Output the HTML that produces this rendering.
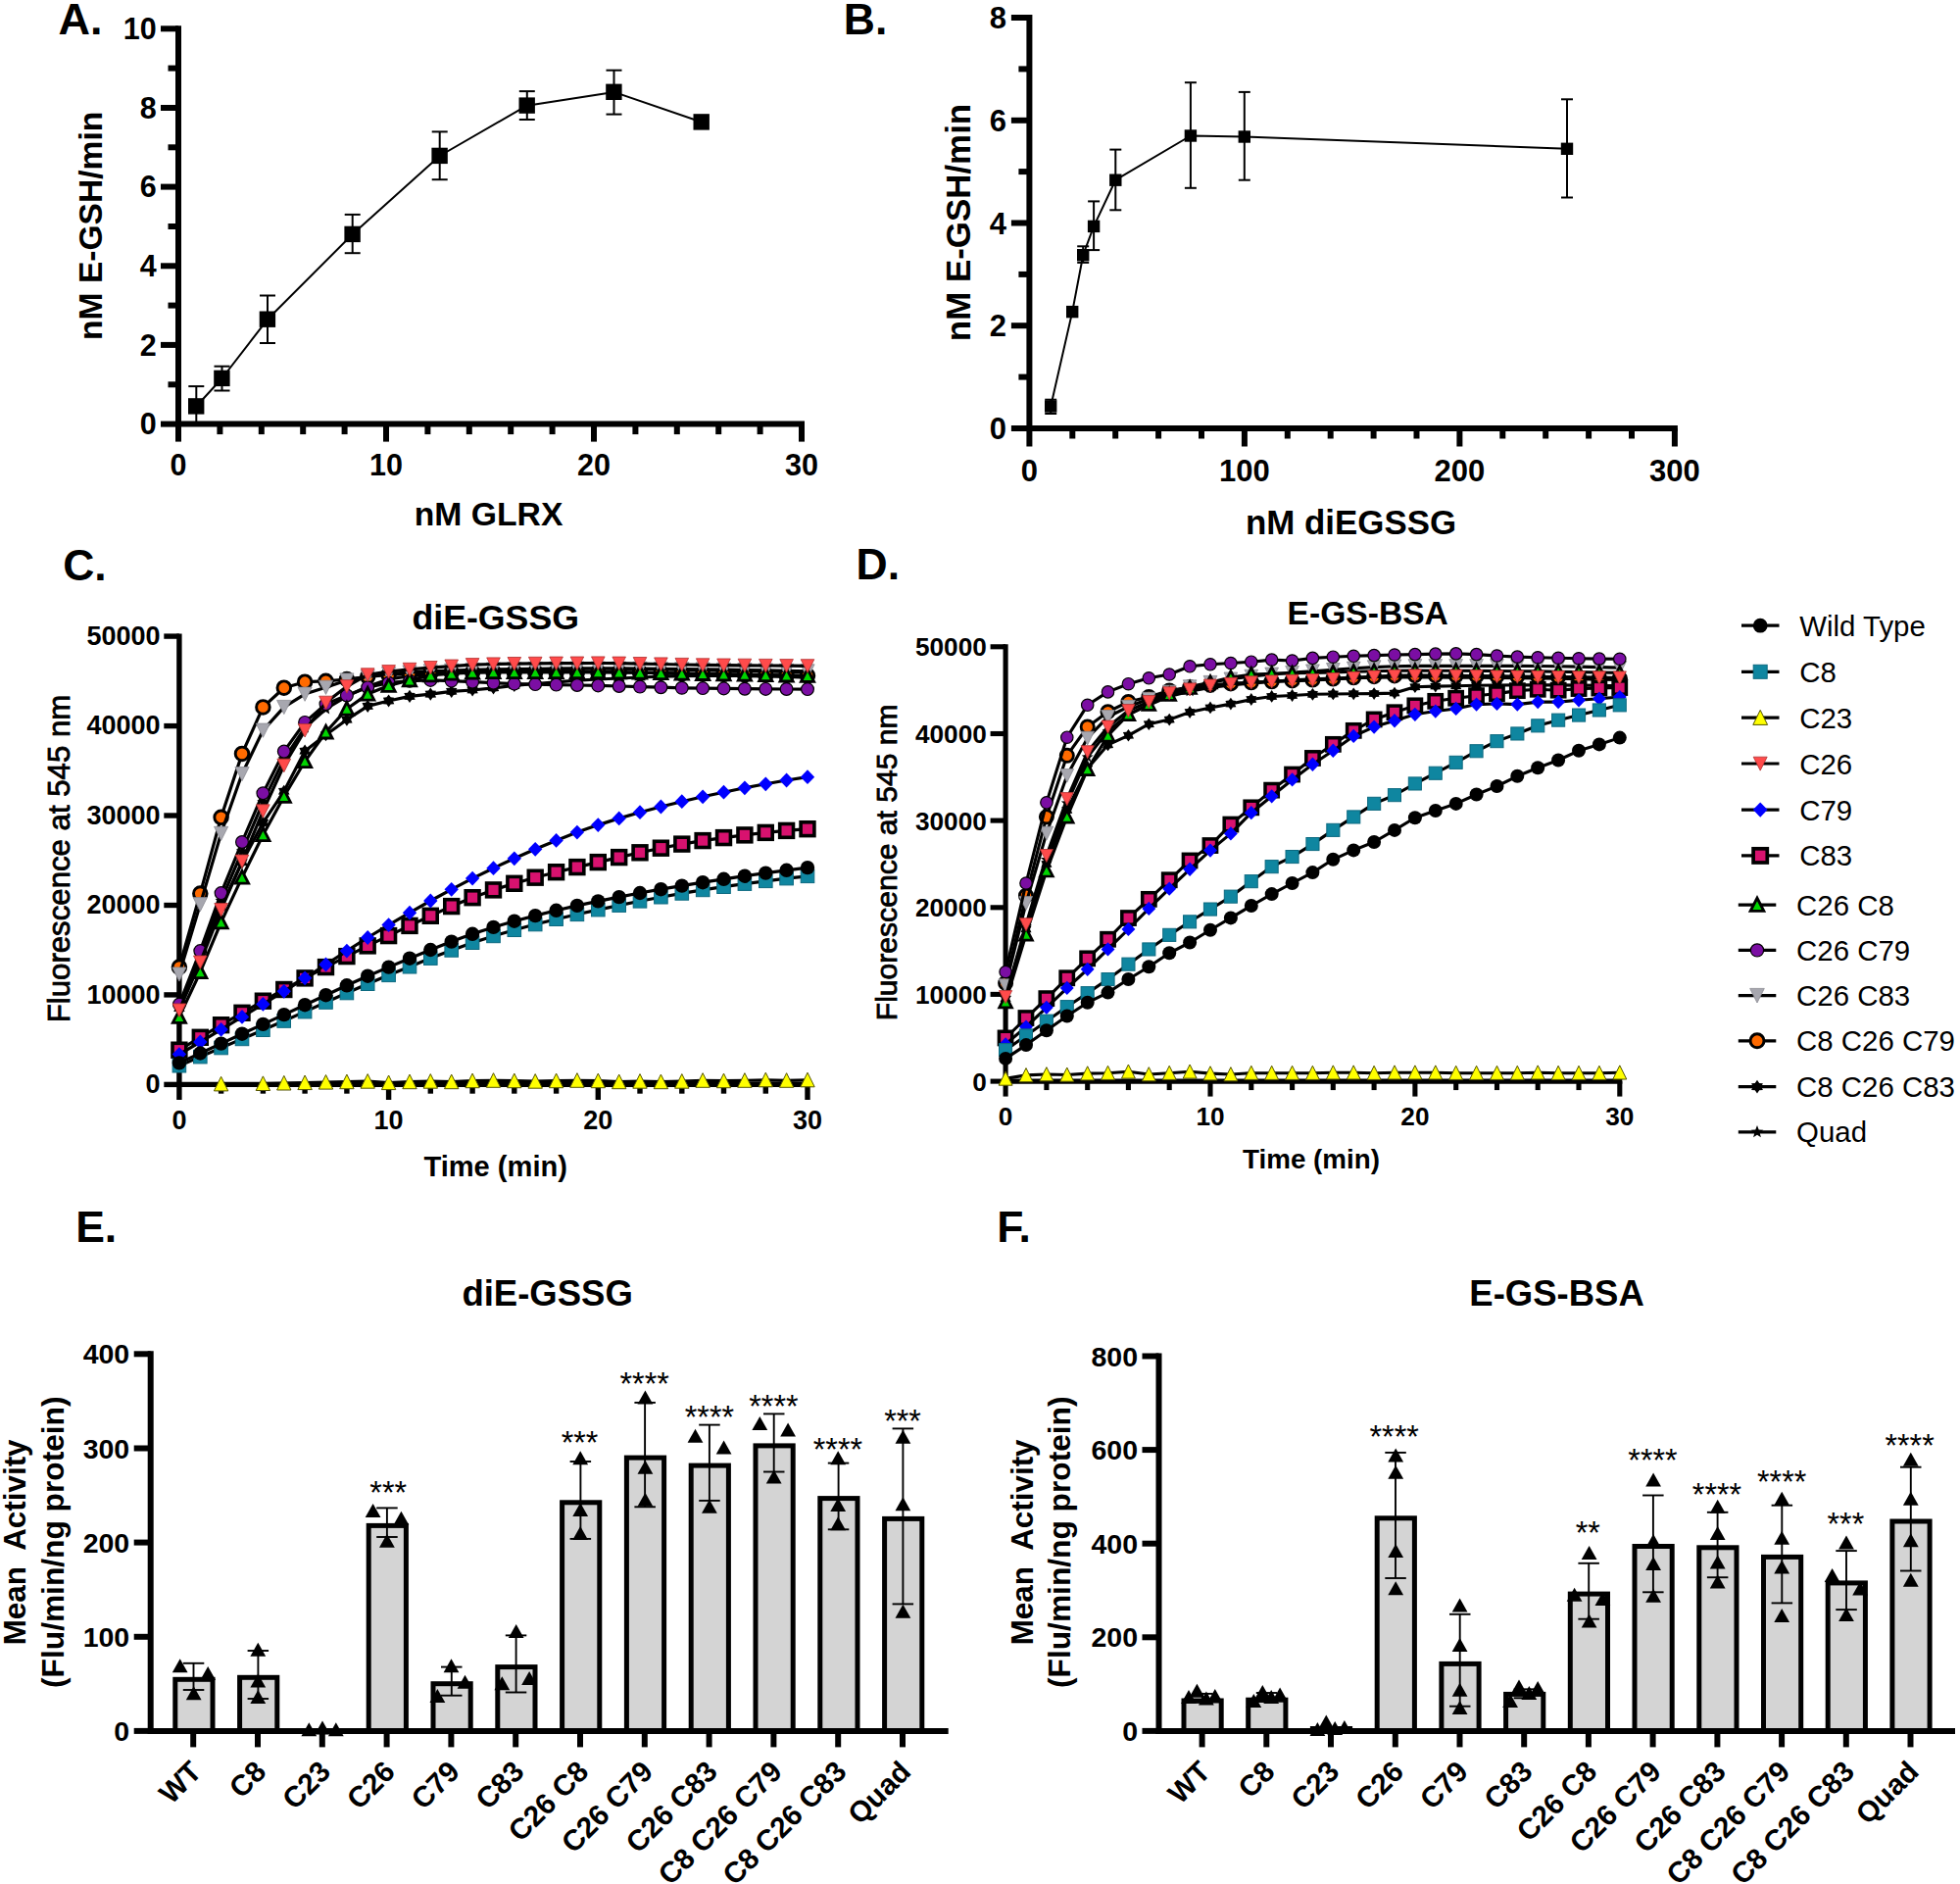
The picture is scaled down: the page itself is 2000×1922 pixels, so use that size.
<!DOCTYPE html>
<html><head><meta charset="utf-8"><title>Figure</title>
<style>
html,body{margin:0;padding:0;background:#fff;}
svg{display:block;font-family:'Liberation Sans', sans-serif;}
</style></head><body>
<svg width="2000" height="1922" viewBox="0 0 2000 1922">
<rect width="2000" height="1922" fill="#fff"/>
<line x1="182" y1="26.3" x2="182" y2="435.6" stroke="#000" stroke-width="6" stroke-linecap="butt"/>
<line x1="179" y1="432.6" x2="821" y2="432.6" stroke="#000" stroke-width="6" stroke-linecap="butt"/>
<line x1="164" y1="432.6" x2="182" y2="432.6" stroke="#000" stroke-width="6" stroke-linecap="butt"/>
<text x="159.7" y="443.4" font-size="30.5" font-weight="bold" text-anchor="end">0</text>
<line x1="171.5" y1="392.3" x2="182" y2="392.3" stroke="#000" stroke-width="6" stroke-linecap="butt"/>
<line x1="164" y1="351.9" x2="182" y2="351.9" stroke="#000" stroke-width="6" stroke-linecap="butt"/>
<text x="159.7" y="362.7" font-size="30.5" font-weight="bold" text-anchor="end">2</text>
<line x1="171.5" y1="311.6" x2="182" y2="311.6" stroke="#000" stroke-width="6" stroke-linecap="butt"/>
<line x1="164" y1="271.3" x2="182" y2="271.3" stroke="#000" stroke-width="6" stroke-linecap="butt"/>
<text x="159.7" y="282.1" font-size="30.5" font-weight="bold" text-anchor="end">4</text>
<line x1="171.5" y1="231" x2="182" y2="231" stroke="#000" stroke-width="6" stroke-linecap="butt"/>
<line x1="164" y1="190.6" x2="182" y2="190.6" stroke="#000" stroke-width="6" stroke-linecap="butt"/>
<text x="159.7" y="201.4" font-size="30.5" font-weight="bold" text-anchor="end">6</text>
<line x1="171.5" y1="150.3" x2="182" y2="150.3" stroke="#000" stroke-width="6" stroke-linecap="butt"/>
<line x1="164" y1="110" x2="182" y2="110" stroke="#000" stroke-width="6" stroke-linecap="butt"/>
<text x="159.7" y="120.8" font-size="30.5" font-weight="bold" text-anchor="end">8</text>
<line x1="171.5" y1="69.6" x2="182" y2="69.6" stroke="#000" stroke-width="6" stroke-linecap="butt"/>
<line x1="164" y1="29.3" x2="182" y2="29.3" stroke="#000" stroke-width="6" stroke-linecap="butt"/>
<text x="159.7" y="40.1" font-size="30.5" font-weight="bold" text-anchor="end">10</text>
<line x1="182" y1="432.6" x2="182" y2="450.6" stroke="#000" stroke-width="6" stroke-linecap="butt"/>
<text x="182" y="484.8" font-size="30.5" font-weight="bold" text-anchor="middle">0</text>
<line x1="224.4" y1="432.6" x2="224.4" y2="443.1" stroke="#000" stroke-width="6" stroke-linecap="butt"/>
<line x1="266.8" y1="432.6" x2="266.8" y2="443.1" stroke="#000" stroke-width="6" stroke-linecap="butt"/>
<line x1="309.2" y1="432.6" x2="309.2" y2="443.1" stroke="#000" stroke-width="6" stroke-linecap="butt"/>
<line x1="351.6" y1="432.6" x2="351.6" y2="443.1" stroke="#000" stroke-width="6" stroke-linecap="butt"/>
<line x1="394" y1="432.6" x2="394" y2="450.6" stroke="#000" stroke-width="6" stroke-linecap="butt"/>
<text x="394" y="484.8" font-size="30.5" font-weight="bold" text-anchor="middle">10</text>
<line x1="436.4" y1="432.6" x2="436.4" y2="443.1" stroke="#000" stroke-width="6" stroke-linecap="butt"/>
<line x1="478.8" y1="432.6" x2="478.8" y2="443.1" stroke="#000" stroke-width="6" stroke-linecap="butt"/>
<line x1="521.2" y1="432.6" x2="521.2" y2="443.1" stroke="#000" stroke-width="6" stroke-linecap="butt"/>
<line x1="563.6" y1="432.6" x2="563.6" y2="443.1" stroke="#000" stroke-width="6" stroke-linecap="butt"/>
<line x1="606" y1="432.6" x2="606" y2="450.6" stroke="#000" stroke-width="6" stroke-linecap="butt"/>
<text x="606" y="484.8" font-size="30.5" font-weight="bold" text-anchor="middle">20</text>
<line x1="648.4" y1="432.6" x2="648.4" y2="443.1" stroke="#000" stroke-width="6" stroke-linecap="butt"/>
<line x1="690.8" y1="432.6" x2="690.8" y2="443.1" stroke="#000" stroke-width="6" stroke-linecap="butt"/>
<line x1="733.2" y1="432.6" x2="733.2" y2="443.1" stroke="#000" stroke-width="6" stroke-linecap="butt"/>
<line x1="775.6" y1="432.6" x2="775.6" y2="443.1" stroke="#000" stroke-width="6" stroke-linecap="butt"/>
<line x1="818" y1="432.6" x2="818" y2="450.6" stroke="#000" stroke-width="6" stroke-linecap="butt"/>
<text x="818" y="484.8" font-size="30.5" font-weight="bold" text-anchor="middle">30</text>
<text x="498.6" y="536.4" font-size="33.7" font-weight="bold" text-anchor="middle">nM GLRX</text>
<text x="104.4" y="230.3" font-size="33.6" font-weight="bold" text-anchor="middle" transform="rotate(-90 104.4 230.3)">nM E-GSH/min</text>
<text x="59.6" y="34.8" font-size="45" font-weight="bold" text-anchor="start">A.</text>
<polyline points="200.3,414.5 226.5,386 273,325.8 359.7,239 448.7,159 537.8,107.7 626.5,93.9 715.8,124.5" fill="none" stroke="#000" stroke-width="2" stroke-linejoin="round"/>
<line x1="200.3" y1="394.1" x2="200.3" y2="432.6" stroke="#000" stroke-width="2" stroke-linecap="butt"/>
<line x1="192.3" y1="394.1" x2="208.3" y2="394.1" stroke="#000" stroke-width="2" stroke-linecap="butt"/>
<line x1="192.3" y1="432.6" x2="208.3" y2="432.6" stroke="#000" stroke-width="2" stroke-linecap="butt"/>
<line x1="226.5" y1="373.7" x2="226.5" y2="398.5" stroke="#000" stroke-width="2" stroke-linecap="butt"/>
<line x1="218.5" y1="373.7" x2="234.5" y2="373.7" stroke="#000" stroke-width="2" stroke-linecap="butt"/>
<line x1="218.5" y1="398.5" x2="234.5" y2="398.5" stroke="#000" stroke-width="2" stroke-linecap="butt"/>
<line x1="273" y1="301.5" x2="273" y2="350" stroke="#000" stroke-width="2" stroke-linecap="butt"/>
<line x1="265" y1="301.5" x2="281" y2="301.5" stroke="#000" stroke-width="2" stroke-linecap="butt"/>
<line x1="265" y1="350" x2="281" y2="350" stroke="#000" stroke-width="2" stroke-linecap="butt"/>
<line x1="359.7" y1="218.9" x2="359.7" y2="258.2" stroke="#000" stroke-width="2" stroke-linecap="butt"/>
<line x1="351.7" y1="218.9" x2="367.7" y2="218.9" stroke="#000" stroke-width="2" stroke-linecap="butt"/>
<line x1="351.7" y1="258.2" x2="367.7" y2="258.2" stroke="#000" stroke-width="2" stroke-linecap="butt"/>
<line x1="448.7" y1="134.4" x2="448.7" y2="183.2" stroke="#000" stroke-width="2" stroke-linecap="butt"/>
<line x1="440.7" y1="134.4" x2="456.7" y2="134.4" stroke="#000" stroke-width="2" stroke-linecap="butt"/>
<line x1="440.7" y1="183.2" x2="456.7" y2="183.2" stroke="#000" stroke-width="2" stroke-linecap="butt"/>
<line x1="537.8" y1="93.1" x2="537.8" y2="122" stroke="#000" stroke-width="2" stroke-linecap="butt"/>
<line x1="529.8" y1="93.1" x2="545.8" y2="93.1" stroke="#000" stroke-width="2" stroke-linecap="butt"/>
<line x1="529.8" y1="122" x2="545.8" y2="122" stroke="#000" stroke-width="2" stroke-linecap="butt"/>
<line x1="626.5" y1="71.7" x2="626.5" y2="116.6" stroke="#000" stroke-width="2" stroke-linecap="butt"/>
<line x1="618.5" y1="71.7" x2="634.5" y2="71.7" stroke="#000" stroke-width="2" stroke-linecap="butt"/>
<line x1="618.5" y1="116.6" x2="634.5" y2="116.6" stroke="#000" stroke-width="2" stroke-linecap="butt"/>
<rect x="192" y="406.2" width="16.4" height="16.4" fill="#000"/>
<rect x="218.2" y="377.7" width="16.4" height="16.4" fill="#000"/>
<rect x="264.7" y="317.5" width="16.4" height="16.4" fill="#000"/>
<rect x="351.4" y="230.7" width="16.4" height="16.4" fill="#000"/>
<rect x="440.4" y="150.7" width="16.4" height="16.4" fill="#000"/>
<rect x="529.5" y="99.4" width="16.4" height="16.4" fill="#000"/>
<rect x="618.2" y="85.6" width="16.4" height="16.4" fill="#000"/>
<rect x="707.5" y="116.2" width="16.4" height="16.4" fill="#000"/>
<line x1="1050.4" y1="15" x2="1050.4" y2="440" stroke="#000" stroke-width="6" stroke-linecap="butt"/>
<line x1="1047.4" y1="437" x2="1711.9" y2="437" stroke="#000" stroke-width="6" stroke-linecap="butt"/>
<line x1="1031.9" y1="437" x2="1050.4" y2="437" stroke="#000" stroke-width="6" stroke-linecap="butt"/>
<text x="1027.1" y="448" font-size="31" font-weight="bold" text-anchor="end">0</text>
<line x1="1039.4" y1="384.6" x2="1050.4" y2="384.6" stroke="#000" stroke-width="6" stroke-linecap="butt"/>
<line x1="1031.9" y1="332.2" x2="1050.4" y2="332.2" stroke="#000" stroke-width="6" stroke-linecap="butt"/>
<text x="1027.1" y="343.2" font-size="31" font-weight="bold" text-anchor="end">2</text>
<line x1="1039.4" y1="279.9" x2="1050.4" y2="279.9" stroke="#000" stroke-width="6" stroke-linecap="butt"/>
<line x1="1031.9" y1="227.5" x2="1050.4" y2="227.5" stroke="#000" stroke-width="6" stroke-linecap="butt"/>
<text x="1027.1" y="238.5" font-size="31" font-weight="bold" text-anchor="end">4</text>
<line x1="1039.4" y1="175.1" x2="1050.4" y2="175.1" stroke="#000" stroke-width="6" stroke-linecap="butt"/>
<line x1="1031.9" y1="122.8" x2="1050.4" y2="122.8" stroke="#000" stroke-width="6" stroke-linecap="butt"/>
<text x="1027.1" y="133.8" font-size="31" font-weight="bold" text-anchor="end">6</text>
<line x1="1039.4" y1="70.4" x2="1050.4" y2="70.4" stroke="#000" stroke-width="6" stroke-linecap="butt"/>
<line x1="1031.9" y1="18" x2="1050.4" y2="18" stroke="#000" stroke-width="6" stroke-linecap="butt"/>
<text x="1027.1" y="29" font-size="31" font-weight="bold" text-anchor="end">8</text>
<line x1="1050.4" y1="437" x2="1050.4" y2="455.5" stroke="#000" stroke-width="6" stroke-linecap="butt"/>
<text x="1050.4" y="490.6" font-size="31" font-weight="bold" text-anchor="middle">0</text>
<line x1="1094.3" y1="437" x2="1094.3" y2="447.5" stroke="#000" stroke-width="6" stroke-linecap="butt"/>
<line x1="1138.2" y1="437" x2="1138.2" y2="447.5" stroke="#000" stroke-width="6" stroke-linecap="butt"/>
<line x1="1182.1" y1="437" x2="1182.1" y2="447.5" stroke="#000" stroke-width="6" stroke-linecap="butt"/>
<line x1="1226" y1="437" x2="1226" y2="447.5" stroke="#000" stroke-width="6" stroke-linecap="butt"/>
<line x1="1269.9" y1="437" x2="1269.9" y2="455.5" stroke="#000" stroke-width="6" stroke-linecap="butt"/>
<text x="1269.9" y="490.6" font-size="31" font-weight="bold" text-anchor="middle">100</text>
<line x1="1313.8" y1="437" x2="1313.8" y2="447.5" stroke="#000" stroke-width="6" stroke-linecap="butt"/>
<line x1="1357.7" y1="437" x2="1357.7" y2="447.5" stroke="#000" stroke-width="6" stroke-linecap="butt"/>
<line x1="1401.6" y1="437" x2="1401.6" y2="447.5" stroke="#000" stroke-width="6" stroke-linecap="butt"/>
<line x1="1445.5" y1="437" x2="1445.5" y2="447.5" stroke="#000" stroke-width="6" stroke-linecap="butt"/>
<line x1="1489.4" y1="437" x2="1489.4" y2="455.5" stroke="#000" stroke-width="6" stroke-linecap="butt"/>
<text x="1489.4" y="490.6" font-size="31" font-weight="bold" text-anchor="middle">200</text>
<line x1="1533.3" y1="437" x2="1533.3" y2="447.5" stroke="#000" stroke-width="6" stroke-linecap="butt"/>
<line x1="1577.2" y1="437" x2="1577.2" y2="447.5" stroke="#000" stroke-width="6" stroke-linecap="butt"/>
<line x1="1621.1" y1="437" x2="1621.1" y2="447.5" stroke="#000" stroke-width="6" stroke-linecap="butt"/>
<line x1="1665" y1="437" x2="1665" y2="447.5" stroke="#000" stroke-width="6" stroke-linecap="butt"/>
<line x1="1708.9" y1="437" x2="1708.9" y2="455.5" stroke="#000" stroke-width="6" stroke-linecap="butt"/>
<text x="1708.9" y="490.6" font-size="31" font-weight="bold" text-anchor="middle">300</text>
<text x="1378.5" y="544.6" font-size="34.9" font-weight="bold" text-anchor="middle">nM diEGSSG</text>
<text x="989.8" y="227" font-size="34.9" font-weight="bold" text-anchor="middle" transform="rotate(-90 989.8 227)">nM E-GSH/min</text>
<text x="860.8" y="35.2" font-size="44.5" font-weight="bold" text-anchor="start">B.</text>
<polyline points="1072.2,414.5 1094.2,318.1 1105.2,260.2 1116.1,230.9 1138.3,183.7 1214.9,138.5 1269.8,139.5 1599,151.8" fill="none" stroke="#000" stroke-width="2" stroke-linejoin="round"/>
<line x1="1072.2" y1="407.7" x2="1072.2" y2="422" stroke="#000" stroke-width="2" stroke-linecap="butt"/>
<line x1="1066.2" y1="407.7" x2="1078.2" y2="407.7" stroke="#000" stroke-width="2" stroke-linecap="butt"/>
<line x1="1066.2" y1="422" x2="1078.2" y2="422" stroke="#000" stroke-width="2" stroke-linecap="butt"/>
<line x1="1105.2" y1="251.3" x2="1105.2" y2="267.9" stroke="#000" stroke-width="2" stroke-linecap="butt"/>
<line x1="1099.2" y1="251.3" x2="1111.2" y2="251.3" stroke="#000" stroke-width="2" stroke-linecap="butt"/>
<line x1="1099.2" y1="267.9" x2="1111.2" y2="267.9" stroke="#000" stroke-width="2" stroke-linecap="butt"/>
<line x1="1116.1" y1="205.4" x2="1116.1" y2="255.1" stroke="#000" stroke-width="2" stroke-linecap="butt"/>
<line x1="1110.1" y1="205.4" x2="1122.1" y2="205.4" stroke="#000" stroke-width="2" stroke-linecap="butt"/>
<line x1="1110.1" y1="255.1" x2="1122.1" y2="255.1" stroke="#000" stroke-width="2" stroke-linecap="butt"/>
<line x1="1138.3" y1="152.6" x2="1138.3" y2="214.3" stroke="#000" stroke-width="2" stroke-linecap="butt"/>
<line x1="1132.3" y1="152.6" x2="1144.3" y2="152.6" stroke="#000" stroke-width="2" stroke-linecap="butt"/>
<line x1="1132.3" y1="214.3" x2="1144.3" y2="214.3" stroke="#000" stroke-width="2" stroke-linecap="butt"/>
<line x1="1214.9" y1="84.2" x2="1214.9" y2="191.8" stroke="#000" stroke-width="2" stroke-linecap="butt"/>
<line x1="1208.9" y1="84.2" x2="1220.9" y2="84.2" stroke="#000" stroke-width="2" stroke-linecap="butt"/>
<line x1="1208.9" y1="191.8" x2="1220.9" y2="191.8" stroke="#000" stroke-width="2" stroke-linecap="butt"/>
<line x1="1269.8" y1="93.9" x2="1269.8" y2="183.7" stroke="#000" stroke-width="2" stroke-linecap="butt"/>
<line x1="1263.8" y1="93.9" x2="1275.8" y2="93.9" stroke="#000" stroke-width="2" stroke-linecap="butt"/>
<line x1="1263.8" y1="183.7" x2="1275.8" y2="183.7" stroke="#000" stroke-width="2" stroke-linecap="butt"/>
<line x1="1599" y1="101.3" x2="1599" y2="201.5" stroke="#000" stroke-width="2" stroke-linecap="butt"/>
<line x1="1593" y1="101.3" x2="1605" y2="101.3" stroke="#000" stroke-width="2" stroke-linecap="butt"/>
<line x1="1593" y1="201.5" x2="1605" y2="201.5" stroke="#000" stroke-width="2" stroke-linecap="butt"/>
<rect x="1066" y="408.3" width="12.4" height="12.4" fill="#000"/>
<rect x="1088" y="311.9" width="12.4" height="12.4" fill="#000"/>
<rect x="1099" y="254" width="12.4" height="12.4" fill="#000"/>
<rect x="1109.9" y="224.7" width="12.4" height="12.4" fill="#000"/>
<rect x="1132.1" y="177.5" width="12.4" height="12.4" fill="#000"/>
<rect x="1208.7" y="132.3" width="12.4" height="12.4" fill="#000"/>
<rect x="1263.6" y="133.3" width="12.4" height="12.4" fill="#000"/>
<rect x="1592.8" y="145.6" width="12.4" height="12.4" fill="#000"/>
<line x1="182.9" y1="646.4" x2="182.9" y2="1109.1" stroke="#000" stroke-width="5.4" stroke-linecap="butt"/>
<line x1="180.2" y1="1106.4" x2="826.7" y2="1106.4" stroke="#000" stroke-width="5.4" stroke-linecap="butt"/>
<line x1="167.3" y1="1106.4" x2="182.9" y2="1106.4" stroke="#000" stroke-width="5.4" stroke-linecap="butt"/>
<text x="163.5" y="1115.3" font-size="27" font-weight="bold" text-anchor="end">0</text>
<line x1="167.3" y1="1014.9" x2="182.9" y2="1014.9" stroke="#000" stroke-width="5.4" stroke-linecap="butt"/>
<text x="163.5" y="1023.8" font-size="27" font-weight="bold" text-anchor="end">10000</text>
<line x1="167.3" y1="923.5" x2="182.9" y2="923.5" stroke="#000" stroke-width="5.4" stroke-linecap="butt"/>
<text x="163.5" y="932.3" font-size="27" font-weight="bold" text-anchor="end">20000</text>
<line x1="167.3" y1="832" x2="182.9" y2="832" stroke="#000" stroke-width="5.4" stroke-linecap="butt"/>
<text x="163.5" y="840.9" font-size="27" font-weight="bold" text-anchor="end">30000</text>
<line x1="167.3" y1="740.6" x2="182.9" y2="740.6" stroke="#000" stroke-width="5.4" stroke-linecap="butt"/>
<text x="163.5" y="749.4" font-size="27" font-weight="bold" text-anchor="end">40000</text>
<line x1="167.3" y1="649.1" x2="182.9" y2="649.1" stroke="#000" stroke-width="5.4" stroke-linecap="butt"/>
<text x="163.5" y="658" font-size="27" font-weight="bold" text-anchor="end">50000</text>
<line x1="182.9" y1="1106.4" x2="182.9" y2="1122" stroke="#000" stroke-width="5.4" stroke-linecap="butt"/>
<text x="182.9" y="1151.9" font-size="27" font-weight="bold" text-anchor="middle">0</text>
<line x1="225.6" y1="1106.4" x2="225.6" y2="1115.7" stroke="#000" stroke-width="5.4" stroke-linecap="butt"/>
<line x1="268.4" y1="1106.4" x2="268.4" y2="1115.7" stroke="#000" stroke-width="5.4" stroke-linecap="butt"/>
<line x1="311.1" y1="1106.4" x2="311.1" y2="1115.7" stroke="#000" stroke-width="5.4" stroke-linecap="butt"/>
<line x1="353.9" y1="1106.4" x2="353.9" y2="1115.7" stroke="#000" stroke-width="5.4" stroke-linecap="butt"/>
<line x1="396.6" y1="1106.4" x2="396.6" y2="1122" stroke="#000" stroke-width="5.4" stroke-linecap="butt"/>
<text x="396.6" y="1151.9" font-size="27" font-weight="bold" text-anchor="middle">10</text>
<line x1="439.3" y1="1106.4" x2="439.3" y2="1115.7" stroke="#000" stroke-width="5.4" stroke-linecap="butt"/>
<line x1="482.1" y1="1106.4" x2="482.1" y2="1115.7" stroke="#000" stroke-width="5.4" stroke-linecap="butt"/>
<line x1="524.8" y1="1106.4" x2="524.8" y2="1115.7" stroke="#000" stroke-width="5.4" stroke-linecap="butt"/>
<line x1="567.6" y1="1106.4" x2="567.6" y2="1115.7" stroke="#000" stroke-width="5.4" stroke-linecap="butt"/>
<line x1="610.3" y1="1106.4" x2="610.3" y2="1122" stroke="#000" stroke-width="5.4" stroke-linecap="butt"/>
<text x="610.3" y="1151.9" font-size="27" font-weight="bold" text-anchor="middle">20</text>
<line x1="653" y1="1106.4" x2="653" y2="1115.7" stroke="#000" stroke-width="5.4" stroke-linecap="butt"/>
<line x1="695.8" y1="1106.4" x2="695.8" y2="1115.7" stroke="#000" stroke-width="5.4" stroke-linecap="butt"/>
<line x1="738.5" y1="1106.4" x2="738.5" y2="1115.7" stroke="#000" stroke-width="5.4" stroke-linecap="butt"/>
<line x1="781.3" y1="1106.4" x2="781.3" y2="1115.7" stroke="#000" stroke-width="5.4" stroke-linecap="butt"/>
<line x1="824" y1="1106.4" x2="824" y2="1122" stroke="#000" stroke-width="5.4" stroke-linecap="butt"/>
<text x="824" y="1151.9" font-size="27" font-weight="bold" text-anchor="middle">30</text>
<polyline points="182.9,1026.8 204.3,975.6 225.6,918.9 247,868.6 268.4,818.3 289.8,774.4 311.1,742.4 332.5,723.2 353.9,710.4 375.2,700.3 396.6,693 418,689.6 439.3,687.5 460.7,685.9 482.1,684.7 503.5,683.9 524.8,683.3 546.2,682.8 567.6,682.4 588.9,682.1 610.3,682 631.7,682.2 653,682.5 674.4,682.9 695.8,683.4 717.1,683.9 738.5,684.2 759.9,684.6 781.3,685 802.6,685.3 824,685.7" fill="none" stroke="#000" stroke-width="3.2" stroke-linejoin="round"/>
<polygon points="182.9,1020.3 181.3,1024.6 176.7,1024.8 180.2,1027.7 179.1,1032.1 182.9,1029.6 186.7,1032.1 185.6,1027.7 189.1,1024.8 184.5,1024.6" fill="#000"/>
<polygon points="204.3,969.1 202.6,973.3 198.1,973.6 201.6,976.5 200.4,980.9 204.3,978.4 208.1,980.9 206.9,976.5 210.5,973.6 205.9,973.3" fill="#000"/>
<polygon points="225.6,912.4 224,916.6 219.5,916.9 223,919.8 221.8,924.2 225.6,921.7 229.5,924.2 228.3,919.8 231.8,916.9 227.3,916.6" fill="#000"/>
<polygon points="247,862.1 245.4,866.3 240.8,866.6 244.3,869.5 243.2,873.9 247,871.4 250.8,873.9 249.7,869.5 253.2,866.6 248.7,866.3" fill="#000"/>
<polygon points="268.4,811.8 266.7,816 262.2,816.3 265.7,819.2 264.6,823.6 268.4,821.1 272.2,823.6 271,819.2 274.6,816.3 270,816" fill="#000"/>
<polygon points="289.8,767.9 288.1,772.1 283.6,772.4 287.1,775.3 285.9,779.7 289.8,777.2 293.6,779.7 292.4,775.3 295.9,772.4 291.4,772.1" fill="#000"/>
<polygon points="311.1,735.9 309.5,740.1 304.9,740.4 308.5,743.3 307.3,747.6 311.1,745.2 314.9,747.6 313.8,743.3 317.3,740.4 312.8,740.1" fill="#000"/>
<polygon points="332.5,716.7 330.8,720.9 326.3,721.2 329.8,724 328.7,728.4 332.5,726 336.3,728.4 335.2,724 338.7,721.2 334.1,720.9" fill="#000"/>
<polygon points="353.9,703.9 352.2,708.1 347.7,708.4 351.2,711.2 350,715.6 353.9,713.2 357.7,715.6 356.5,711.2 360,708.4 355.5,708.1" fill="#000"/>
<polygon points="375.2,693.8 373.6,698.1 369,698.3 372.6,701.2 371.4,705.6 375.2,703.1 379.1,705.6 377.9,701.2 381.4,698.3 376.9,698.1" fill="#000"/>
<polygon points="396.6,686.5 395,690.7 390.4,691 393.9,693.9 392.8,698.3 396.6,695.8 400.4,698.3 399.3,693.9 402.8,691 398.2,690.7" fill="#000"/>
<polygon points="418,683.1 416.3,687.4 411.8,687.6 415.3,690.5 414.1,694.9 418,692.4 421.8,694.9 420.6,690.5 424.2,687.6 419.6,687.4" fill="#000"/>
<polygon points="439.3,681 437.7,685.2 433.2,685.5 436.7,688.4 435.5,692.8 439.3,690.3 443.2,692.8 442,688.4 445.5,685.5 441,685.2" fill="#000"/>
<polygon points="460.7,679.4 459.1,683.7 454.5,683.9 458,686.8 456.9,691.2 460.7,688.7 464.5,691.2 463.4,686.8 466.9,683.9 462.4,683.7" fill="#000"/>
<polygon points="482.1,678.2 480.4,682.4 475.9,682.7 479.4,685.5 478.3,689.9 482.1,687.5 485.9,689.9 484.7,685.5 488.3,682.7 483.7,682.4" fill="#000"/>
<polygon points="503.5,677.4 501.8,681.6 497.3,681.8 500.8,684.7 499.6,689.1 503.5,686.7 507.3,689.1 506.1,684.7 509.6,681.8 505.1,681.6" fill="#000"/>
<polygon points="524.8,676.8 523.2,681 518.6,681.3 522.2,684.2 521,688.5 524.8,686.1 528.6,688.5 527.5,684.2 531,681.3 526.5,681" fill="#000"/>
<polygon points="546.2,676.3 544.5,680.5 540,680.8 543.5,683.7 542.4,688 546.2,685.6 550,688 548.9,683.7 552.4,680.8 547.8,680.5" fill="#000"/>
<polygon points="567.6,675.9 565.9,680.1 561.4,680.4 564.9,683.3 563.7,687.6 567.6,685.2 571.4,687.6 570.2,683.3 573.7,680.4 569.2,680.1" fill="#000"/>
<polygon points="588.9,675.6 587.3,679.9 582.7,680.1 586.3,683 585.1,687.4 588.9,684.9 592.8,687.4 591.6,683 595.1,680.1 590.6,679.9" fill="#000"/>
<polygon points="610.3,675.5 608.7,679.8 604.1,680 607.6,682.9 606.5,687.3 610.3,684.8 614.1,687.3 613,682.9 616.5,680 611.9,679.8" fill="#000"/>
<polygon points="631.7,675.7 630,679.9 625.5,680.1 629,683 627.8,687.4 631.7,685 635.5,687.4 634.3,683 637.9,680.1 633.3,679.9" fill="#000"/>
<polygon points="653,676 651.4,680.2 646.9,680.5 650.4,683.4 649.2,687.8 653,685.3 656.9,687.8 655.7,683.4 659.2,680.5 654.7,680.2" fill="#000"/>
<polygon points="674.4,676.4 672.8,680.7 668.2,680.9 671.7,683.8 670.6,688.2 674.4,685.7 678.2,688.2 677.1,683.8 680.6,680.9 676.1,680.7" fill="#000"/>
<polygon points="695.8,676.9 694.1,681.2 689.6,681.4 693.1,684.3 692,688.7 695.8,686.2 699.6,688.7 698.4,684.3 702,681.4 697.4,681.2" fill="#000"/>
<polygon points="717.1,677.4 715.5,681.6 711,681.8 714.5,684.7 713.3,689.1 717.1,686.7 721,689.1 719.8,684.7 723.3,681.8 718.8,681.6" fill="#000"/>
<polygon points="738.5,677.7 736.9,682 732.3,682.2 735.9,685.1 734.7,689.5 738.5,687 742.3,689.5 741.2,685.1 744.7,682.2 740.2,682" fill="#000"/>
<polygon points="759.9,678.1 758.2,682.3 753.7,682.6 757.2,685.5 756.1,689.8 759.9,687.4 763.7,689.8 762.6,685.5 766.1,682.6 761.5,682.3" fill="#000"/>
<polygon points="781.3,678.5 779.6,682.7 775.1,682.9 778.6,685.8 777.4,690.2 781.3,687.8 785.1,690.2 783.9,685.8 787.4,682.9 782.9,682.7" fill="#000"/>
<polygon points="802.6,678.8 801,683.1 796.4,683.3 800,686.2 798.8,690.6 802.6,688.1 806.5,690.6 805.3,686.2 808.8,683.3 804.3,683.1" fill="#000"/>
<polygon points="824,679.2 822.4,683.4 817.8,683.7 821.3,686.5 820.2,690.9 824,688.5 827.8,690.9 826.7,686.5 830.2,683.7 825.6,683.4" fill="#000"/>
<polyline points="182.9,1028.7 204.3,978.4 225.6,925.3 247,879.6 268.4,839.3 289.8,807.3 311.1,766.2 332.5,749.7 353.9,734.2 375.2,720.4 396.6,715 418,710.4 439.3,708.1 460.7,705.3 482.1,704 503.5,701.8 524.8,699.4 546.2,697.5 567.6,695.8 588.9,694.2 610.3,693 631.7,692 653,691 674.4,690.1 695.8,689.6 717.1,689.3 738.5,689.4 759.9,689.5 781.3,689.9 802.6,690.4 824,691.2" fill="none" stroke="#000" stroke-width="3.2" stroke-linejoin="round"/>
<polygon points="182.9,1022.1 180.8,1025 177.2,1025.4 178.7,1028.7 177.2,1032 180.8,1032.3 182.9,1035.3 185,1032.3 188.6,1032 187.1,1028.7 188.6,1025.4 185,1025" fill="#000"/>
<polygon points="204.3,971.8 202.2,974.7 198.6,975.1 200.1,978.4 198.6,981.7 202.2,982 204.3,985 206.4,982 210,981.7 208.5,978.4 210,975.1 206.4,974.7" fill="#000"/>
<polygon points="225.6,918.7 223.5,921.7 219.9,922 221.4,925.3 219.9,928.6 223.5,928.9 225.6,931.9 227.7,928.9 231.4,928.6 229.8,925.3 231.4,922 227.7,921.7" fill="#000"/>
<polygon points="247,873 244.9,875.9 241.3,876.3 242.8,879.6 241.3,882.9 244.9,883.2 247,886.2 249.1,883.2 252.7,882.9 251.2,879.6 252.7,876.3 249.1,875.9" fill="#000"/>
<polygon points="268.4,832.7 266.3,835.7 262.7,836 264.2,839.3 262.7,842.6 266.3,843 268.4,845.9 270.5,843 274.1,842.6 272.6,839.3 274.1,836 270.5,835.7" fill="#000"/>
<polygon points="289.8,800.7 287.6,803.7 284,804 285.6,807.3 284,810.6 287.6,811 289.8,813.9 291.9,811 295.5,810.6 293.9,807.3 295.5,804 291.9,803.7" fill="#000"/>
<polygon points="311.1,759.6 309,762.5 305.4,762.9 306.9,766.2 305.4,769.5 309,769.8 311.1,772.8 313.2,769.8 316.8,769.5 315.3,766.2 316.8,762.9 313.2,762.5" fill="#000"/>
<polygon points="332.5,743.1 330.4,746.1 326.8,746.4 328.3,749.7 326.8,753 330.4,753.3 332.5,756.3 334.6,753.3 338.2,753 336.7,749.7 338.2,746.4 334.6,746.1" fill="#000"/>
<polygon points="353.9,727.6 351.8,730.5 348.1,730.9 349.7,734.2 348.1,737.5 351.8,737.8 353.9,740.8 356,737.8 359.6,737.5 358.1,734.2 359.6,730.9 356,730.5" fill="#000"/>
<polygon points="375.2,713.8 373.1,716.8 369.5,717.1 371,720.4 369.5,723.7 373.1,724.1 375.2,727 377.3,724.1 380.9,723.7 379.4,720.4 380.9,717.1 377.3,716.8" fill="#000"/>
<polygon points="396.6,708.4 394.5,711.3 390.9,711.7 392.4,715 390.9,718.3 394.5,718.6 396.6,721.6 398.7,718.6 402.3,718.3 400.8,715 402.3,711.7 398.7,711.3" fill="#000"/>
<polygon points="418,703.8 415.9,706.7 412.3,707.1 413.8,710.4 412.3,713.7 415.9,714 418,717 420.1,714 423.7,713.7 422.2,710.4 423.7,707.1 420.1,706.7" fill="#000"/>
<polygon points="439.3,701.5 437.2,704.5 433.6,704.8 435.1,708.1 433.6,711.4 437.2,711.7 439.3,714.7 441.4,711.7 445.1,711.4 443.5,708.1 445.1,704.8 441.4,704.5" fill="#000"/>
<polygon points="460.7,698.7 458.6,701.7 455,702 456.5,705.3 455,708.6 458.6,709 460.7,711.9 462.8,709 466.4,708.6 464.9,705.3 466.4,702 462.8,701.7" fill="#000"/>
<polygon points="482.1,697.4 480,700.3 476.4,700.7 477.9,704 476.4,707.3 480,707.6 482.1,710.6 484.2,707.6 487.8,707.3 486.3,704 487.8,700.7 484.2,700.3" fill="#000"/>
<polygon points="503.5,695.2 501.4,698.1 497.7,698.5 499.3,701.8 497.7,705.1 501.4,705.4 503.5,708.4 505.6,705.4 509.2,705.1 507.7,701.8 509.2,698.5 505.6,698.1" fill="#000"/>
<polygon points="524.8,692.8 522.7,695.8 519.1,696.1 520.6,699.4 519.1,702.7 522.7,703 524.8,706 526.9,703 530.5,702.7 529,699.4 530.5,696.1 526.9,695.8" fill="#000"/>
<polygon points="546.2,690.9 544.1,693.9 540.5,694.2 542,697.5 540.5,700.8 544.1,701.2 546.2,704.1 548.3,701.2 551.9,700.8 550.4,697.5 551.9,694.2 548.3,693.9" fill="#000"/>
<polygon points="567.6,689.2 565.5,692.1 561.8,692.5 563.4,695.8 561.8,699.1 565.5,699.4 567.6,702.4 569.7,699.4 573.3,699.1 571.8,695.8 573.3,692.5 569.7,692.1" fill="#000"/>
<polygon points="588.9,687.6 586.8,690.6 583.2,690.9 584.7,694.2 583.2,697.5 586.8,697.9 588.9,700.8 591,697.9 594.6,697.5 593.1,694.2 594.6,690.9 591,690.6" fill="#000"/>
<polygon points="610.3,686.4 608.2,689.4 604.6,689.7 606.1,693 604.6,696.3 608.2,696.6 610.3,699.6 612.4,696.6 616,696.3 614.5,693 616,689.7 612.4,689.4" fill="#000"/>
<polygon points="631.7,685.4 629.6,688.3 626,688.7 627.5,692 626,695.3 629.6,695.6 631.7,698.6 633.8,695.6 637.4,695.3 635.9,692 637.4,688.7 633.8,688.3" fill="#000"/>
<polygon points="653,684.4 650.9,687.3 647.3,687.7 648.8,691 647.3,694.3 650.9,694.6 653,697.6 655.1,694.6 658.8,694.3 657.2,691 658.8,687.7 655.1,687.3" fill="#000"/>
<polygon points="674.4,683.5 672.3,686.5 668.7,686.8 670.2,690.1 668.7,693.4 672.3,693.8 674.4,696.7 676.5,693.8 680.1,693.4 678.6,690.1 680.1,686.8 676.5,686.5" fill="#000"/>
<polygon points="695.8,683 693.7,685.9 690.1,686.3 691.6,689.6 690.1,692.9 693.7,693.2 695.8,696.2 697.9,693.2 701.5,692.9 700,689.6 701.5,686.3 697.9,685.9" fill="#000"/>
<polygon points="717.1,682.7 715,685.7 711.4,686 712.9,689.3 711.4,692.6 715,693 717.1,695.9 719.2,693 722.9,692.6 721.4,689.3 722.9,686 719.2,685.7" fill="#000"/>
<polygon points="738.5,682.8 736.4,685.7 732.8,686.1 734.3,689.4 732.8,692.7 736.4,693 738.5,696 740.6,693 744.2,692.7 742.7,689.4 744.2,686.1 740.6,685.7" fill="#000"/>
<polygon points="759.9,682.9 757.8,685.9 754.2,686.2 755.7,689.5 754.2,692.8 757.8,693.2 759.9,696.1 762,693.2 765.6,692.8 764.1,689.5 765.6,686.2 762,685.9" fill="#000"/>
<polygon points="781.3,683.3 779.2,686.2 775.5,686.6 777.1,689.9 775.5,693.2 779.2,693.5 781.3,696.5 783.4,693.5 787,693.2 785.5,689.9 787,686.6 783.4,686.2" fill="#000"/>
<polygon points="802.6,683.8 800.5,686.8 796.9,687.1 798.4,690.4 796.9,693.7 800.5,694 802.6,697 804.7,694 808.3,693.7 806.8,690.4 808.3,687.1 804.7,686.8" fill="#000"/>
<polygon points="824,684.6 821.9,687.5 818.3,687.9 819.8,691.2 818.3,694.5 821.9,694.8 824,697.8 826.1,694.8 829.7,694.5 828.2,691.2 829.7,687.9 826.1,687.5" fill="#000"/>
<polyline points="182.9,986.6 204.3,911.6 225.6,833.8 247,768.9 268.4,721.4 289.8,701.7 311.1,695.7 332.5,694.8 353.9,693 375.2,690.3 396.6,688.4 418,687.3 439.3,686.6 460.7,686.2 482.1,685.8 503.5,685.7 524.8,685.7 546.2,685.7 567.6,685.7 588.9,685.7 610.3,685.7 631.7,685.8 653,686.2 674.4,686.6 695.8,687.1 717.1,687.5 738.5,687.9 759.9,688.2 781.3,688.6 802.6,689 824,689.3" fill="none" stroke="#000" stroke-width="3.2" stroke-linejoin="round"/>
<circle cx="182.9" cy="986.6" r="6.8" fill="#ff6a00" stroke="#000" stroke-width="2.9"/>
<circle cx="204.3" cy="911.6" r="6.8" fill="#ff6a00" stroke="#000" stroke-width="2.9"/>
<circle cx="225.6" cy="833.8" r="6.8" fill="#ff6a00" stroke="#000" stroke-width="2.9"/>
<circle cx="247" cy="768.9" r="6.8" fill="#ff6a00" stroke="#000" stroke-width="2.9"/>
<circle cx="268.4" cy="721.4" r="6.8" fill="#ff6a00" stroke="#000" stroke-width="2.9"/>
<circle cx="289.8" cy="701.7" r="6.8" fill="#ff6a00" stroke="#000" stroke-width="2.9"/>
<circle cx="311.1" cy="695.7" r="6.8" fill="#ff6a00" stroke="#000" stroke-width="2.9"/>
<circle cx="332.5" cy="694.8" r="6.8" fill="#ff6a00" stroke="#000" stroke-width="2.9"/>
<circle cx="353.9" cy="693" r="6.8" fill="#ff6a00" stroke="#000" stroke-width="2.9"/>
<circle cx="375.2" cy="690.3" r="6.8" fill="#ff6a00" stroke="#000" stroke-width="2.9"/>
<circle cx="396.6" cy="688.4" r="6.8" fill="#ff6a00" stroke="#000" stroke-width="2.9"/>
<circle cx="418" cy="687.3" r="6.8" fill="#ff6a00" stroke="#000" stroke-width="2.9"/>
<circle cx="439.3" cy="686.6" r="6.8" fill="#ff6a00" stroke="#000" stroke-width="2.9"/>
<circle cx="460.7" cy="686.2" r="6.8" fill="#ff6a00" stroke="#000" stroke-width="2.9"/>
<circle cx="482.1" cy="685.8" r="6.8" fill="#ff6a00" stroke="#000" stroke-width="2.9"/>
<circle cx="503.5" cy="685.7" r="6.8" fill="#ff6a00" stroke="#000" stroke-width="2.9"/>
<circle cx="524.8" cy="685.7" r="6.8" fill="#ff6a00" stroke="#000" stroke-width="2.9"/>
<circle cx="546.2" cy="685.7" r="6.8" fill="#ff6a00" stroke="#000" stroke-width="2.9"/>
<circle cx="567.6" cy="685.7" r="6.8" fill="#ff6a00" stroke="#000" stroke-width="2.9"/>
<circle cx="588.9" cy="685.7" r="6.8" fill="#ff6a00" stroke="#000" stroke-width="2.9"/>
<circle cx="610.3" cy="685.7" r="6.8" fill="#ff6a00" stroke="#000" stroke-width="2.9"/>
<circle cx="631.7" cy="685.8" r="6.8" fill="#ff6a00" stroke="#000" stroke-width="2.9"/>
<circle cx="653" cy="686.2" r="6.8" fill="#ff6a00" stroke="#000" stroke-width="2.9"/>
<circle cx="674.4" cy="686.6" r="6.8" fill="#ff6a00" stroke="#000" stroke-width="2.9"/>
<circle cx="695.8" cy="687.1" r="6.8" fill="#ff6a00" stroke="#000" stroke-width="2.9"/>
<circle cx="717.1" cy="687.5" r="6.8" fill="#ff6a00" stroke="#000" stroke-width="2.9"/>
<circle cx="738.5" cy="687.9" r="6.8" fill="#ff6a00" stroke="#000" stroke-width="2.9"/>
<circle cx="759.9" cy="688.2" r="6.8" fill="#ff6a00" stroke="#000" stroke-width="2.9"/>
<circle cx="781.3" cy="688.6" r="6.8" fill="#ff6a00" stroke="#000" stroke-width="2.9"/>
<circle cx="802.6" cy="689" r="6.8" fill="#ff6a00" stroke="#000" stroke-width="2.9"/>
<circle cx="824" cy="689.3" r="6.8" fill="#ff6a00" stroke="#000" stroke-width="2.9"/>
<polyline points="182.9,993.9 204.3,922.6 225.6,850.3 247,789.5 268.4,745.1 289.8,721.4 311.1,708.1 332.5,701.2 353.9,693.9 375.2,690.3 396.6,687.5 418,685.9 439.3,684.8 460.7,684 482.1,683.4 503.5,682.9 524.8,682.7 546.2,682.4 567.6,682.2 588.9,682.1 610.3,682 631.7,682.1 653,682.2 674.4,682.4 695.8,682.7 717.1,682.9 738.5,683.2 759.9,683.5 781.3,683.9 802.6,684.3 824,684.8" fill="none" stroke="#000" stroke-width="3.2" stroke-linejoin="round"/>
<polygon points="182.9,1001.1 190,986.9 175.8,986.9" fill="#a7a7af" stroke="#8a8a92" stroke-width="0.8" stroke-linejoin="miter"/>
<polygon points="204.3,929.8 211.4,915.6 197.2,915.6" fill="#a7a7af" stroke="#8a8a92" stroke-width="0.8" stroke-linejoin="miter"/>
<polygon points="225.6,857.5 232.7,843.3 218.5,843.3" fill="#a7a7af" stroke="#8a8a92" stroke-width="0.8" stroke-linejoin="miter"/>
<polygon points="247,796.7 254.1,782.5 239.9,782.5" fill="#a7a7af" stroke="#8a8a92" stroke-width="0.8" stroke-linejoin="miter"/>
<polygon points="268.4,752.3 275.5,738.1 261.3,738.1" fill="#a7a7af" stroke="#8a8a92" stroke-width="0.8" stroke-linejoin="miter"/>
<polygon points="289.8,728.6 296.9,714.4 282.6,714.4" fill="#a7a7af" stroke="#8a8a92" stroke-width="0.8" stroke-linejoin="miter"/>
<polygon points="311.1,715.3 318.2,701.1 304,701.1" fill="#a7a7af" stroke="#8a8a92" stroke-width="0.8" stroke-linejoin="miter"/>
<polygon points="332.5,708.4 339.6,694.2 325.4,694.2" fill="#a7a7af" stroke="#8a8a92" stroke-width="0.8" stroke-linejoin="miter"/>
<polygon points="353.9,701.1 361,686.9 346.8,686.9" fill="#a7a7af" stroke="#8a8a92" stroke-width="0.8" stroke-linejoin="miter"/>
<polygon points="375.2,697.5 382.3,683.3 368.1,683.3" fill="#a7a7af" stroke="#8a8a92" stroke-width="0.8" stroke-linejoin="miter"/>
<polygon points="396.6,694.7 403.7,680.5 389.5,680.5" fill="#a7a7af" stroke="#8a8a92" stroke-width="0.8" stroke-linejoin="miter"/>
<polygon points="418,693.1 425.1,678.9 410.9,678.9" fill="#a7a7af" stroke="#8a8a92" stroke-width="0.8" stroke-linejoin="miter"/>
<polygon points="439.3,692 446.4,677.8 432.2,677.8" fill="#a7a7af" stroke="#8a8a92" stroke-width="0.8" stroke-linejoin="miter"/>
<polygon points="460.7,691.2 467.8,677 453.6,677" fill="#a7a7af" stroke="#8a8a92" stroke-width="0.8" stroke-linejoin="miter"/>
<polygon points="482.1,690.6 489.2,676.4 475,676.4" fill="#a7a7af" stroke="#8a8a92" stroke-width="0.8" stroke-linejoin="miter"/>
<polygon points="503.5,690.1 510.6,675.9 496.4,675.9" fill="#a7a7af" stroke="#8a8a92" stroke-width="0.8" stroke-linejoin="miter"/>
<polygon points="524.8,689.9 531.9,675.7 517.7,675.7" fill="#a7a7af" stroke="#8a8a92" stroke-width="0.8" stroke-linejoin="miter"/>
<polygon points="546.2,689.6 553.3,675.4 539.1,675.4" fill="#a7a7af" stroke="#8a8a92" stroke-width="0.8" stroke-linejoin="miter"/>
<polygon points="567.6,689.4 574.7,675.2 560.5,675.2" fill="#a7a7af" stroke="#8a8a92" stroke-width="0.8" stroke-linejoin="miter"/>
<polygon points="588.9,689.3 596,675.1 581.8,675.1" fill="#a7a7af" stroke="#8a8a92" stroke-width="0.8" stroke-linejoin="miter"/>
<polygon points="610.3,689.2 617.4,675 603.2,675" fill="#a7a7af" stroke="#8a8a92" stroke-width="0.8" stroke-linejoin="miter"/>
<polygon points="631.7,689.3 638.8,675.1 624.6,675.1" fill="#a7a7af" stroke="#8a8a92" stroke-width="0.8" stroke-linejoin="miter"/>
<polygon points="653,689.4 660.1,675.2 645.9,675.2" fill="#a7a7af" stroke="#8a8a92" stroke-width="0.8" stroke-linejoin="miter"/>
<polygon points="674.4,689.6 681.5,675.4 667.3,675.4" fill="#a7a7af" stroke="#8a8a92" stroke-width="0.8" stroke-linejoin="miter"/>
<polygon points="695.8,689.9 702.9,675.7 688.7,675.7" fill="#a7a7af" stroke="#8a8a92" stroke-width="0.8" stroke-linejoin="miter"/>
<polygon points="717.1,690.1 724.2,675.9 710,675.9" fill="#a7a7af" stroke="#8a8a92" stroke-width="0.8" stroke-linejoin="miter"/>
<polygon points="738.5,690.4 745.6,676.2 731.4,676.2" fill="#a7a7af" stroke="#8a8a92" stroke-width="0.8" stroke-linejoin="miter"/>
<polygon points="759.9,690.7 767,676.5 752.8,676.5" fill="#a7a7af" stroke="#8a8a92" stroke-width="0.8" stroke-linejoin="miter"/>
<polygon points="781.3,691.1 788.4,676.9 774.2,676.9" fill="#a7a7af" stroke="#8a8a92" stroke-width="0.8" stroke-linejoin="miter"/>
<polygon points="802.6,691.5 809.7,677.3 795.5,677.3" fill="#a7a7af" stroke="#8a8a92" stroke-width="0.8" stroke-linejoin="miter"/>
<polygon points="824,692 831.1,677.8 816.9,677.8" fill="#a7a7af" stroke="#8a8a92" stroke-width="0.8" stroke-linejoin="miter"/>
<polyline points="182.9,1024.6 204.3,970.1 225.6,911.1 247,859 268.4,809.2 289.8,766.6 311.1,736.9 332.5,718.2 353.9,709.5 375.2,701.2 396.6,696.7 418,694.7 439.3,693.9 460.7,694.6 482.1,695.7 503.5,696.7 524.8,697.6 546.2,698.1 567.6,698.6 588.9,699 610.3,699.4 631.7,700 653,700.6 674.4,701.2 695.8,701.8 717.1,702.1 738.5,702.4 759.9,702.7 781.3,702.9 802.6,703 824,703.1" fill="none" stroke="#000" stroke-width="3.2" stroke-linejoin="round"/>
<circle cx="182.9" cy="1024.6" r="6.4" fill="#7b0ea3" stroke="#000" stroke-width="1.2"/>
<circle cx="204.3" cy="970.1" r="6.4" fill="#7b0ea3" stroke="#000" stroke-width="1.2"/>
<circle cx="225.6" cy="911.1" r="6.4" fill="#7b0ea3" stroke="#000" stroke-width="1.2"/>
<circle cx="247" cy="859" r="6.4" fill="#7b0ea3" stroke="#000" stroke-width="1.2"/>
<circle cx="268.4" cy="809.2" r="6.4" fill="#7b0ea3" stroke="#000" stroke-width="1.2"/>
<circle cx="289.8" cy="766.6" r="6.4" fill="#7b0ea3" stroke="#000" stroke-width="1.2"/>
<circle cx="311.1" cy="736.9" r="6.4" fill="#7b0ea3" stroke="#000" stroke-width="1.2"/>
<circle cx="332.5" cy="718.2" r="6.4" fill="#7b0ea3" stroke="#000" stroke-width="1.2"/>
<circle cx="353.9" cy="709.5" r="6.4" fill="#7b0ea3" stroke="#000" stroke-width="1.2"/>
<circle cx="375.2" cy="701.2" r="6.4" fill="#7b0ea3" stroke="#000" stroke-width="1.2"/>
<circle cx="396.6" cy="696.7" r="6.4" fill="#7b0ea3" stroke="#000" stroke-width="1.2"/>
<circle cx="418" cy="694.7" r="6.4" fill="#7b0ea3" stroke="#000" stroke-width="1.2"/>
<circle cx="439.3" cy="693.9" r="6.4" fill="#7b0ea3" stroke="#000" stroke-width="1.2"/>
<circle cx="460.7" cy="694.6" r="6.4" fill="#7b0ea3" stroke="#000" stroke-width="1.2"/>
<circle cx="482.1" cy="695.7" r="6.4" fill="#7b0ea3" stroke="#000" stroke-width="1.2"/>
<circle cx="503.5" cy="696.7" r="6.4" fill="#7b0ea3" stroke="#000" stroke-width="1.2"/>
<circle cx="524.8" cy="697.6" r="6.4" fill="#7b0ea3" stroke="#000" stroke-width="1.2"/>
<circle cx="546.2" cy="698.1" r="6.4" fill="#7b0ea3" stroke="#000" stroke-width="1.2"/>
<circle cx="567.6" cy="698.6" r="6.4" fill="#7b0ea3" stroke="#000" stroke-width="1.2"/>
<circle cx="588.9" cy="699" r="6.4" fill="#7b0ea3" stroke="#000" stroke-width="1.2"/>
<circle cx="610.3" cy="699.4" r="6.4" fill="#7b0ea3" stroke="#000" stroke-width="1.2"/>
<circle cx="631.7" cy="700" r="6.4" fill="#7b0ea3" stroke="#000" stroke-width="1.2"/>
<circle cx="653" cy="700.6" r="6.4" fill="#7b0ea3" stroke="#000" stroke-width="1.2"/>
<circle cx="674.4" cy="701.2" r="6.4" fill="#7b0ea3" stroke="#000" stroke-width="1.2"/>
<circle cx="695.8" cy="701.8" r="6.4" fill="#7b0ea3" stroke="#000" stroke-width="1.2"/>
<circle cx="717.1" cy="702.1" r="6.4" fill="#7b0ea3" stroke="#000" stroke-width="1.2"/>
<circle cx="738.5" cy="702.4" r="6.4" fill="#7b0ea3" stroke="#000" stroke-width="1.2"/>
<circle cx="759.9" cy="702.7" r="6.4" fill="#7b0ea3" stroke="#000" stroke-width="1.2"/>
<circle cx="781.3" cy="702.9" r="6.4" fill="#7b0ea3" stroke="#000" stroke-width="1.2"/>
<circle cx="802.6" cy="703" r="6.4" fill="#7b0ea3" stroke="#000" stroke-width="1.2"/>
<circle cx="824" cy="703.1" r="6.4" fill="#7b0ea3" stroke="#000" stroke-width="1.2"/>
<polyline points="182.9,1037.3 204.3,991.7 225.6,940.9 247,895.1 268.4,851.7 289.8,812.4 311.1,776.7 332.5,747 353.9,723.2 375.2,708.1 396.6,699.4 418,693.9 439.3,688.9 460.7,687.2 482.1,686.1 503.5,685.7 524.8,685.7 546.2,685.7 567.6,685.7 588.9,685.7 610.3,685.7 631.7,685.8 653,686.2 674.4,686.6 695.8,687.1 717.1,687.5 738.5,687.9 759.9,688.2 781.3,688.6 802.6,689 824,689.3" fill="none" stroke="#000" stroke-width="3.2" stroke-linejoin="round"/>
<polygon points="182.9,1030.5 189.5,1043.3 176.3,1043.3" fill="#00d400" stroke="#000" stroke-width="2.8" stroke-linejoin="miter"/>
<polygon points="204.3,984.9 210.9,997.7 197.7,997.7" fill="#00d400" stroke="#000" stroke-width="2.8" stroke-linejoin="miter"/>
<polygon points="225.6,934.1 232.2,946.9 219,946.9" fill="#00d400" stroke="#000" stroke-width="2.8" stroke-linejoin="miter"/>
<polygon points="247,888.3 253.6,901.1 240.4,901.1" fill="#00d400" stroke="#000" stroke-width="2.8" stroke-linejoin="miter"/>
<polygon points="268.4,844.9 275,857.7 261.8,857.7" fill="#00d400" stroke="#000" stroke-width="2.8" stroke-linejoin="miter"/>
<polygon points="289.8,805.6 296.4,818.4 283.1,818.4" fill="#00d400" stroke="#000" stroke-width="2.8" stroke-linejoin="miter"/>
<polygon points="311.1,769.9 317.7,782.7 304.5,782.7" fill="#00d400" stroke="#000" stroke-width="2.8" stroke-linejoin="miter"/>
<polygon points="332.5,740.2 339.1,753 325.9,753" fill="#00d400" stroke="#000" stroke-width="2.8" stroke-linejoin="miter"/>
<polygon points="353.9,716.4 360.5,729.2 347.3,729.2" fill="#00d400" stroke="#000" stroke-width="2.8" stroke-linejoin="miter"/>
<polygon points="375.2,701.3 381.8,714.1 368.6,714.1" fill="#00d400" stroke="#000" stroke-width="2.8" stroke-linejoin="miter"/>
<polygon points="396.6,692.6 403.2,705.4 390,705.4" fill="#00d400" stroke="#000" stroke-width="2.8" stroke-linejoin="miter"/>
<polygon points="418,687.1 424.6,699.9 411.4,699.9" fill="#00d400" stroke="#000" stroke-width="2.8" stroke-linejoin="miter"/>
<polygon points="439.3,682.1 445.9,694.9 432.7,694.9" fill="#00d400" stroke="#000" stroke-width="2.8" stroke-linejoin="miter"/>
<polygon points="460.7,680.4 467.3,693.2 454.1,693.2" fill="#00d400" stroke="#000" stroke-width="2.8" stroke-linejoin="miter"/>
<polygon points="482.1,679.3 488.7,692.1 475.5,692.1" fill="#00d400" stroke="#000" stroke-width="2.8" stroke-linejoin="miter"/>
<polygon points="503.5,678.9 510.1,691.7 496.9,691.7" fill="#00d400" stroke="#000" stroke-width="2.8" stroke-linejoin="miter"/>
<polygon points="524.8,678.9 531.4,691.7 518.2,691.7" fill="#00d400" stroke="#000" stroke-width="2.8" stroke-linejoin="miter"/>
<polygon points="546.2,678.9 552.8,691.7 539.6,691.7" fill="#00d400" stroke="#000" stroke-width="2.8" stroke-linejoin="miter"/>
<polygon points="567.6,678.9 574.2,691.7 561,691.7" fill="#00d400" stroke="#000" stroke-width="2.8" stroke-linejoin="miter"/>
<polygon points="588.9,678.9 595.5,691.7 582.3,691.7" fill="#00d400" stroke="#000" stroke-width="2.8" stroke-linejoin="miter"/>
<polygon points="610.3,678.9 616.9,691.7 603.7,691.7" fill="#00d400" stroke="#000" stroke-width="2.8" stroke-linejoin="miter"/>
<polygon points="631.7,679 638.3,691.8 625.1,691.8" fill="#00d400" stroke="#000" stroke-width="2.8" stroke-linejoin="miter"/>
<polygon points="653,679.4 659.6,692.2 646.4,692.2" fill="#00d400" stroke="#000" stroke-width="2.8" stroke-linejoin="miter"/>
<polygon points="674.4,679.8 681,692.6 667.8,692.6" fill="#00d400" stroke="#000" stroke-width="2.8" stroke-linejoin="miter"/>
<polygon points="695.8,680.3 702.4,693.1 689.2,693.1" fill="#00d400" stroke="#000" stroke-width="2.8" stroke-linejoin="miter"/>
<polygon points="717.1,680.7 723.8,693.5 710.5,693.5" fill="#00d400" stroke="#000" stroke-width="2.8" stroke-linejoin="miter"/>
<polygon points="738.5,681.1 745.1,693.9 731.9,693.9" fill="#00d400" stroke="#000" stroke-width="2.8" stroke-linejoin="miter"/>
<polygon points="759.9,681.4 766.5,694.2 753.3,694.2" fill="#00d400" stroke="#000" stroke-width="2.8" stroke-linejoin="miter"/>
<polygon points="781.3,681.8 787.9,694.6 774.7,694.6" fill="#00d400" stroke="#000" stroke-width="2.8" stroke-linejoin="miter"/>
<polygon points="802.6,682.2 809.2,695 796,695" fill="#00d400" stroke="#000" stroke-width="2.8" stroke-linejoin="miter"/>
<polygon points="824,682.5 830.6,695.3 817.4,695.3" fill="#00d400" stroke="#000" stroke-width="2.8" stroke-linejoin="miter"/>
<polyline points="182.9,1071.2 204.3,1058.3 225.6,1045.7 247,1033.3 268.4,1021.2 289.8,1009.5 311.1,997.9 332.5,986.6 353.9,975.6 375.2,964.9 396.6,954.6 418,944.4 439.3,934.3 460.7,924.6 482.1,915.7 503.5,907.9 524.8,901.3 546.2,895.2 567.6,889.7 588.9,884.6 610.3,879.6 631.7,874.6 653,869.8 674.4,865.2 695.8,861.1 717.1,857.6 738.5,854.6 759.9,851.9 781.3,849.4 802.6,847.4 824,845.7" fill="none" stroke="#000" stroke-width="3.2" stroke-linejoin="round"/>
<rect x="176" y="1064.3" width="13.8" height="13.8" fill="#d8126f" stroke="#000" stroke-width="3.6"/>
<rect x="197.4" y="1051.4" width="13.8" height="13.8" fill="#d8126f" stroke="#000" stroke-width="3.6"/>
<rect x="218.7" y="1038.8" width="13.8" height="13.8" fill="#d8126f" stroke="#000" stroke-width="3.6"/>
<rect x="240.1" y="1026.4" width="13.8" height="13.8" fill="#d8126f" stroke="#000" stroke-width="3.6"/>
<rect x="261.5" y="1014.3" width="13.8" height="13.8" fill="#d8126f" stroke="#000" stroke-width="3.6"/>
<rect x="282.9" y="1002.6" width="13.8" height="13.8" fill="#d8126f" stroke="#000" stroke-width="3.6"/>
<rect x="304.2" y="991" width="13.8" height="13.8" fill="#d8126f" stroke="#000" stroke-width="3.6"/>
<rect x="325.6" y="979.7" width="13.8" height="13.8" fill="#d8126f" stroke="#000" stroke-width="3.6"/>
<rect x="347" y="968.7" width="13.8" height="13.8" fill="#d8126f" stroke="#000" stroke-width="3.6"/>
<rect x="368.3" y="958" width="13.8" height="13.8" fill="#d8126f" stroke="#000" stroke-width="3.6"/>
<rect x="389.7" y="947.7" width="13.8" height="13.8" fill="#d8126f" stroke="#000" stroke-width="3.6"/>
<rect x="411.1" y="937.5" width="13.8" height="13.8" fill="#d8126f" stroke="#000" stroke-width="3.6"/>
<rect x="432.4" y="927.4" width="13.8" height="13.8" fill="#d8126f" stroke="#000" stroke-width="3.6"/>
<rect x="453.8" y="917.7" width="13.8" height="13.8" fill="#d8126f" stroke="#000" stroke-width="3.6"/>
<rect x="475.2" y="908.8" width="13.8" height="13.8" fill="#d8126f" stroke="#000" stroke-width="3.6"/>
<rect x="496.6" y="901" width="13.8" height="13.8" fill="#d8126f" stroke="#000" stroke-width="3.6"/>
<rect x="517.9" y="894.4" width="13.8" height="13.8" fill="#d8126f" stroke="#000" stroke-width="3.6"/>
<rect x="539.3" y="888.3" width="13.8" height="13.8" fill="#d8126f" stroke="#000" stroke-width="3.6"/>
<rect x="560.7" y="882.8" width="13.8" height="13.8" fill="#d8126f" stroke="#000" stroke-width="3.6"/>
<rect x="582" y="877.7" width="13.8" height="13.8" fill="#d8126f" stroke="#000" stroke-width="3.6"/>
<rect x="603.4" y="872.7" width="13.8" height="13.8" fill="#d8126f" stroke="#000" stroke-width="3.6"/>
<rect x="624.8" y="867.7" width="13.8" height="13.8" fill="#d8126f" stroke="#000" stroke-width="3.6"/>
<rect x="646.1" y="862.9" width="13.8" height="13.8" fill="#d8126f" stroke="#000" stroke-width="3.6"/>
<rect x="667.5" y="858.3" width="13.8" height="13.8" fill="#d8126f" stroke="#000" stroke-width="3.6"/>
<rect x="688.9" y="854.2" width="13.8" height="13.8" fill="#d8126f" stroke="#000" stroke-width="3.6"/>
<rect x="710.2" y="850.7" width="13.8" height="13.8" fill="#d8126f" stroke="#000" stroke-width="3.6"/>
<rect x="731.6" y="847.7" width="13.8" height="13.8" fill="#d8126f" stroke="#000" stroke-width="3.6"/>
<rect x="753" y="845" width="13.8" height="13.8" fill="#d8126f" stroke="#000" stroke-width="3.6"/>
<rect x="774.4" y="842.5" width="13.8" height="13.8" fill="#d8126f" stroke="#000" stroke-width="3.6"/>
<rect x="795.7" y="840.5" width="13.8" height="13.8" fill="#d8126f" stroke="#000" stroke-width="3.6"/>
<rect x="817.1" y="838.8" width="13.8" height="13.8" fill="#d8126f" stroke="#000" stroke-width="3.6"/>
<polyline points="182.9,1075.6 204.3,1063 225.6,1050.3 247,1037.4 268.4,1024.4 289.8,1011.3 311.1,997.8 332.5,984 353.9,970.1 375.2,956.5 396.6,943.6 418,931.2 439.3,919 460.7,907.3 482.1,896.1 503.5,885.7 524.8,875.8 546.2,866.3 567.6,857.4 588.9,849.1 610.3,841.6 631.7,834.9 653,828.7 674.4,823 695.8,817.7 717.1,812.8 738.5,808.2 759.9,803.8 781.3,799.8 802.6,796 824,792.7" fill="none" stroke="#000" stroke-width="3.2" stroke-linejoin="round"/>
<polygon points="182.9,1068.2 190.1,1075.6 182.9,1083 175.7,1075.6" fill="#0000ff"/>
<polygon points="204.3,1055.6 211.5,1063 204.3,1070.4 197.1,1063" fill="#0000ff"/>
<polygon points="225.6,1042.9 232.8,1050.3 225.6,1057.7 218.4,1050.3" fill="#0000ff"/>
<polygon points="247,1030 254.2,1037.4 247,1044.8 239.8,1037.4" fill="#0000ff"/>
<polygon points="268.4,1017 275.6,1024.4 268.4,1031.8 261.2,1024.4" fill="#0000ff"/>
<polygon points="289.8,1003.9 296.9,1011.3 289.8,1018.7 282.6,1011.3" fill="#0000ff"/>
<polygon points="311.1,990.4 318.3,997.8 311.1,1005.2 303.9,997.8" fill="#0000ff"/>
<polygon points="332.5,976.6 339.7,984 332.5,991.4 325.3,984" fill="#0000ff"/>
<polygon points="353.9,962.7 361.1,970.1 353.9,977.5 346.7,970.1" fill="#0000ff"/>
<polygon points="375.2,949.1 382.4,956.5 375.2,963.9 368,956.5" fill="#0000ff"/>
<polygon points="396.6,936.2 403.8,943.6 396.6,951 389.4,943.6" fill="#0000ff"/>
<polygon points="418,923.8 425.2,931.2 418,938.6 410.8,931.2" fill="#0000ff"/>
<polygon points="439.3,911.6 446.5,919 439.3,926.4 432.1,919" fill="#0000ff"/>
<polygon points="460.7,899.9 467.9,907.3 460.7,914.7 453.5,907.3" fill="#0000ff"/>
<polygon points="482.1,888.7 489.3,896.1 482.1,903.5 474.9,896.1" fill="#0000ff"/>
<polygon points="503.5,878.3 510.7,885.7 503.5,893.1 496.3,885.7" fill="#0000ff"/>
<polygon points="524.8,868.4 532,875.8 524.8,883.2 517.6,875.8" fill="#0000ff"/>
<polygon points="546.2,858.9 553.4,866.3 546.2,873.7 539,866.3" fill="#0000ff"/>
<polygon points="567.6,850 574.8,857.4 567.6,864.8 560.4,857.4" fill="#0000ff"/>
<polygon points="588.9,841.7 596.1,849.1 588.9,856.5 581.7,849.1" fill="#0000ff"/>
<polygon points="610.3,834.2 617.5,841.6 610.3,849 603.1,841.6" fill="#0000ff"/>
<polygon points="631.7,827.5 638.9,834.9 631.7,842.3 624.5,834.9" fill="#0000ff"/>
<polygon points="653,821.3 660.2,828.7 653,836.1 645.8,828.7" fill="#0000ff"/>
<polygon points="674.4,815.6 681.6,823 674.4,830.4 667.2,823" fill="#0000ff"/>
<polygon points="695.8,810.3 703,817.7 695.8,825.1 688.6,817.7" fill="#0000ff"/>
<polygon points="717.1,805.4 724.4,812.8 717.1,820.2 709.9,812.8" fill="#0000ff"/>
<polygon points="738.5,800.8 745.7,808.2 738.5,815.6 731.3,808.2" fill="#0000ff"/>
<polygon points="759.9,796.4 767.1,803.8 759.9,811.2 752.7,803.8" fill="#0000ff"/>
<polygon points="781.3,792.4 788.5,799.8 781.3,807.2 774.1,799.8" fill="#0000ff"/>
<polygon points="802.6,788.6 809.8,796 802.6,803.4 795.4,796" fill="#0000ff"/>
<polygon points="824,785.3 831.2,792.7 824,800.1 816.8,792.7" fill="#0000ff"/>
<polyline points="182.9,1030.5 204.3,981.6 225.6,928.1 247,878.7 268.4,827.4 289.8,780.8 311.1,745.1 332.5,716.8 353.9,700.3 375.2,688.4 396.6,685.2 418,682.9 439.3,681.1 460.7,679.6 482.1,678.2 503.5,677.5 524.8,677.1 546.2,676.9 567.6,676.7 588.9,676.6 610.3,676.5 631.7,676.7 653,677.1 674.4,677.5 695.8,678 717.1,678.4 738.5,678.6 759.9,678.8 781.3,679 802.6,679.2 824,679.3" fill="none" stroke="#000" stroke-width="3.2" stroke-linejoin="round"/>
<polygon points="182.9,1037.4 189.7,1023.9 176.1,1023.9" fill="#ff4b4b" stroke="#b03030" stroke-width="0.8" stroke-linejoin="miter"/>
<polygon points="204.3,988.5 211.1,975 197.5,975" fill="#ff4b4b" stroke="#b03030" stroke-width="0.8" stroke-linejoin="miter"/>
<polygon points="225.6,935 232.4,921.5 218.8,921.5" fill="#ff4b4b" stroke="#b03030" stroke-width="0.8" stroke-linejoin="miter"/>
<polygon points="247,885.6 253.8,872.1 240.2,872.1" fill="#ff4b4b" stroke="#b03030" stroke-width="0.8" stroke-linejoin="miter"/>
<polygon points="268.4,834.3 275.2,820.8 261.6,820.8" fill="#ff4b4b" stroke="#b03030" stroke-width="0.8" stroke-linejoin="miter"/>
<polygon points="289.8,787.7 296.6,774.2 282.9,774.2" fill="#ff4b4b" stroke="#b03030" stroke-width="0.8" stroke-linejoin="miter"/>
<polygon points="311.1,752 317.9,738.5 304.3,738.5" fill="#ff4b4b" stroke="#b03030" stroke-width="0.8" stroke-linejoin="miter"/>
<polygon points="332.5,723.7 339.3,710.2 325.7,710.2" fill="#ff4b4b" stroke="#b03030" stroke-width="0.8" stroke-linejoin="miter"/>
<polygon points="353.9,707.2 360.7,693.7 347.1,693.7" fill="#ff4b4b" stroke="#b03030" stroke-width="0.8" stroke-linejoin="miter"/>
<polygon points="375.2,695.3 382,681.8 368.4,681.8" fill="#ff4b4b" stroke="#b03030" stroke-width="0.8" stroke-linejoin="miter"/>
<polygon points="396.6,692.1 403.4,678.6 389.8,678.6" fill="#ff4b4b" stroke="#b03030" stroke-width="0.8" stroke-linejoin="miter"/>
<polygon points="418,689.8 424.8,676.3 411.2,676.3" fill="#ff4b4b" stroke="#b03030" stroke-width="0.8" stroke-linejoin="miter"/>
<polygon points="439.3,688 446.1,674.5 432.5,674.5" fill="#ff4b4b" stroke="#b03030" stroke-width="0.8" stroke-linejoin="miter"/>
<polygon points="460.7,686.5 467.5,673 453.9,673" fill="#ff4b4b" stroke="#b03030" stroke-width="0.8" stroke-linejoin="miter"/>
<polygon points="482.1,685.1 488.9,671.6 475.3,671.6" fill="#ff4b4b" stroke="#b03030" stroke-width="0.8" stroke-linejoin="miter"/>
<polygon points="503.5,684.4 510.3,670.9 496.7,670.9" fill="#ff4b4b" stroke="#b03030" stroke-width="0.8" stroke-linejoin="miter"/>
<polygon points="524.8,684 531.6,670.5 518,670.5" fill="#ff4b4b" stroke="#b03030" stroke-width="0.8" stroke-linejoin="miter"/>
<polygon points="546.2,683.8 553,670.3 539.4,670.3" fill="#ff4b4b" stroke="#b03030" stroke-width="0.8" stroke-linejoin="miter"/>
<polygon points="567.6,683.6 574.4,670.1 560.8,670.1" fill="#ff4b4b" stroke="#b03030" stroke-width="0.8" stroke-linejoin="miter"/>
<polygon points="588.9,683.5 595.7,670 582.1,670" fill="#ff4b4b" stroke="#b03030" stroke-width="0.8" stroke-linejoin="miter"/>
<polygon points="610.3,683.4 617.1,669.9 603.5,669.9" fill="#ff4b4b" stroke="#b03030" stroke-width="0.8" stroke-linejoin="miter"/>
<polygon points="631.7,683.6 638.5,670.1 624.9,670.1" fill="#ff4b4b" stroke="#b03030" stroke-width="0.8" stroke-linejoin="miter"/>
<polygon points="653,684 659.8,670.5 646.2,670.5" fill="#ff4b4b" stroke="#b03030" stroke-width="0.8" stroke-linejoin="miter"/>
<polygon points="674.4,684.4 681.2,670.9 667.6,670.9" fill="#ff4b4b" stroke="#b03030" stroke-width="0.8" stroke-linejoin="miter"/>
<polygon points="695.8,684.9 702.6,671.4 689,671.4" fill="#ff4b4b" stroke="#b03030" stroke-width="0.8" stroke-linejoin="miter"/>
<polygon points="717.1,685.3 723.9,671.8 710.4,671.8" fill="#ff4b4b" stroke="#b03030" stroke-width="0.8" stroke-linejoin="miter"/>
<polygon points="738.5,685.5 745.3,672 731.7,672" fill="#ff4b4b" stroke="#b03030" stroke-width="0.8" stroke-linejoin="miter"/>
<polygon points="759.9,685.7 766.7,672.2 753.1,672.2" fill="#ff4b4b" stroke="#b03030" stroke-width="0.8" stroke-linejoin="miter"/>
<polygon points="781.3,685.9 788.1,672.4 774.5,672.4" fill="#ff4b4b" stroke="#b03030" stroke-width="0.8" stroke-linejoin="miter"/>
<polygon points="802.6,686.1 809.4,672.6 795.8,672.6" fill="#ff4b4b" stroke="#b03030" stroke-width="0.8" stroke-linejoin="miter"/>
<polygon points="824,686.2 830.8,672.7 817.2,672.7" fill="#ff4b4b" stroke="#b03030" stroke-width="0.8" stroke-linejoin="miter"/>
<polyline points="225.6,1105.9 268.4,1105.5 289.8,1105 311.1,1104.6 332.5,1104.1 353.9,1103.7 375.2,1103.2 396.6,1104.6 418,1103.7 439.3,1103.2 460.7,1103.7 482.1,1102.7 503.5,1102.3 524.8,1102.7 546.2,1103.2 567.6,1102.7 588.9,1102.3 610.3,1102.7 631.7,1103.7 653,1103.2 674.4,1103.7 695.8,1103.2 717.1,1102.3 738.5,1102.7 759.9,1102.3 781.3,1101.8 802.6,1102.3 824,1101.8" fill="none" stroke="#000" stroke-width="3.2" stroke-linejoin="round"/>
<polygon points="225.6,1098.3 232.8,1112.9 218.4,1112.9" fill="#ffff00" stroke="#555500" stroke-width="1" stroke-linejoin="miter"/>
<polygon points="268.4,1097.9 275.6,1112.5 261.2,1112.5" fill="#ffff00" stroke="#555500" stroke-width="1" stroke-linejoin="miter"/>
<polygon points="289.8,1097.4 296.9,1112 282.6,1112" fill="#ffff00" stroke="#555500" stroke-width="1" stroke-linejoin="miter"/>
<polygon points="311.1,1097 318.3,1111.6 303.9,1111.6" fill="#ffff00" stroke="#555500" stroke-width="1" stroke-linejoin="miter"/>
<polygon points="332.5,1096.5 339.7,1111.1 325.3,1111.1" fill="#ffff00" stroke="#555500" stroke-width="1" stroke-linejoin="miter"/>
<polygon points="353.9,1096.1 361.1,1110.7 346.7,1110.7" fill="#ffff00" stroke="#555500" stroke-width="1" stroke-linejoin="miter"/>
<polygon points="375.2,1095.6 382.4,1110.2 368,1110.2" fill="#ffff00" stroke="#555500" stroke-width="1" stroke-linejoin="miter"/>
<polygon points="396.6,1097 403.8,1111.6 389.4,1111.6" fill="#ffff00" stroke="#555500" stroke-width="1" stroke-linejoin="miter"/>
<polygon points="418,1096.1 425.2,1110.7 410.8,1110.7" fill="#ffff00" stroke="#555500" stroke-width="1" stroke-linejoin="miter"/>
<polygon points="439.3,1095.6 446.5,1110.2 432.1,1110.2" fill="#ffff00" stroke="#555500" stroke-width="1" stroke-linejoin="miter"/>
<polygon points="460.7,1096.1 467.9,1110.7 453.5,1110.7" fill="#ffff00" stroke="#555500" stroke-width="1" stroke-linejoin="miter"/>
<polygon points="482.1,1095.1 489.3,1109.7 474.9,1109.7" fill="#ffff00" stroke="#555500" stroke-width="1" stroke-linejoin="miter"/>
<polygon points="503.5,1094.7 510.7,1109.3 496.3,1109.3" fill="#ffff00" stroke="#555500" stroke-width="1" stroke-linejoin="miter"/>
<polygon points="524.8,1095.1 532,1109.7 517.6,1109.7" fill="#ffff00" stroke="#555500" stroke-width="1" stroke-linejoin="miter"/>
<polygon points="546.2,1095.6 553.4,1110.2 539,1110.2" fill="#ffff00" stroke="#555500" stroke-width="1" stroke-linejoin="miter"/>
<polygon points="567.6,1095.1 574.8,1109.7 560.4,1109.7" fill="#ffff00" stroke="#555500" stroke-width="1" stroke-linejoin="miter"/>
<polygon points="588.9,1094.7 596.1,1109.3 581.7,1109.3" fill="#ffff00" stroke="#555500" stroke-width="1" stroke-linejoin="miter"/>
<polygon points="610.3,1095.1 617.5,1109.7 603.1,1109.7" fill="#ffff00" stroke="#555500" stroke-width="1" stroke-linejoin="miter"/>
<polygon points="631.7,1096.1 638.9,1110.7 624.5,1110.7" fill="#ffff00" stroke="#555500" stroke-width="1" stroke-linejoin="miter"/>
<polygon points="653,1095.6 660.2,1110.2 645.8,1110.2" fill="#ffff00" stroke="#555500" stroke-width="1" stroke-linejoin="miter"/>
<polygon points="674.4,1096.1 681.6,1110.7 667.2,1110.7" fill="#ffff00" stroke="#555500" stroke-width="1" stroke-linejoin="miter"/>
<polygon points="695.8,1095.6 703,1110.2 688.6,1110.2" fill="#ffff00" stroke="#555500" stroke-width="1" stroke-linejoin="miter"/>
<polygon points="717.1,1094.7 724.4,1109.3 709.9,1109.3" fill="#ffff00" stroke="#555500" stroke-width="1" stroke-linejoin="miter"/>
<polygon points="738.5,1095.1 745.7,1109.7 731.3,1109.7" fill="#ffff00" stroke="#555500" stroke-width="1" stroke-linejoin="miter"/>
<polygon points="759.9,1094.7 767.1,1109.3 752.7,1109.3" fill="#ffff00" stroke="#555500" stroke-width="1" stroke-linejoin="miter"/>
<polygon points="781.3,1094.2 788.5,1108.8 774.1,1108.8" fill="#ffff00" stroke="#555500" stroke-width="1" stroke-linejoin="miter"/>
<polygon points="802.6,1094.7 809.8,1109.3 795.4,1109.3" fill="#ffff00" stroke="#555500" stroke-width="1" stroke-linejoin="miter"/>
<polygon points="824,1094.2 831.2,1108.8 816.8,1108.8" fill="#ffff00" stroke="#555500" stroke-width="1" stroke-linejoin="miter"/>
<polyline points="182.9,1087.2 204.3,1078.1 225.6,1069 247,1059.9 268.4,1050.7 289.8,1041.5 311.1,1032.1 332.5,1022.5 353.9,1013 375.2,1003.7 396.6,994.8 418,986.2 439.3,977.6 460.7,969.4 482.1,961.7 503.5,954.9 524.8,948.7 546.2,943 567.6,937.7 588.9,932.8 610.3,928.1 631.7,923.6 653,919.3 674.4,915.2 695.8,911.4 717.1,907.9 738.5,904.7 759.9,901.6 781.3,898.8 802.6,896.1 824,893.8" fill="none" stroke="#000" stroke-width="3.2" stroke-linejoin="round"/>
<rect x="176.1" y="1080.4" width="13.6" height="13.6" fill="#0f86a0" stroke="#0c6a80" stroke-width="1"/>
<rect x="197.5" y="1071.3" width="13.6" height="13.6" fill="#0f86a0" stroke="#0c6a80" stroke-width="1"/>
<rect x="218.8" y="1062.2" width="13.6" height="13.6" fill="#0f86a0" stroke="#0c6a80" stroke-width="1"/>
<rect x="240.2" y="1053.1" width="13.6" height="13.6" fill="#0f86a0" stroke="#0c6a80" stroke-width="1"/>
<rect x="261.6" y="1043.9" width="13.6" height="13.6" fill="#0f86a0" stroke="#0c6a80" stroke-width="1"/>
<rect x="282.9" y="1034.7" width="13.6" height="13.6" fill="#0f86a0" stroke="#0c6a80" stroke-width="1"/>
<rect x="304.3" y="1025.3" width="13.6" height="13.6" fill="#0f86a0" stroke="#0c6a80" stroke-width="1"/>
<rect x="325.7" y="1015.7" width="13.6" height="13.6" fill="#0f86a0" stroke="#0c6a80" stroke-width="1"/>
<rect x="347.1" y="1006.2" width="13.6" height="13.6" fill="#0f86a0" stroke="#0c6a80" stroke-width="1"/>
<rect x="368.4" y="996.9" width="13.6" height="13.6" fill="#0f86a0" stroke="#0c6a80" stroke-width="1"/>
<rect x="389.8" y="988" width="13.6" height="13.6" fill="#0f86a0" stroke="#0c6a80" stroke-width="1"/>
<rect x="411.2" y="979.4" width="13.6" height="13.6" fill="#0f86a0" stroke="#0c6a80" stroke-width="1"/>
<rect x="432.5" y="970.8" width="13.6" height="13.6" fill="#0f86a0" stroke="#0c6a80" stroke-width="1"/>
<rect x="453.9" y="962.6" width="13.6" height="13.6" fill="#0f86a0" stroke="#0c6a80" stroke-width="1"/>
<rect x="475.3" y="954.9" width="13.6" height="13.6" fill="#0f86a0" stroke="#0c6a80" stroke-width="1"/>
<rect x="496.7" y="948.1" width="13.6" height="13.6" fill="#0f86a0" stroke="#0c6a80" stroke-width="1"/>
<rect x="518" y="941.9" width="13.6" height="13.6" fill="#0f86a0" stroke="#0c6a80" stroke-width="1"/>
<rect x="539.4" y="936.2" width="13.6" height="13.6" fill="#0f86a0" stroke="#0c6a80" stroke-width="1"/>
<rect x="560.8" y="930.9" width="13.6" height="13.6" fill="#0f86a0" stroke="#0c6a80" stroke-width="1"/>
<rect x="582.1" y="926" width="13.6" height="13.6" fill="#0f86a0" stroke="#0c6a80" stroke-width="1"/>
<rect x="603.5" y="921.3" width="13.6" height="13.6" fill="#0f86a0" stroke="#0c6a80" stroke-width="1"/>
<rect x="624.9" y="916.8" width="13.6" height="13.6" fill="#0f86a0" stroke="#0c6a80" stroke-width="1"/>
<rect x="646.2" y="912.5" width="13.6" height="13.6" fill="#0f86a0" stroke="#0c6a80" stroke-width="1"/>
<rect x="667.6" y="908.4" width="13.6" height="13.6" fill="#0f86a0" stroke="#0c6a80" stroke-width="1"/>
<rect x="689" y="904.6" width="13.6" height="13.6" fill="#0f86a0" stroke="#0c6a80" stroke-width="1"/>
<rect x="710.4" y="901.1" width="13.6" height="13.6" fill="#0f86a0" stroke="#0c6a80" stroke-width="1"/>
<rect x="731.7" y="897.9" width="13.6" height="13.6" fill="#0f86a0" stroke="#0c6a80" stroke-width="1"/>
<rect x="753.1" y="894.8" width="13.6" height="13.6" fill="#0f86a0" stroke="#0c6a80" stroke-width="1"/>
<rect x="774.5" y="892" width="13.6" height="13.6" fill="#0f86a0" stroke="#0c6a80" stroke-width="1"/>
<rect x="795.8" y="889.3" width="13.6" height="13.6" fill="#0f86a0" stroke="#0c6a80" stroke-width="1"/>
<rect x="817.2" y="887" width="13.6" height="13.6" fill="#0f86a0" stroke="#0c6a80" stroke-width="1"/>
<polyline points="182.9,1084.4 204.3,1074.5 225.6,1064.6 247,1054.7 268.4,1044.9 289.8,1035.1 311.1,1025.2 332.5,1015.2 353.9,1005.3 375.2,995.7 396.6,986.6 418,977.7 439.3,969 460.7,960.6 482.1,952.8 503.5,945.9 524.8,939.7 546.2,934.1 567.6,928.8 588.9,923.9 610.3,919.4 631.7,915.1 653,911 674.4,907.2 695.8,903.6 717.1,900.2 738.5,896.8 759.9,893.7 781.3,890.6 802.6,887.8 824,885.1" fill="none" stroke="#000" stroke-width="3.2" stroke-linejoin="round"/>
<circle cx="182.9" cy="1084.4" r="7.2" fill="#000"/>
<circle cx="204.3" cy="1074.5" r="7.2" fill="#000"/>
<circle cx="225.6" cy="1064.6" r="7.2" fill="#000"/>
<circle cx="247" cy="1054.7" r="7.2" fill="#000"/>
<circle cx="268.4" cy="1044.9" r="7.2" fill="#000"/>
<circle cx="289.8" cy="1035.1" r="7.2" fill="#000"/>
<circle cx="311.1" cy="1025.2" r="7.2" fill="#000"/>
<circle cx="332.5" cy="1015.2" r="7.2" fill="#000"/>
<circle cx="353.9" cy="1005.3" r="7.2" fill="#000"/>
<circle cx="375.2" cy="995.7" r="7.2" fill="#000"/>
<circle cx="396.6" cy="986.6" r="7.2" fill="#000"/>
<circle cx="418" cy="977.7" r="7.2" fill="#000"/>
<circle cx="439.3" cy="969" r="7.2" fill="#000"/>
<circle cx="460.7" cy="960.6" r="7.2" fill="#000"/>
<circle cx="482.1" cy="952.8" r="7.2" fill="#000"/>
<circle cx="503.5" cy="945.9" r="7.2" fill="#000"/>
<circle cx="524.8" cy="939.7" r="7.2" fill="#000"/>
<circle cx="546.2" cy="934.1" r="7.2" fill="#000"/>
<circle cx="567.6" cy="928.8" r="7.2" fill="#000"/>
<circle cx="588.9" cy="923.9" r="7.2" fill="#000"/>
<circle cx="610.3" cy="919.4" r="7.2" fill="#000"/>
<circle cx="631.7" cy="915.1" r="7.2" fill="#000"/>
<circle cx="653" cy="911" r="7.2" fill="#000"/>
<circle cx="674.4" cy="907.2" r="7.2" fill="#000"/>
<circle cx="695.8" cy="903.6" r="7.2" fill="#000"/>
<circle cx="717.1" cy="900.2" r="7.2" fill="#000"/>
<circle cx="738.5" cy="896.8" r="7.2" fill="#000"/>
<circle cx="759.9" cy="893.7" r="7.2" fill="#000"/>
<circle cx="781.3" cy="890.6" r="7.2" fill="#000"/>
<circle cx="802.6" cy="887.8" r="7.2" fill="#000"/>
<circle cx="824" cy="885.1" r="7.2" fill="#000"/>
<text x="505.7" y="641.8" font-size="35.7" font-weight="bold" text-anchor="middle">diE-GSSG</text>
<text x="505.7" y="1199.5" font-size="29.1" font-weight="bold" text-anchor="middle">Time (min)</text>
<text x="70.8" y="876" font-size="31.2" text-anchor="middle" transform="rotate(-90 70.8 876)" stroke="#000" stroke-width="0.8">Fluorescence at 545 nm</text>
<text x="64.2" y="591.5" font-size="44.5" font-weight="bold" text-anchor="start">C.</text>
<line x1="1026.1" y1="657.3" x2="1026.1" y2="1105.6" stroke="#000" stroke-width="5.1" stroke-linecap="butt"/>
<line x1="1023.5" y1="1103.1" x2="1655.3" y2="1103.1" stroke="#000" stroke-width="5.1" stroke-linecap="butt"/>
<line x1="1010.6" y1="1103.1" x2="1026.1" y2="1103.1" stroke="#000" stroke-width="5.1" stroke-linecap="butt"/>
<text x="1006.8" y="1112.5" font-size="26.2" font-weight="bold" text-anchor="end">0</text>
<line x1="1010.6" y1="1014.4" x2="1026.1" y2="1014.4" stroke="#000" stroke-width="5.1" stroke-linecap="butt"/>
<text x="1006.8" y="1023.8" font-size="26.2" font-weight="bold" text-anchor="end">10000</text>
<line x1="1010.6" y1="925.8" x2="1026.1" y2="925.8" stroke="#000" stroke-width="5.1" stroke-linecap="butt"/>
<text x="1006.8" y="935.2" font-size="26.2" font-weight="bold" text-anchor="end">20000</text>
<line x1="1010.6" y1="837.1" x2="1026.1" y2="837.1" stroke="#000" stroke-width="5.1" stroke-linecap="butt"/>
<text x="1006.8" y="846.5" font-size="26.2" font-weight="bold" text-anchor="end">30000</text>
<line x1="1010.6" y1="748.5" x2="1026.1" y2="748.5" stroke="#000" stroke-width="5.1" stroke-linecap="butt"/>
<text x="1006.8" y="757.9" font-size="26.2" font-weight="bold" text-anchor="end">40000</text>
<line x1="1010.6" y1="659.8" x2="1026.1" y2="659.8" stroke="#000" stroke-width="5.1" stroke-linecap="butt"/>
<text x="1006.8" y="669.2" font-size="26.2" font-weight="bold" text-anchor="end">50000</text>
<line x1="1026.1" y1="1103.1" x2="1026.1" y2="1118.6" stroke="#000" stroke-width="5.1" stroke-linecap="butt"/>
<text x="1026.1" y="1148.2" font-size="26.2" font-weight="bold" text-anchor="middle">0</text>
<line x1="1067.9" y1="1103.1" x2="1067.9" y2="1112.1" stroke="#000" stroke-width="5.1" stroke-linecap="butt"/>
<line x1="1109.7" y1="1103.1" x2="1109.7" y2="1112.1" stroke="#000" stroke-width="5.1" stroke-linecap="butt"/>
<line x1="1151.4" y1="1103.1" x2="1151.4" y2="1112.1" stroke="#000" stroke-width="5.1" stroke-linecap="butt"/>
<line x1="1193.2" y1="1103.1" x2="1193.2" y2="1112.1" stroke="#000" stroke-width="5.1" stroke-linecap="butt"/>
<line x1="1235" y1="1103.1" x2="1235" y2="1118.6" stroke="#000" stroke-width="5.1" stroke-linecap="butt"/>
<text x="1235" y="1148.2" font-size="26.2" font-weight="bold" text-anchor="middle">10</text>
<line x1="1276.8" y1="1103.1" x2="1276.8" y2="1112.1" stroke="#000" stroke-width="5.1" stroke-linecap="butt"/>
<line x1="1318.6" y1="1103.1" x2="1318.6" y2="1112.1" stroke="#000" stroke-width="5.1" stroke-linecap="butt"/>
<line x1="1360.3" y1="1103.1" x2="1360.3" y2="1112.1" stroke="#000" stroke-width="5.1" stroke-linecap="butt"/>
<line x1="1402.1" y1="1103.1" x2="1402.1" y2="1112.1" stroke="#000" stroke-width="5.1" stroke-linecap="butt"/>
<line x1="1443.9" y1="1103.1" x2="1443.9" y2="1118.6" stroke="#000" stroke-width="5.1" stroke-linecap="butt"/>
<text x="1443.9" y="1148.2" font-size="26.2" font-weight="bold" text-anchor="middle">20</text>
<line x1="1485.7" y1="1103.1" x2="1485.7" y2="1112.1" stroke="#000" stroke-width="5.1" stroke-linecap="butt"/>
<line x1="1527.5" y1="1103.1" x2="1527.5" y2="1112.1" stroke="#000" stroke-width="5.1" stroke-linecap="butt"/>
<line x1="1569.2" y1="1103.1" x2="1569.2" y2="1112.1" stroke="#000" stroke-width="5.1" stroke-linecap="butt"/>
<line x1="1611" y1="1103.1" x2="1611" y2="1112.1" stroke="#000" stroke-width="5.1" stroke-linecap="butt"/>
<line x1="1652.8" y1="1103.1" x2="1652.8" y2="1118.6" stroke="#000" stroke-width="5.1" stroke-linecap="butt"/>
<text x="1652.8" y="1148.2" font-size="26.2" font-weight="bold" text-anchor="middle">30</text>
<polyline points="1026.1,1018 1047,945.3 1067.9,877 1088.8,819.4 1109.7,772.4 1130.5,745.8 1151.4,729 1172.3,719.2 1193.2,710.4 1214.1,705.2 1235,701.5 1255.9,699 1276.8,697.1 1297.7,695.3 1318.6,693.7 1339.4,692.7 1360.3,692.1 1381.2,691.6 1402.1,691.2 1423,691 1443.9,690.9 1464.8,690.9 1485.7,691.1 1506.6,691.3 1527.5,691.5 1548.3,691.8 1569.2,692 1590.1,692.3 1611,692.7 1631.9,693.1 1652.8,693.5" fill="none" stroke="#000" stroke-width="3.1" stroke-linejoin="round"/>
<polygon points="1026.1,1011.7 1024.5,1015.8 1020.1,1016.1 1023.5,1018.8 1022.4,1023.1 1026.1,1020.7 1029.8,1023.1 1028.7,1018.8 1032.1,1016.1 1027.7,1015.8" fill="#000"/>
<polygon points="1047,939 1045.4,943.1 1041,943.4 1044.4,946.1 1043.3,950.4 1047,948 1050.7,950.4 1049.6,946.1 1053,943.4 1048.6,943.1" fill="#000"/>
<polygon points="1067.9,870.8 1066.3,874.9 1061.9,875.1 1065.3,877.9 1064.2,882.1 1067.9,879.7 1071.6,882.1 1070.5,877.9 1073.9,875.1 1069.5,874.9" fill="#000"/>
<polygon points="1088.8,813.1 1087.2,817.2 1082.8,817.5 1086.2,820.3 1085.1,824.5 1088.8,822.1 1092.5,824.5 1091.3,820.3 1094.7,817.5 1090.4,817.2" fill="#000"/>
<polygon points="1109.7,766.2 1108.1,770.2 1103.7,770.5 1107.1,773.3 1106,777.5 1109.7,775.1 1113.4,777.5 1112.2,773.3 1115.6,770.5 1111.2,770.2" fill="#000"/>
<polygon points="1130.5,739.6 1129,743.7 1124.6,743.9 1128,746.7 1126.9,750.9 1130.5,748.5 1134.2,750.9 1133.1,746.7 1136.5,743.9 1132.1,743.7" fill="#000"/>
<polygon points="1151.4,722.7 1149.9,726.8 1145.5,727.1 1148.9,729.8 1147.7,734.1 1151.4,731.7 1155.1,734.1 1154,729.8 1157.4,727.1 1153,726.8" fill="#000"/>
<polygon points="1172.3,713 1170.7,717.1 1166.4,717.3 1169.8,720.1 1168.6,724.3 1172.3,722 1176,724.3 1174.9,720.1 1178.3,717.3 1173.9,717.1" fill="#000"/>
<polygon points="1193.2,704.1 1191.6,708.2 1187.2,708.4 1190.6,711.2 1189.5,715.5 1193.2,713.1 1196.9,715.5 1195.8,711.2 1199.2,708.4 1194.8,708.2" fill="#000"/>
<polygon points="1214.1,698.9 1212.5,703 1208.1,703.2 1211.5,706 1210.4,710.2 1214.1,707.9 1217.8,710.2 1216.7,706 1220.1,703.2 1215.7,703" fill="#000"/>
<polygon points="1235,695.2 1233.4,699.3 1229,699.6 1232.4,702.4 1231.3,706.6 1235,704.2 1238.7,706.6 1237.6,702.4 1241,699.6 1236.6,699.3" fill="#000"/>
<polygon points="1255.9,692.7 1254.3,696.8 1249.9,697.1 1253.3,699.8 1252.2,704.1 1255.9,701.7 1259.6,704.1 1258.5,699.8 1261.9,697.1 1257.5,696.8" fill="#000"/>
<polygon points="1276.8,690.8 1275.2,694.9 1270.8,695.1 1274.2,697.9 1273.1,702.2 1276.8,699.8 1280.5,702.2 1279.4,697.9 1282.8,695.1 1278.4,694.9" fill="#000"/>
<polygon points="1297.7,689 1296.1,693.1 1291.7,693.3 1295.1,696.1 1294,700.3 1297.7,698 1301.4,700.3 1300.2,696.1 1303.6,693.3 1299.3,693.1" fill="#000"/>
<polygon points="1318.6,687.4 1317,691.5 1312.6,691.7 1316,694.5 1314.9,698.7 1318.6,696.4 1322.3,698.7 1321.1,694.5 1324.5,691.7 1320.1,691.5" fill="#000"/>
<polygon points="1339.4,686.4 1337.9,690.5 1333.5,690.7 1336.9,693.5 1335.8,697.7 1339.4,695.4 1343.1,697.7 1342,693.5 1345.4,690.7 1341,690.5" fill="#000"/>
<polygon points="1360.3,685.8 1358.8,689.9 1354.4,690.1 1357.8,692.9 1356.6,697.2 1360.3,694.8 1364,697.2 1362.9,692.9 1366.3,690.1 1361.9,689.9" fill="#000"/>
<polygon points="1381.2,685.3 1379.6,689.4 1375.3,689.7 1378.7,692.4 1377.5,696.7 1381.2,694.3 1384.9,696.7 1383.8,692.4 1387.2,689.7 1382.8,689.4" fill="#000"/>
<polygon points="1402.1,684.9 1400.5,689 1396.1,689.3 1399.5,692 1398.4,696.3 1402.1,693.9 1405.8,696.3 1404.7,692 1408.1,689.3 1403.7,689" fill="#000"/>
<polygon points="1423,684.7 1421.4,688.8 1417,689 1420.4,691.8 1419.3,696 1423,693.7 1426.7,696 1425.6,691.8 1429,689 1424.6,688.8" fill="#000"/>
<polygon points="1443.9,684.6 1442.3,688.7 1437.9,688.9 1441.3,691.7 1440.2,696 1443.9,693.6 1447.6,696 1446.5,691.7 1449.9,688.9 1445.5,688.7" fill="#000"/>
<polygon points="1464.8,684.7 1463.2,688.7 1458.8,689 1462.2,691.8 1461.1,696 1464.8,693.6 1468.5,696 1467.4,691.8 1470.8,689 1466.4,688.7" fill="#000"/>
<polygon points="1485.7,684.8 1484.1,688.9 1479.7,689.1 1483.1,691.9 1482,696.2 1485.7,693.8 1489.4,696.2 1488.3,691.9 1491.7,689.1 1487.3,688.9" fill="#000"/>
<polygon points="1506.6,685 1505,689.1 1500.6,689.3 1504,692.1 1502.9,696.4 1506.6,694 1510.3,696.4 1509.1,692.1 1512.5,689.3 1508.2,689.1" fill="#000"/>
<polygon points="1527.5,685.2 1525.9,689.3 1521.5,689.6 1524.9,692.4 1523.8,696.6 1527.5,694.2 1531.2,696.6 1530,692.4 1533.4,689.6 1529,689.3" fill="#000"/>
<polygon points="1548.3,685.5 1546.8,689.6 1542.4,689.8 1545.8,692.6 1544.7,696.8 1548.3,694.5 1552,696.8 1550.9,692.6 1554.3,689.8 1549.9,689.6" fill="#000"/>
<polygon points="1569.2,685.7 1567.7,689.8 1563.3,690.1 1566.7,692.9 1565.5,697.1 1569.2,694.7 1572.9,697.1 1571.8,692.9 1575.2,690.1 1570.8,689.8" fill="#000"/>
<polygon points="1590.1,686.1 1588.5,690.2 1584.2,690.4 1587.6,693.2 1586.4,697.4 1590.1,695.1 1593.8,697.4 1592.7,693.2 1596.1,690.4 1591.7,690.2" fill="#000"/>
<polygon points="1611,686.4 1609.4,690.5 1605,690.8 1608.4,693.5 1607.3,697.8 1611,695.4 1614.7,697.8 1613.6,693.5 1617,690.8 1612.6,690.5" fill="#000"/>
<polygon points="1631.9,686.8 1630.3,690.9 1625.9,691.2 1629.3,693.9 1628.2,698.2 1631.9,695.8 1635.6,698.2 1634.5,693.9 1637.9,691.2 1633.5,690.9" fill="#000"/>
<polygon points="1652.8,687.3 1651.2,691.3 1646.8,691.6 1650.2,694.4 1649.1,698.6 1652.8,696.2 1656.5,698.6 1655.4,694.4 1658.8,691.6 1654.4,691.3" fill="#000"/>
<polyline points="1026.1,1018.9 1047,948 1067.9,881.5 1088.8,826.5 1109.7,784 1130.5,759.8 1151.4,750.3 1172.3,738.7 1193.2,734.1 1214.1,726.5 1235,721.9 1255.9,718.1 1276.8,713.5 1297.7,710.5 1318.6,709.5 1339.4,708.3 1360.3,708 1381.2,707.8 1402.1,707.6 1423,707.1 1443.9,700.7 1464.8,700.1 1485.7,699.7 1506.6,699.3 1527.5,699 1548.3,698.9 1569.2,698.9 1590.1,698.9 1611,699.1 1631.9,699.3 1652.8,699.7" fill="none" stroke="#000" stroke-width="3.1" stroke-linejoin="round"/>
<polygon points="1026.1,1012.5 1024.1,1015.4 1020.6,1015.7 1022,1018.9 1020.6,1022.1 1024.1,1022.4 1026.1,1025.3 1028.1,1022.4 1031.6,1022.1 1030.2,1018.9 1031.6,1015.7 1028.1,1015.4" fill="#000"/>
<polygon points="1047,941.6 1045,944.4 1041.5,944.8 1042.9,948 1041.5,951.2 1045,951.5 1047,954.3 1049,951.5 1052.5,951.2 1051,948 1052.5,944.8 1049,944.4" fill="#000"/>
<polygon points="1067.9,875.1 1065.9,878 1062.4,878.3 1063.8,881.5 1062.4,884.7 1065.9,885 1067.9,887.9 1069.9,885 1073.4,884.7 1071.9,881.5 1073.4,878.3 1069.9,878" fill="#000"/>
<polygon points="1088.8,820.1 1086.7,823 1083.2,823.3 1084.7,826.5 1083.2,829.7 1086.7,830 1088.8,832.9 1090.8,830 1094.3,829.7 1092.8,826.5 1094.3,823.3 1090.8,823" fill="#000"/>
<polygon points="1109.7,777.6 1107.6,780.4 1104.1,780.8 1105.6,784 1104.1,787.1 1107.6,787.5 1109.7,790.3 1111.7,787.5 1115.2,787.1 1113.7,784 1115.2,780.8 1111.7,780.4" fill="#000"/>
<polygon points="1130.5,753.5 1128.5,756.3 1125,756.7 1126.5,759.8 1125,763 1128.5,763.4 1130.5,766.2 1132.6,763.4 1136.1,763 1134.6,759.8 1136.1,756.7 1132.6,756.3" fill="#000"/>
<polygon points="1151.4,743.9 1149.4,746.8 1145.9,747.1 1147.4,750.3 1145.9,753.5 1149.4,753.8 1151.4,756.6 1153.5,753.8 1157,753.5 1155.5,750.3 1157,747.1 1153.5,746.8" fill="#000"/>
<polygon points="1172.3,732.4 1170.3,735.2 1166.8,735.6 1168.3,738.7 1166.8,741.9 1170.3,742.3 1172.3,745.1 1174.4,742.3 1177.9,741.9 1176.4,738.7 1177.9,735.6 1174.4,735.2" fill="#000"/>
<polygon points="1193.2,727.8 1191.2,730.6 1187.7,731 1189.2,734.1 1187.7,737.3 1191.2,737.7 1193.2,740.5 1195.2,737.7 1198.7,737.3 1197.3,734.1 1198.7,731 1195.2,730.6" fill="#000"/>
<polygon points="1214.1,720.1 1212.1,723 1208.6,723.3 1210.1,726.5 1208.6,729.7 1212.1,730 1214.1,732.9 1216.1,730 1219.6,729.7 1218.2,726.5 1219.6,723.3 1216.1,723" fill="#000"/>
<polygon points="1235,715.5 1233,718.4 1229.5,718.7 1230.9,721.9 1229.5,725.1 1233,725.4 1235,728.3 1237,725.4 1240.5,725.1 1239.1,721.9 1240.5,718.7 1237,718.4" fill="#000"/>
<polygon points="1255.9,711.7 1253.9,714.6 1250.4,714.9 1251.8,718.1 1250.4,721.3 1253.9,721.6 1255.9,724.5 1257.9,721.6 1261.4,721.3 1259.9,718.1 1261.4,714.9 1257.9,714.6" fill="#000"/>
<polygon points="1276.8,707.1 1274.8,710 1271.3,710.3 1272.7,713.5 1271.3,716.7 1274.8,717 1276.8,719.9 1278.8,717 1282.3,716.7 1280.8,713.5 1282.3,710.3 1278.8,710" fill="#000"/>
<polygon points="1297.7,704.1 1295.6,707 1292.1,707.3 1293.6,710.5 1292.1,713.7 1295.6,714 1297.7,716.8 1299.7,714 1303.2,713.7 1301.7,710.5 1303.2,707.3 1299.7,707" fill="#000"/>
<polygon points="1318.6,703.1 1316.5,706 1313,706.3 1314.5,709.5 1313,712.7 1316.5,713 1318.6,715.9 1320.6,713 1324.1,712.7 1322.6,709.5 1324.1,706.3 1320.6,706" fill="#000"/>
<polygon points="1339.4,702 1337.4,704.8 1333.9,705.2 1335.4,708.3 1333.9,711.5 1337.4,711.9 1339.4,714.7 1341.5,711.9 1345,711.5 1343.5,708.3 1345,705.2 1341.5,704.8" fill="#000"/>
<polygon points="1360.3,701.6 1358.3,704.5 1354.8,704.8 1356.3,708 1354.8,711.2 1358.3,711.5 1360.3,714.3 1362.4,711.5 1365.9,711.2 1364.4,708 1365.9,704.8 1362.4,704.5" fill="#000"/>
<polygon points="1381.2,701.4 1379.2,704.3 1375.7,704.6 1377.2,707.8 1375.7,711 1379.2,711.3 1381.2,714.2 1383.3,711.3 1386.8,711 1385.3,707.8 1386.8,704.6 1383.3,704.3" fill="#000"/>
<polygon points="1402.1,701.2 1400.1,704.1 1396.6,704.4 1398.1,707.6 1396.6,710.8 1400.1,711.1 1402.1,714 1404.1,711.1 1407.6,710.8 1406.2,707.6 1407.6,704.4 1404.1,704.1" fill="#000"/>
<polygon points="1423,700.7 1421,703.6 1417.5,703.9 1419,707.1 1417.5,710.3 1421,710.6 1423,713.5 1425,710.6 1428.5,710.3 1427.1,707.1 1428.5,703.9 1425,703.6" fill="#000"/>
<polygon points="1443.9,694.3 1441.9,697.2 1438.4,697.5 1439.8,700.7 1438.4,703.9 1441.9,704.2 1443.9,707.1 1445.9,704.2 1449.4,703.9 1448,700.7 1449.4,697.5 1445.9,697.2" fill="#000"/>
<polygon points="1464.8,693.7 1462.8,696.6 1459.3,696.9 1460.7,700.1 1459.3,703.3 1462.8,703.6 1464.8,706.4 1466.8,703.6 1470.3,703.3 1468.8,700.1 1470.3,696.9 1466.8,696.6" fill="#000"/>
<polygon points="1485.7,693.4 1483.7,696.2 1480.2,696.6 1481.6,699.7 1480.2,702.9 1483.7,703.3 1485.7,706.1 1487.7,703.3 1491.2,702.9 1489.7,699.7 1491.2,696.6 1487.7,696.2" fill="#000"/>
<polygon points="1506.6,693 1504.5,695.8 1501,696.2 1502.5,699.3 1501,702.5 1504.5,702.9 1506.6,705.7 1508.6,702.9 1512.1,702.5 1510.6,699.3 1512.1,696.2 1508.6,695.8" fill="#000"/>
<polygon points="1527.5,692.6 1525.4,695.5 1521.9,695.8 1523.4,699 1521.9,702.2 1525.4,702.5 1527.5,705.4 1529.5,702.5 1533,702.2 1531.5,699 1533,695.8 1529.5,695.5" fill="#000"/>
<polygon points="1548.3,692.5 1546.3,695.3 1542.8,695.7 1544.3,698.9 1542.8,702 1546.3,702.4 1548.3,705.2 1550.4,702.4 1553.9,702 1552.4,698.9 1553.9,695.7 1550.4,695.3" fill="#000"/>
<polygon points="1569.2,692.5 1567.2,695.4 1563.7,695.7 1565.2,698.9 1563.7,702.1 1567.2,702.4 1569.2,705.2 1571.3,702.4 1574.8,702.1 1573.3,698.9 1574.8,695.7 1571.3,695.4" fill="#000"/>
<polygon points="1590.1,692.6 1588.1,695.4 1584.6,695.8 1586.1,698.9 1584.6,702.1 1588.1,702.5 1590.1,705.3 1592.2,702.5 1595.7,702.1 1594.2,698.9 1595.7,695.8 1592.2,695.4" fill="#000"/>
<polygon points="1611,692.7 1609,695.6 1605.5,695.9 1607,699.1 1605.5,702.3 1609,702.6 1611,705.5 1613,702.6 1616.5,702.3 1615.1,699.1 1616.5,695.9 1613,695.6" fill="#000"/>
<polygon points="1631.9,693 1629.9,695.8 1626.4,696.2 1627.9,699.3 1626.4,702.5 1629.9,702.9 1631.9,705.7 1633.9,702.9 1637.4,702.5 1636,699.3 1637.4,696.2 1633.9,695.8" fill="#000"/>
<polygon points="1652.8,693.4 1650.8,696.2 1647.3,696.6 1648.7,699.7 1647.3,702.9 1650.8,703.3 1652.8,706.1 1654.8,703.3 1658.3,702.9 1656.9,699.7 1658.3,696.6 1654.8,696.2" fill="#000"/>
<polyline points="1026.1,1002.9 1047,913.7 1067.9,833.3 1088.8,770.8 1109.7,741.5 1130.5,726.2 1151.4,716 1172.3,710.9 1193.2,704.5 1214.1,701.1 1235,698.9 1255.9,697.4 1276.8,696.3 1297.7,695.3 1318.6,694.4 1339.4,693.5 1360.3,692.5 1381.2,691.3 1402.1,690.2 1423,689.4 1443.9,689.1 1464.8,689.2 1485.7,689.3 1506.6,689.5 1527.5,689.7 1548.3,690 1569.2,690.3 1590.1,690.6 1611,690.9 1631.9,691.3 1652.8,691.8" fill="none" stroke="#000" stroke-width="3.1" stroke-linejoin="round"/>
<circle cx="1026.1" cy="1002.9" r="6.6" fill="#ff6a00" stroke="#000" stroke-width="2.8"/>
<circle cx="1047" cy="913.7" r="6.6" fill="#ff6a00" stroke="#000" stroke-width="2.8"/>
<circle cx="1067.9" cy="833.3" r="6.6" fill="#ff6a00" stroke="#000" stroke-width="2.8"/>
<circle cx="1088.8" cy="770.8" r="6.6" fill="#ff6a00" stroke="#000" stroke-width="2.8"/>
<circle cx="1109.7" cy="741.5" r="6.6" fill="#ff6a00" stroke="#000" stroke-width="2.8"/>
<circle cx="1130.5" cy="726.2" r="6.6" fill="#ff6a00" stroke="#000" stroke-width="2.8"/>
<circle cx="1151.4" cy="716" r="6.6" fill="#ff6a00" stroke="#000" stroke-width="2.8"/>
<circle cx="1172.3" cy="710.9" r="6.6" fill="#ff6a00" stroke="#000" stroke-width="2.8"/>
<circle cx="1193.2" cy="704.5" r="6.6" fill="#ff6a00" stroke="#000" stroke-width="2.8"/>
<circle cx="1214.1" cy="701.1" r="6.6" fill="#ff6a00" stroke="#000" stroke-width="2.8"/>
<circle cx="1235" cy="698.9" r="6.6" fill="#ff6a00" stroke="#000" stroke-width="2.8"/>
<circle cx="1255.9" cy="697.4" r="6.6" fill="#ff6a00" stroke="#000" stroke-width="2.8"/>
<circle cx="1276.8" cy="696.3" r="6.6" fill="#ff6a00" stroke="#000" stroke-width="2.8"/>
<circle cx="1297.7" cy="695.3" r="6.6" fill="#ff6a00" stroke="#000" stroke-width="2.8"/>
<circle cx="1318.6" cy="694.4" r="6.6" fill="#ff6a00" stroke="#000" stroke-width="2.8"/>
<circle cx="1339.4" cy="693.5" r="6.6" fill="#ff6a00" stroke="#000" stroke-width="2.8"/>
<circle cx="1360.3" cy="692.5" r="6.6" fill="#ff6a00" stroke="#000" stroke-width="2.8"/>
<circle cx="1381.2" cy="691.3" r="6.6" fill="#ff6a00" stroke="#000" stroke-width="2.8"/>
<circle cx="1402.1" cy="690.2" r="6.6" fill="#ff6a00" stroke="#000" stroke-width="2.8"/>
<circle cx="1423" cy="689.4" r="6.6" fill="#ff6a00" stroke="#000" stroke-width="2.8"/>
<circle cx="1443.9" cy="689.1" r="6.6" fill="#ff6a00" stroke="#000" stroke-width="2.8"/>
<circle cx="1464.8" cy="689.2" r="6.6" fill="#ff6a00" stroke="#000" stroke-width="2.8"/>
<circle cx="1485.7" cy="689.3" r="6.6" fill="#ff6a00" stroke="#000" stroke-width="2.8"/>
<circle cx="1506.6" cy="689.5" r="6.6" fill="#ff6a00" stroke="#000" stroke-width="2.8"/>
<circle cx="1527.5" cy="689.7" r="6.6" fill="#ff6a00" stroke="#000" stroke-width="2.8"/>
<circle cx="1548.3" cy="690" r="6.6" fill="#ff6a00" stroke="#000" stroke-width="2.8"/>
<circle cx="1569.2" cy="690.3" r="6.6" fill="#ff6a00" stroke="#000" stroke-width="2.8"/>
<circle cx="1590.1" cy="690.6" r="6.6" fill="#ff6a00" stroke="#000" stroke-width="2.8"/>
<circle cx="1611" cy="690.9" r="6.6" fill="#ff6a00" stroke="#000" stroke-width="2.8"/>
<circle cx="1631.9" cy="691.3" r="6.6" fill="#ff6a00" stroke="#000" stroke-width="2.8"/>
<circle cx="1652.8" cy="691.8" r="6.6" fill="#ff6a00" stroke="#000" stroke-width="2.8"/>
<polyline points="1026.1,1005.6 1047,921.4 1067.9,850 1088.8,791.2 1109.7,752.9 1130.5,731.3 1151.4,721 1172.3,713 1193.2,705.9 1214.1,700.5 1235,696.2 1255.9,692.7 1276.8,690 1297.7,687.9 1318.6,686.1 1339.4,684.7 1360.3,683.2 1381.2,681.8 1402.1,680.6 1423,679.7 1443.9,679.4 1464.8,679.4 1485.7,679.4 1506.6,679.4 1527.5,679.4 1548.3,679.4 1569.2,679.5 1590.1,679.7 1611,680.1 1631.9,680.6 1652.8,681.1" fill="none" stroke="#000" stroke-width="3.1" stroke-linejoin="round"/>
<polygon points="1026.1,1012.5 1033,998.8 1019.2,998.8" fill="#a7a7af" stroke="#8a8a92" stroke-width="0.8" stroke-linejoin="miter"/>
<polygon points="1047,928.3 1053.8,914.6 1040.1,914.6" fill="#a7a7af" stroke="#8a8a92" stroke-width="0.8" stroke-linejoin="miter"/>
<polygon points="1067.9,857 1074.7,843.2 1061,843.2" fill="#a7a7af" stroke="#8a8a92" stroke-width="0.8" stroke-linejoin="miter"/>
<polygon points="1088.8,798.2 1095.6,784.5 1081.9,784.5" fill="#a7a7af" stroke="#8a8a92" stroke-width="0.8" stroke-linejoin="miter"/>
<polygon points="1109.7,759.9 1116.5,746.2 1102.8,746.2" fill="#a7a7af" stroke="#8a8a92" stroke-width="0.8" stroke-linejoin="miter"/>
<polygon points="1130.5,738.3 1137.4,724.5 1123.7,724.5" fill="#a7a7af" stroke="#8a8a92" stroke-width="0.8" stroke-linejoin="miter"/>
<polygon points="1151.4,728 1158.3,714.3 1144.6,714.3" fill="#a7a7af" stroke="#8a8a92" stroke-width="0.8" stroke-linejoin="miter"/>
<polygon points="1172.3,720 1179.2,706.3 1165.5,706.3" fill="#a7a7af" stroke="#8a8a92" stroke-width="0.8" stroke-linejoin="miter"/>
<polygon points="1193.2,712.9 1200.1,699.2 1186.4,699.2" fill="#a7a7af" stroke="#8a8a92" stroke-width="0.8" stroke-linejoin="miter"/>
<polygon points="1214.1,707.5 1221,693.8 1207.3,693.8" fill="#a7a7af" stroke="#8a8a92" stroke-width="0.8" stroke-linejoin="miter"/>
<polygon points="1235,703.2 1241.9,689.4 1228.1,689.4" fill="#a7a7af" stroke="#8a8a92" stroke-width="0.8" stroke-linejoin="miter"/>
<polygon points="1255.9,699.7 1262.7,686 1249,686" fill="#a7a7af" stroke="#8a8a92" stroke-width="0.8" stroke-linejoin="miter"/>
<polygon points="1276.8,696.9 1283.6,683.2 1269.9,683.2" fill="#a7a7af" stroke="#8a8a92" stroke-width="0.8" stroke-linejoin="miter"/>
<polygon points="1297.7,694.8 1304.5,681.1 1290.8,681.1" fill="#a7a7af" stroke="#8a8a92" stroke-width="0.8" stroke-linejoin="miter"/>
<polygon points="1318.6,693.1 1325.4,679.4 1311.7,679.4" fill="#a7a7af" stroke="#8a8a92" stroke-width="0.8" stroke-linejoin="miter"/>
<polygon points="1339.4,691.6 1346.3,677.9 1332.6,677.9" fill="#a7a7af" stroke="#8a8a92" stroke-width="0.8" stroke-linejoin="miter"/>
<polygon points="1360.3,690.2 1367.2,676.5 1353.5,676.5" fill="#a7a7af" stroke="#8a8a92" stroke-width="0.8" stroke-linejoin="miter"/>
<polygon points="1381.2,688.8 1388.1,675.1 1374.4,675.1" fill="#a7a7af" stroke="#8a8a92" stroke-width="0.8" stroke-linejoin="miter"/>
<polygon points="1402.1,687.5 1409,673.8 1395.3,673.8" fill="#a7a7af" stroke="#8a8a92" stroke-width="0.8" stroke-linejoin="miter"/>
<polygon points="1423,686.6 1429.9,672.9 1416.2,672.9" fill="#a7a7af" stroke="#8a8a92" stroke-width="0.8" stroke-linejoin="miter"/>
<polygon points="1443.9,686.3 1450.8,672.6 1437,672.6" fill="#a7a7af" stroke="#8a8a92" stroke-width="0.8" stroke-linejoin="miter"/>
<polygon points="1464.8,686.3 1471.6,672.6 1457.9,672.6" fill="#a7a7af" stroke="#8a8a92" stroke-width="0.8" stroke-linejoin="miter"/>
<polygon points="1485.7,686.3 1492.5,672.6 1478.8,672.6" fill="#a7a7af" stroke="#8a8a92" stroke-width="0.8" stroke-linejoin="miter"/>
<polygon points="1506.6,686.3 1513.4,672.6 1499.7,672.6" fill="#a7a7af" stroke="#8a8a92" stroke-width="0.8" stroke-linejoin="miter"/>
<polygon points="1527.5,686.3 1534.3,672.6 1520.6,672.6" fill="#a7a7af" stroke="#8a8a92" stroke-width="0.8" stroke-linejoin="miter"/>
<polygon points="1548.3,686.3 1555.2,672.6 1541.5,672.6" fill="#a7a7af" stroke="#8a8a92" stroke-width="0.8" stroke-linejoin="miter"/>
<polygon points="1569.2,686.4 1576.1,672.7 1562.4,672.7" fill="#a7a7af" stroke="#8a8a92" stroke-width="0.8" stroke-linejoin="miter"/>
<polygon points="1590.1,686.7 1597,673 1583.3,673" fill="#a7a7af" stroke="#8a8a92" stroke-width="0.8" stroke-linejoin="miter"/>
<polygon points="1611,687.1 1617.9,673.4 1604.2,673.4" fill="#a7a7af" stroke="#8a8a92" stroke-width="0.8" stroke-linejoin="miter"/>
<polygon points="1631.9,687.6 1638.8,673.8 1625.1,673.8" fill="#a7a7af" stroke="#8a8a92" stroke-width="0.8" stroke-linejoin="miter"/>
<polygon points="1652.8,688.1 1659.7,674.4 1645.9,674.4" fill="#a7a7af" stroke="#8a8a92" stroke-width="0.8" stroke-linejoin="miter"/>
<polyline points="1026.1,991.5 1047,901 1067.9,818.8 1088.8,752.2 1109.7,719.3 1130.5,705.9 1151.4,697.7 1172.3,691.8 1193.2,688 1214.1,679.8 1235,677.8 1255.9,676.5 1276.8,675.2 1297.7,673.1 1318.6,674 1339.4,671.4 1360.3,670.2 1381.2,669.3 1402.1,668.6 1423,668 1443.9,667.6 1464.8,667.1 1485.7,666.9 1506.6,667.6 1527.5,669 1548.3,670.1 1569.2,670.8 1590.1,671.3 1611,671.8 1631.9,672.1 1652.8,672.3" fill="none" stroke="#000" stroke-width="3.1" stroke-linejoin="round"/>
<circle cx="1026.1" cy="991.5" r="6.2" fill="#7b0ea3" stroke="#000" stroke-width="1.2"/>
<circle cx="1047" cy="901" r="6.2" fill="#7b0ea3" stroke="#000" stroke-width="1.2"/>
<circle cx="1067.9" cy="818.8" r="6.2" fill="#7b0ea3" stroke="#000" stroke-width="1.2"/>
<circle cx="1088.8" cy="752.2" r="6.2" fill="#7b0ea3" stroke="#000" stroke-width="1.2"/>
<circle cx="1109.7" cy="719.3" r="6.2" fill="#7b0ea3" stroke="#000" stroke-width="1.2"/>
<circle cx="1130.5" cy="705.9" r="6.2" fill="#7b0ea3" stroke="#000" stroke-width="1.2"/>
<circle cx="1151.4" cy="697.7" r="6.2" fill="#7b0ea3" stroke="#000" stroke-width="1.2"/>
<circle cx="1172.3" cy="691.8" r="6.2" fill="#7b0ea3" stroke="#000" stroke-width="1.2"/>
<circle cx="1193.2" cy="688" r="6.2" fill="#7b0ea3" stroke="#000" stroke-width="1.2"/>
<circle cx="1214.1" cy="679.8" r="6.2" fill="#7b0ea3" stroke="#000" stroke-width="1.2"/>
<circle cx="1235" cy="677.8" r="6.2" fill="#7b0ea3" stroke="#000" stroke-width="1.2"/>
<circle cx="1255.9" cy="676.5" r="6.2" fill="#7b0ea3" stroke="#000" stroke-width="1.2"/>
<circle cx="1276.8" cy="675.2" r="6.2" fill="#7b0ea3" stroke="#000" stroke-width="1.2"/>
<circle cx="1297.7" cy="673.1" r="6.2" fill="#7b0ea3" stroke="#000" stroke-width="1.2"/>
<circle cx="1318.6" cy="674" r="6.2" fill="#7b0ea3" stroke="#000" stroke-width="1.2"/>
<circle cx="1339.4" cy="671.4" r="6.2" fill="#7b0ea3" stroke="#000" stroke-width="1.2"/>
<circle cx="1360.3" cy="670.2" r="6.2" fill="#7b0ea3" stroke="#000" stroke-width="1.2"/>
<circle cx="1381.2" cy="669.3" r="6.2" fill="#7b0ea3" stroke="#000" stroke-width="1.2"/>
<circle cx="1402.1" cy="668.6" r="6.2" fill="#7b0ea3" stroke="#000" stroke-width="1.2"/>
<circle cx="1423" cy="668" r="6.2" fill="#7b0ea3" stroke="#000" stroke-width="1.2"/>
<circle cx="1443.9" cy="667.6" r="6.2" fill="#7b0ea3" stroke="#000" stroke-width="1.2"/>
<circle cx="1464.8" cy="667.1" r="6.2" fill="#7b0ea3" stroke="#000" stroke-width="1.2"/>
<circle cx="1485.7" cy="666.9" r="6.2" fill="#7b0ea3" stroke="#000" stroke-width="1.2"/>
<circle cx="1506.6" cy="667.6" r="6.2" fill="#7b0ea3" stroke="#000" stroke-width="1.2"/>
<circle cx="1527.5" cy="669" r="6.2" fill="#7b0ea3" stroke="#000" stroke-width="1.2"/>
<circle cx="1548.3" cy="670.1" r="6.2" fill="#7b0ea3" stroke="#000" stroke-width="1.2"/>
<circle cx="1569.2" cy="670.8" r="6.2" fill="#7b0ea3" stroke="#000" stroke-width="1.2"/>
<circle cx="1590.1" cy="671.3" r="6.2" fill="#7b0ea3" stroke="#000" stroke-width="1.2"/>
<circle cx="1611" cy="671.8" r="6.2" fill="#7b0ea3" stroke="#000" stroke-width="1.2"/>
<circle cx="1631.9" cy="672.1" r="6.2" fill="#7b0ea3" stroke="#000" stroke-width="1.2"/>
<circle cx="1652.8" cy="672.3" r="6.2" fill="#7b0ea3" stroke="#000" stroke-width="1.2"/>
<polyline points="1026.1,1022 1047,953.3 1067.9,888.2 1088.8,833.3 1109.7,784.8 1130.5,750.5 1151.4,728.8 1172.3,718.6 1193.2,708.6 1214.1,701.7 1235,696.2 1255.9,691.1 1276.8,688 1297.7,687.2 1318.6,686.8 1339.4,686.4 1360.3,685.9 1381.2,685.3 1402.1,684.7 1423,684.3 1443.9,684.1 1464.8,684.2 1485.7,684.2 1506.6,684.4 1527.5,684.5 1548.3,684.7 1569.2,684.9 1590.1,685.2 1611,685.6 1631.9,686 1652.8,686.4" fill="none" stroke="#000" stroke-width="3.1" stroke-linejoin="round"/>
<polygon points="1026.1,1015.4 1032.5,1027.8 1019.7,1027.8" fill="#00d400" stroke="#000" stroke-width="2.7" stroke-linejoin="miter"/>
<polygon points="1047,946.7 1053.4,959.1 1040.6,959.1" fill="#00d400" stroke="#000" stroke-width="2.7" stroke-linejoin="miter"/>
<polygon points="1067.9,881.6 1074.3,894 1061.5,894" fill="#00d400" stroke="#000" stroke-width="2.7" stroke-linejoin="miter"/>
<polygon points="1088.8,826.8 1095.1,839.1 1082.4,839.1" fill="#00d400" stroke="#000" stroke-width="2.7" stroke-linejoin="miter"/>
<polygon points="1109.7,778.3 1116,790.6 1103.3,790.6" fill="#00d400" stroke="#000" stroke-width="2.7" stroke-linejoin="miter"/>
<polygon points="1130.5,743.9 1136.9,756.2 1124.2,756.2" fill="#00d400" stroke="#000" stroke-width="2.7" stroke-linejoin="miter"/>
<polygon points="1151.4,722.3 1157.8,734.6 1145.1,734.6" fill="#00d400" stroke="#000" stroke-width="2.7" stroke-linejoin="miter"/>
<polygon points="1172.3,712.1 1178.7,724.4 1166,724.4" fill="#00d400" stroke="#000" stroke-width="2.7" stroke-linejoin="miter"/>
<polygon points="1193.2,702 1199.6,714.4 1186.8,714.4" fill="#00d400" stroke="#000" stroke-width="2.7" stroke-linejoin="miter"/>
<polygon points="1214.1,695.1 1220.5,707.5 1207.7,707.5" fill="#00d400" stroke="#000" stroke-width="2.7" stroke-linejoin="miter"/>
<polygon points="1235,689.6 1241.4,702 1228.6,702" fill="#00d400" stroke="#000" stroke-width="2.7" stroke-linejoin="miter"/>
<polygon points="1255.9,684.5 1262.3,696.9 1249.5,696.9" fill="#00d400" stroke="#000" stroke-width="2.7" stroke-linejoin="miter"/>
<polygon points="1276.8,681.4 1283.2,693.7 1270.4,693.7" fill="#00d400" stroke="#000" stroke-width="2.7" stroke-linejoin="miter"/>
<polygon points="1297.7,680.7 1304,693 1291.3,693" fill="#00d400" stroke="#000" stroke-width="2.7" stroke-linejoin="miter"/>
<polygon points="1318.6,680.3 1324.9,692.6 1312.2,692.6" fill="#00d400" stroke="#000" stroke-width="2.7" stroke-linejoin="miter"/>
<polygon points="1339.4,679.9 1345.8,692.2 1333.1,692.2" fill="#00d400" stroke="#000" stroke-width="2.7" stroke-linejoin="miter"/>
<polygon points="1360.3,679.3 1366.7,691.7 1354,691.7" fill="#00d400" stroke="#000" stroke-width="2.7" stroke-linejoin="miter"/>
<polygon points="1381.2,678.7 1387.6,691.1 1374.9,691.1" fill="#00d400" stroke="#000" stroke-width="2.7" stroke-linejoin="miter"/>
<polygon points="1402.1,678.2 1408.5,690.5 1395.7,690.5" fill="#00d400" stroke="#000" stroke-width="2.7" stroke-linejoin="miter"/>
<polygon points="1423,677.7 1429.4,690.1 1416.6,690.1" fill="#00d400" stroke="#000" stroke-width="2.7" stroke-linejoin="miter"/>
<polygon points="1443.9,677.6 1450.3,689.9 1437.5,689.9" fill="#00d400" stroke="#000" stroke-width="2.7" stroke-linejoin="miter"/>
<polygon points="1464.8,677.6 1471.2,690 1458.4,690" fill="#00d400" stroke="#000" stroke-width="2.7" stroke-linejoin="miter"/>
<polygon points="1485.7,677.7 1492.1,690 1479.3,690" fill="#00d400" stroke="#000" stroke-width="2.7" stroke-linejoin="miter"/>
<polygon points="1506.6,677.8 1512.9,690.2 1500.2,690.2" fill="#00d400" stroke="#000" stroke-width="2.7" stroke-linejoin="miter"/>
<polygon points="1527.5,677.9 1533.8,690.3 1521.1,690.3" fill="#00d400" stroke="#000" stroke-width="2.7" stroke-linejoin="miter"/>
<polygon points="1548.3,678.1 1554.7,690.5 1542,690.5" fill="#00d400" stroke="#000" stroke-width="2.7" stroke-linejoin="miter"/>
<polygon points="1569.2,678.3 1575.6,690.7 1562.9,690.7" fill="#00d400" stroke="#000" stroke-width="2.7" stroke-linejoin="miter"/>
<polygon points="1590.1,678.6 1596.5,691 1583.8,691" fill="#00d400" stroke="#000" stroke-width="2.7" stroke-linejoin="miter"/>
<polygon points="1611,679 1617.4,691.4 1604.6,691.4" fill="#00d400" stroke="#000" stroke-width="2.7" stroke-linejoin="miter"/>
<polygon points="1631.9,679.4 1638.3,691.8 1625.5,691.8" fill="#00d400" stroke="#000" stroke-width="2.7" stroke-linejoin="miter"/>
<polygon points="1652.8,679.9 1659.2,692.2 1646.4,692.2" fill="#00d400" stroke="#000" stroke-width="2.7" stroke-linejoin="miter"/>
<polyline points="1026.1,1059 1047,1038.6 1067.9,1018.7 1088.8,997.8 1109.7,977.8 1130.5,958.2 1151.4,936.5 1172.3,917.4 1193.2,897.8 1214.1,877.9 1235,862.6 1255.9,841.1 1276.8,823.9 1297.7,806.1 1318.6,790.1 1339.4,773.5 1360.3,759.4 1381.2,745.4 1402.1,734 1423,726.8 1443.9,719.9 1464.8,715.3 1485.7,712.2 1506.6,709.7 1527.5,707.6 1548.3,704.6 1569.2,703.3 1590.1,704.2 1611,702.6 1631.9,702 1652.8,701.5" fill="none" stroke="#000" stroke-width="3.1" stroke-linejoin="round"/>
<rect x="1019.4" y="1052.3" width="13.3" height="13.3" fill="#d8126f" stroke="#000" stroke-width="3.5"/>
<rect x="1040.3" y="1031.9" width="13.3" height="13.3" fill="#d8126f" stroke="#000" stroke-width="3.5"/>
<rect x="1061.2" y="1012" width="13.3" height="13.3" fill="#d8126f" stroke="#000" stroke-width="3.5"/>
<rect x="1082.1" y="991.1" width="13.3" height="13.3" fill="#d8126f" stroke="#000" stroke-width="3.5"/>
<rect x="1103" y="971.2" width="13.3" height="13.3" fill="#d8126f" stroke="#000" stroke-width="3.5"/>
<rect x="1123.9" y="951.6" width="13.3" height="13.3" fill="#d8126f" stroke="#000" stroke-width="3.5"/>
<rect x="1144.8" y="929.9" width="13.3" height="13.3" fill="#d8126f" stroke="#000" stroke-width="3.5"/>
<rect x="1165.7" y="910.7" width="13.3" height="13.3" fill="#d8126f" stroke="#000" stroke-width="3.5"/>
<rect x="1186.6" y="891.1" width="13.3" height="13.3" fill="#d8126f" stroke="#000" stroke-width="3.5"/>
<rect x="1207.4" y="871.3" width="13.3" height="13.3" fill="#d8126f" stroke="#000" stroke-width="3.5"/>
<rect x="1228.3" y="855.9" width="13.3" height="13.3" fill="#d8126f" stroke="#000" stroke-width="3.5"/>
<rect x="1249.2" y="834.4" width="13.3" height="13.3" fill="#d8126f" stroke="#000" stroke-width="3.5"/>
<rect x="1270.1" y="817.2" width="13.3" height="13.3" fill="#d8126f" stroke="#000" stroke-width="3.5"/>
<rect x="1291" y="799.5" width="13.3" height="13.3" fill="#d8126f" stroke="#000" stroke-width="3.5"/>
<rect x="1311.9" y="783.4" width="13.3" height="13.3" fill="#d8126f" stroke="#000" stroke-width="3.5"/>
<rect x="1332.8" y="766.8" width="13.3" height="13.3" fill="#d8126f" stroke="#000" stroke-width="3.5"/>
<rect x="1353.7" y="752.7" width="13.3" height="13.3" fill="#d8126f" stroke="#000" stroke-width="3.5"/>
<rect x="1374.6" y="738.7" width="13.3" height="13.3" fill="#d8126f" stroke="#000" stroke-width="3.5"/>
<rect x="1395.5" y="727.3" width="13.3" height="13.3" fill="#d8126f" stroke="#000" stroke-width="3.5"/>
<rect x="1416.3" y="720.1" width="13.3" height="13.3" fill="#d8126f" stroke="#000" stroke-width="3.5"/>
<rect x="1437.2" y="713.2" width="13.3" height="13.3" fill="#d8126f" stroke="#000" stroke-width="3.5"/>
<rect x="1458.1" y="708.7" width="13.3" height="13.3" fill="#d8126f" stroke="#000" stroke-width="3.5"/>
<rect x="1479" y="705.6" width="13.3" height="13.3" fill="#d8126f" stroke="#000" stroke-width="3.5"/>
<rect x="1499.9" y="703" width="13.3" height="13.3" fill="#d8126f" stroke="#000" stroke-width="3.5"/>
<rect x="1520.8" y="701" width="13.3" height="13.3" fill="#d8126f" stroke="#000" stroke-width="3.5"/>
<rect x="1541.7" y="698" width="13.3" height="13.3" fill="#d8126f" stroke="#000" stroke-width="3.5"/>
<rect x="1562.6" y="696.6" width="13.3" height="13.3" fill="#d8126f" stroke="#000" stroke-width="3.5"/>
<rect x="1583.5" y="697.5" width="13.3" height="13.3" fill="#d8126f" stroke="#000" stroke-width="3.5"/>
<rect x="1604.4" y="695.9" width="13.3" height="13.3" fill="#d8126f" stroke="#000" stroke-width="3.5"/>
<rect x="1625.2" y="695.4" width="13.3" height="13.3" fill="#d8126f" stroke="#000" stroke-width="3.5"/>
<rect x="1646.1" y="694.9" width="13.3" height="13.3" fill="#d8126f" stroke="#000" stroke-width="3.5"/>
<polyline points="1026.1,1065.4 1047,1047.5 1067.9,1027.8 1088.8,1008 1109.7,988.8 1130.5,968.4 1151.4,948 1172.3,926.9 1193.2,906.7 1214.1,886.8 1235,867.6 1255.9,850.4 1276.8,829.2 1297.7,812.3 1318.6,795.5 1339.4,779.8 1360.3,765.8 1381.2,751 1402.1,741.6 1423,735.2 1443.9,728.8 1464.8,725.5 1485.7,723 1506.6,718.6 1527.5,717.9 1548.3,718.6 1569.2,716.1 1590.1,716.1 1611,714.3 1631.9,712.8 1652.8,711" fill="none" stroke="#000" stroke-width="3.1" stroke-linejoin="round"/>
<polygon points="1026.1,1058.3 1033.1,1065.4 1026.1,1072.6 1019.1,1065.4" fill="#0000ff"/>
<polygon points="1047,1040.4 1053.9,1047.5 1047,1054.7 1040,1047.5" fill="#0000ff"/>
<polygon points="1067.9,1020.7 1074.8,1027.8 1067.9,1035 1060.9,1027.8" fill="#0000ff"/>
<polygon points="1088.8,1000.8 1095.7,1008 1088.8,1015.1 1081.8,1008" fill="#0000ff"/>
<polygon points="1109.7,981.7 1116.6,988.8 1109.7,996 1102.7,988.8" fill="#0000ff"/>
<polygon points="1130.5,961.3 1137.5,968.4 1130.5,975.6 1123.6,968.4" fill="#0000ff"/>
<polygon points="1151.4,940.8 1158.4,948 1151.4,955.1 1144.5,948" fill="#0000ff"/>
<polygon points="1172.3,919.7 1179.3,926.9 1172.3,934 1165.4,926.9" fill="#0000ff"/>
<polygon points="1193.2,899.5 1200.2,906.7 1193.2,913.8 1186.3,906.7" fill="#0000ff"/>
<polygon points="1214.1,879.6 1221.1,886.8 1214.1,893.9 1207.2,886.8" fill="#0000ff"/>
<polygon points="1235,860.5 1242,867.6 1235,874.8 1228,867.6" fill="#0000ff"/>
<polygon points="1255.9,843.3 1262.8,850.4 1255.9,857.6 1248.9,850.4" fill="#0000ff"/>
<polygon points="1276.8,822 1283.7,829.2 1276.8,836.3 1269.8,829.2" fill="#0000ff"/>
<polygon points="1297.7,805.2 1304.6,812.3 1297.7,819.5 1290.7,812.3" fill="#0000ff"/>
<polygon points="1318.6,788.3 1325.5,795.5 1318.6,802.6 1311.6,795.5" fill="#0000ff"/>
<polygon points="1339.4,772.6 1346.4,779.8 1339.4,786.9 1332.5,779.8" fill="#0000ff"/>
<polygon points="1360.3,758.6 1367.3,765.8 1360.3,772.9 1353.4,765.8" fill="#0000ff"/>
<polygon points="1381.2,743.8 1388.2,751 1381.2,758.1 1374.3,751" fill="#0000ff"/>
<polygon points="1402.1,734.4 1409.1,741.6 1402.1,748.7 1395.2,741.6" fill="#0000ff"/>
<polygon points="1423,728.1 1430,735.2 1423,742.4 1416.1,735.2" fill="#0000ff"/>
<polygon points="1443.9,721.7 1450.9,728.8 1443.9,736 1436.9,728.8" fill="#0000ff"/>
<polygon points="1464.8,718.4 1471.7,725.5 1464.8,732.7 1457.8,725.5" fill="#0000ff"/>
<polygon points="1485.7,715.8 1492.6,723 1485.7,730.1 1478.7,723" fill="#0000ff"/>
<polygon points="1506.6,711.5 1513.5,718.6 1506.6,725.8 1499.6,718.6" fill="#0000ff"/>
<polygon points="1527.5,710.8 1534.4,717.9 1527.5,725.1 1520.5,717.9" fill="#0000ff"/>
<polygon points="1548.3,711.5 1555.3,718.6 1548.3,725.8 1541.4,718.6" fill="#0000ff"/>
<polygon points="1569.2,709 1576.2,716.1 1569.2,723.3 1562.3,716.1" fill="#0000ff"/>
<polygon points="1590.1,709 1597.1,716.1 1590.1,723.3 1583.2,716.1" fill="#0000ff"/>
<polygon points="1611,707.1 1618,714.3 1611,721.4 1604.1,714.3" fill="#0000ff"/>
<polygon points="1631.9,705.6 1638.9,712.8 1631.9,719.9 1625,712.8" fill="#0000ff"/>
<polygon points="1652.8,703.9 1659.8,711 1652.8,718.1 1645.8,711" fill="#0000ff"/>
<polyline points="1026.1,1016.9 1047,943.1 1067.9,872.9 1088.8,815 1109.7,767.1 1130.5,741.5 1151.4,725 1172.3,716 1193.2,707.1 1214.1,703.3 1235,699.5 1255.9,697.7 1276.8,696.2 1297.7,695.3 1318.6,694.6 1339.4,693.9 1360.3,692.9 1381.2,691.7 1402.1,690.5 1423,689.6 1443.9,689.3 1464.8,689.4 1485.7,689.6 1506.6,689.9 1527.5,690.3 1548.3,690.5 1569.2,690.7 1590.1,690.9 1611,691.1 1631.9,691.2 1652.8,691.3" fill="none" stroke="#000" stroke-width="3.1" stroke-linejoin="round"/>
<polygon points="1026.1,1023.6 1032.7,1010.6 1019.5,1010.6" fill="#ff4b4b" stroke="#b03030" stroke-width="0.8" stroke-linejoin="miter"/>
<polygon points="1047,949.8 1053.6,936.7 1040.4,936.7" fill="#ff4b4b" stroke="#b03030" stroke-width="0.8" stroke-linejoin="miter"/>
<polygon points="1067.9,879.5 1074.4,866.5 1061.3,866.5" fill="#ff4b4b" stroke="#b03030" stroke-width="0.8" stroke-linejoin="miter"/>
<polygon points="1088.8,821.7 1095.3,808.6 1082.2,808.6" fill="#ff4b4b" stroke="#b03030" stroke-width="0.8" stroke-linejoin="miter"/>
<polygon points="1109.7,773.8 1116.2,760.7 1103.1,760.7" fill="#ff4b4b" stroke="#b03030" stroke-width="0.8" stroke-linejoin="miter"/>
<polygon points="1130.5,748.2 1137.1,735.1 1124,735.1" fill="#ff4b4b" stroke="#b03030" stroke-width="0.8" stroke-linejoin="miter"/>
<polygon points="1151.4,731.7 1158,718.6 1144.9,718.6" fill="#ff4b4b" stroke="#b03030" stroke-width="0.8" stroke-linejoin="miter"/>
<polygon points="1172.3,722.6 1178.9,709.6 1165.8,709.6" fill="#ff4b4b" stroke="#b03030" stroke-width="0.8" stroke-linejoin="miter"/>
<polygon points="1193.2,713.8 1199.8,700.7 1186.7,700.7" fill="#ff4b4b" stroke="#b03030" stroke-width="0.8" stroke-linejoin="miter"/>
<polygon points="1214.1,710 1220.7,696.9 1207.5,696.9" fill="#ff4b4b" stroke="#b03030" stroke-width="0.8" stroke-linejoin="miter"/>
<polygon points="1235,706.1 1241.6,693.1 1228.4,693.1" fill="#ff4b4b" stroke="#b03030" stroke-width="0.8" stroke-linejoin="miter"/>
<polygon points="1255.9,704.4 1262.5,691.3 1249.3,691.3" fill="#ff4b4b" stroke="#b03030" stroke-width="0.8" stroke-linejoin="miter"/>
<polygon points="1276.8,702.9 1283.3,689.8 1270.2,689.8" fill="#ff4b4b" stroke="#b03030" stroke-width="0.8" stroke-linejoin="miter"/>
<polygon points="1297.7,702 1304.2,688.9 1291.1,688.9" fill="#ff4b4b" stroke="#b03030" stroke-width="0.8" stroke-linejoin="miter"/>
<polygon points="1318.6,701.3 1325.1,688.2 1312,688.2" fill="#ff4b4b" stroke="#b03030" stroke-width="0.8" stroke-linejoin="miter"/>
<polygon points="1339.4,700.6 1346,687.5 1332.9,687.5" fill="#ff4b4b" stroke="#b03030" stroke-width="0.8" stroke-linejoin="miter"/>
<polygon points="1360.3,699.5 1366.9,686.5 1353.8,686.5" fill="#ff4b4b" stroke="#b03030" stroke-width="0.8" stroke-linejoin="miter"/>
<polygon points="1381.2,698.3 1387.8,685.3 1374.7,685.3" fill="#ff4b4b" stroke="#b03030" stroke-width="0.8" stroke-linejoin="miter"/>
<polygon points="1402.1,697.2 1408.7,684.1 1395.6,684.1" fill="#ff4b4b" stroke="#b03030" stroke-width="0.8" stroke-linejoin="miter"/>
<polygon points="1423,696.3 1429.6,683.3 1416.4,683.3" fill="#ff4b4b" stroke="#b03030" stroke-width="0.8" stroke-linejoin="miter"/>
<polygon points="1443.9,695.9 1450.5,682.9 1437.3,682.9" fill="#ff4b4b" stroke="#b03030" stroke-width="0.8" stroke-linejoin="miter"/>
<polygon points="1464.8,696 1471.4,683 1458.2,683" fill="#ff4b4b" stroke="#b03030" stroke-width="0.8" stroke-linejoin="miter"/>
<polygon points="1485.7,696.3 1492.2,683.2 1479.1,683.2" fill="#ff4b4b" stroke="#b03030" stroke-width="0.8" stroke-linejoin="miter"/>
<polygon points="1506.6,696.6 1513.1,683.6 1500,683.6" fill="#ff4b4b" stroke="#b03030" stroke-width="0.8" stroke-linejoin="miter"/>
<polygon points="1527.5,696.9 1534,683.9 1520.9,683.9" fill="#ff4b4b" stroke="#b03030" stroke-width="0.8" stroke-linejoin="miter"/>
<polygon points="1548.3,697.2 1554.9,684.1 1541.8,684.1" fill="#ff4b4b" stroke="#b03030" stroke-width="0.8" stroke-linejoin="miter"/>
<polygon points="1569.2,697.4 1575.8,684.3 1562.7,684.3" fill="#ff4b4b" stroke="#b03030" stroke-width="0.8" stroke-linejoin="miter"/>
<polygon points="1590.1,697.6 1596.7,684.5 1583.6,684.5" fill="#ff4b4b" stroke="#b03030" stroke-width="0.8" stroke-linejoin="miter"/>
<polygon points="1611,697.7 1617.6,684.7 1604.5,684.7" fill="#ff4b4b" stroke="#b03030" stroke-width="0.8" stroke-linejoin="miter"/>
<polygon points="1631.9,697.9 1638.5,684.8 1625.3,684.8" fill="#ff4b4b" stroke="#b03030" stroke-width="0.8" stroke-linejoin="miter"/>
<polygon points="1652.8,698 1659.4,684.9 1646.2,684.9" fill="#ff4b4b" stroke="#b03030" stroke-width="0.8" stroke-linejoin="miter"/>
<polyline points="1026.1,1100.4 1047,1096.9 1067.9,1096 1088.8,1096.5 1109.7,1095.1 1130.5,1094.7 1151.4,1093.3 1172.3,1096 1193.2,1094.7 1214.1,1093.3 1235,1095.1 1255.9,1096 1276.8,1094.7 1297.7,1094.7 1318.6,1094.7 1339.4,1094.7 1360.3,1094.2 1381.2,1094.2 1402.1,1094.7 1423,1094.2 1443.9,1094.2 1464.8,1094.2 1485.7,1094.7 1506.6,1094.7 1527.5,1094.7 1548.3,1094.7 1569.2,1094.2 1590.1,1094.7 1611,1094.7 1631.9,1094.7 1652.8,1094.2" fill="none" stroke="#000" stroke-width="3.1" stroke-linejoin="round"/>
<polygon points="1026.1,1093.1 1033.1,1107.2 1019.1,1107.2" fill="#ffff00" stroke="#555500" stroke-width="1" stroke-linejoin="miter"/>
<polygon points="1047,1089.6 1053.9,1103.7 1040,1103.7" fill="#ffff00" stroke="#555500" stroke-width="1" stroke-linejoin="miter"/>
<polygon points="1067.9,1088.7 1074.8,1102.8 1060.9,1102.8" fill="#ffff00" stroke="#555500" stroke-width="1" stroke-linejoin="miter"/>
<polygon points="1088.8,1089.1 1095.7,1103.2 1081.8,1103.2" fill="#ffff00" stroke="#555500" stroke-width="1" stroke-linejoin="miter"/>
<polygon points="1109.7,1087.8 1116.6,1101.9 1102.7,1101.9" fill="#ffff00" stroke="#555500" stroke-width="1" stroke-linejoin="miter"/>
<polygon points="1130.5,1087.3 1137.5,1101.4 1123.6,1101.4" fill="#ffff00" stroke="#555500" stroke-width="1" stroke-linejoin="miter"/>
<polygon points="1151.4,1086 1158.4,1100.1 1144.5,1100.1" fill="#ffff00" stroke="#555500" stroke-width="1" stroke-linejoin="miter"/>
<polygon points="1172.3,1088.7 1179.3,1102.8 1165.4,1102.8" fill="#ffff00" stroke="#555500" stroke-width="1" stroke-linejoin="miter"/>
<polygon points="1193.2,1087.3 1200.2,1101.4 1186.3,1101.4" fill="#ffff00" stroke="#555500" stroke-width="1" stroke-linejoin="miter"/>
<polygon points="1214.1,1086 1221.1,1100.1 1207.2,1100.1" fill="#ffff00" stroke="#555500" stroke-width="1" stroke-linejoin="miter"/>
<polygon points="1235,1087.8 1242,1101.9 1228,1101.9" fill="#ffff00" stroke="#555500" stroke-width="1" stroke-linejoin="miter"/>
<polygon points="1255.9,1088.7 1262.8,1102.8 1248.9,1102.8" fill="#ffff00" stroke="#555500" stroke-width="1" stroke-linejoin="miter"/>
<polygon points="1276.8,1087.3 1283.7,1101.4 1269.8,1101.4" fill="#ffff00" stroke="#555500" stroke-width="1" stroke-linejoin="miter"/>
<polygon points="1297.7,1087.3 1304.6,1101.4 1290.7,1101.4" fill="#ffff00" stroke="#555500" stroke-width="1" stroke-linejoin="miter"/>
<polygon points="1318.6,1087.3 1325.5,1101.4 1311.6,1101.4" fill="#ffff00" stroke="#555500" stroke-width="1" stroke-linejoin="miter"/>
<polygon points="1339.4,1087.3 1346.4,1101.4 1332.5,1101.4" fill="#ffff00" stroke="#555500" stroke-width="1" stroke-linejoin="miter"/>
<polygon points="1360.3,1086.9 1367.3,1101 1353.4,1101" fill="#ffff00" stroke="#555500" stroke-width="1" stroke-linejoin="miter"/>
<polygon points="1381.2,1086.9 1388.2,1101 1374.3,1101" fill="#ffff00" stroke="#555500" stroke-width="1" stroke-linejoin="miter"/>
<polygon points="1402.1,1087.3 1409.1,1101.4 1395.2,1101.4" fill="#ffff00" stroke="#555500" stroke-width="1" stroke-linejoin="miter"/>
<polygon points="1423,1086.9 1430,1101 1416.1,1101" fill="#ffff00" stroke="#555500" stroke-width="1" stroke-linejoin="miter"/>
<polygon points="1443.9,1086.9 1450.9,1101 1436.9,1101" fill="#ffff00" stroke="#555500" stroke-width="1" stroke-linejoin="miter"/>
<polygon points="1464.8,1086.9 1471.7,1101 1457.8,1101" fill="#ffff00" stroke="#555500" stroke-width="1" stroke-linejoin="miter"/>
<polygon points="1485.7,1087.3 1492.6,1101.4 1478.7,1101.4" fill="#ffff00" stroke="#555500" stroke-width="1" stroke-linejoin="miter"/>
<polygon points="1506.6,1087.3 1513.5,1101.4 1499.6,1101.4" fill="#ffff00" stroke="#555500" stroke-width="1" stroke-linejoin="miter"/>
<polygon points="1527.5,1087.3 1534.4,1101.4 1520.5,1101.4" fill="#ffff00" stroke="#555500" stroke-width="1" stroke-linejoin="miter"/>
<polygon points="1548.3,1087.3 1555.3,1101.4 1541.4,1101.4" fill="#ffff00" stroke="#555500" stroke-width="1" stroke-linejoin="miter"/>
<polygon points="1569.2,1086.9 1576.2,1101 1562.3,1101" fill="#ffff00" stroke="#555500" stroke-width="1" stroke-linejoin="miter"/>
<polygon points="1590.1,1087.3 1597.1,1101.4 1583.2,1101.4" fill="#ffff00" stroke="#555500" stroke-width="1" stroke-linejoin="miter"/>
<polygon points="1611,1087.3 1618,1101.4 1604.1,1101.4" fill="#ffff00" stroke="#555500" stroke-width="1" stroke-linejoin="miter"/>
<polygon points="1631.9,1087.3 1638.9,1101.4 1625,1101.4" fill="#ffff00" stroke="#555500" stroke-width="1" stroke-linejoin="miter"/>
<polygon points="1652.8,1086.9 1659.8,1101 1645.8,1101" fill="#ffff00" stroke="#555500" stroke-width="1" stroke-linejoin="miter"/>
<polyline points="1026.1,1071.2 1047,1056.5 1067.9,1041.7 1088.8,1027.1 1109.7,1013.1 1130.5,999 1151.4,983.7 1172.3,968.4 1193.2,953.9 1214.1,940.3 1235,927.6 1255.9,914.7 1276.8,899.2 1297.7,884.1 1318.6,874.1 1339.4,861.1 1360.3,846.9 1381.2,833.4 1402.1,819.9 1423,811.2 1443.9,799.5 1464.8,788.7 1485.7,777.8 1506.6,766.3 1527.5,756.1 1548.3,748.5 1569.2,740.3 1590.1,734.7 1611,729.6 1631.9,724.5 1652.8,719.3" fill="none" stroke="#000" stroke-width="3.1" stroke-linejoin="round"/>
<rect x="1019.5" y="1064.6" width="13.1" height="13.1" fill="#0f86a0" stroke="#0c6a80" stroke-width="1"/>
<rect x="1040.4" y="1049.9" width="13.1" height="13.1" fill="#0f86a0" stroke="#0c6a80" stroke-width="1"/>
<rect x="1061.3" y="1035.1" width="13.1" height="13.1" fill="#0f86a0" stroke="#0c6a80" stroke-width="1"/>
<rect x="1082.2" y="1020.6" width="13.1" height="13.1" fill="#0f86a0" stroke="#0c6a80" stroke-width="1"/>
<rect x="1103.1" y="1006.6" width="13.1" height="13.1" fill="#0f86a0" stroke="#0c6a80" stroke-width="1"/>
<rect x="1124" y="992.5" width="13.1" height="13.1" fill="#0f86a0" stroke="#0c6a80" stroke-width="1"/>
<rect x="1144.9" y="977.1" width="13.1" height="13.1" fill="#0f86a0" stroke="#0c6a80" stroke-width="1"/>
<rect x="1165.8" y="961.9" width="13.1" height="13.1" fill="#0f86a0" stroke="#0c6a80" stroke-width="1"/>
<rect x="1186.7" y="947.3" width="13.1" height="13.1" fill="#0f86a0" stroke="#0c6a80" stroke-width="1"/>
<rect x="1207.5" y="933.8" width="13.1" height="13.1" fill="#0f86a0" stroke="#0c6a80" stroke-width="1"/>
<rect x="1228.4" y="921" width="13.1" height="13.1" fill="#0f86a0" stroke="#0c6a80" stroke-width="1"/>
<rect x="1249.3" y="908.1" width="13.1" height="13.1" fill="#0f86a0" stroke="#0c6a80" stroke-width="1"/>
<rect x="1270.2" y="892.6" width="13.1" height="13.1" fill="#0f86a0" stroke="#0c6a80" stroke-width="1"/>
<rect x="1291.1" y="877.6" width="13.1" height="13.1" fill="#0f86a0" stroke="#0c6a80" stroke-width="1"/>
<rect x="1312" y="867.5" width="13.1" height="13.1" fill="#0f86a0" stroke="#0c6a80" stroke-width="1"/>
<rect x="1332.9" y="854.5" width="13.1" height="13.1" fill="#0f86a0" stroke="#0c6a80" stroke-width="1"/>
<rect x="1353.8" y="840.3" width="13.1" height="13.1" fill="#0f86a0" stroke="#0c6a80" stroke-width="1"/>
<rect x="1374.7" y="826.9" width="13.1" height="13.1" fill="#0f86a0" stroke="#0c6a80" stroke-width="1"/>
<rect x="1395.6" y="813.3" width="13.1" height="13.1" fill="#0f86a0" stroke="#0c6a80" stroke-width="1"/>
<rect x="1416.4" y="804.6" width="13.1" height="13.1" fill="#0f86a0" stroke="#0c6a80" stroke-width="1"/>
<rect x="1437.3" y="792.9" width="13.1" height="13.1" fill="#0f86a0" stroke="#0c6a80" stroke-width="1"/>
<rect x="1458.2" y="782.2" width="13.1" height="13.1" fill="#0f86a0" stroke="#0c6a80" stroke-width="1"/>
<rect x="1479.1" y="771.3" width="13.1" height="13.1" fill="#0f86a0" stroke="#0c6a80" stroke-width="1"/>
<rect x="1500" y="759.7" width="13.1" height="13.1" fill="#0f86a0" stroke="#0c6a80" stroke-width="1"/>
<rect x="1520.9" y="749.6" width="13.1" height="13.1" fill="#0f86a0" stroke="#0c6a80" stroke-width="1"/>
<rect x="1541.8" y="741.9" width="13.1" height="13.1" fill="#0f86a0" stroke="#0c6a80" stroke-width="1"/>
<rect x="1562.7" y="733.8" width="13.1" height="13.1" fill="#0f86a0" stroke="#0c6a80" stroke-width="1"/>
<rect x="1583.6" y="728.1" width="13.1" height="13.1" fill="#0f86a0" stroke="#0c6a80" stroke-width="1"/>
<rect x="1604.5" y="723" width="13.1" height="13.1" fill="#0f86a0" stroke="#0c6a80" stroke-width="1"/>
<rect x="1625.3" y="717.9" width="13.1" height="13.1" fill="#0f86a0" stroke="#0c6a80" stroke-width="1"/>
<rect x="1646.2" y="712.8" width="13.1" height="13.1" fill="#0f86a0" stroke="#0c6a80" stroke-width="1"/>
<polyline points="1026.1,1079.9 1047,1066.1 1067.9,1051.3 1088.8,1036.5 1109.7,1022.8 1130.5,1012.6 1151.4,999 1172.3,986.3 1193.2,972.3 1214.1,961.5 1235,948.8 1255.9,936.4 1276.8,924 1297.7,912.1 1318.6,901 1339.4,890.1 1360.3,876.8 1381.2,867.4 1402.1,859 1423,846.9 1443.9,834.2 1464.8,827 1485.7,819.9 1506.6,810.5 1527.5,802 1548.3,791.8 1569.2,783.2 1590.1,775.5 1611,765.8 1631.9,759.4 1652.8,752.6" fill="none" stroke="#000" stroke-width="3.1" stroke-linejoin="round"/>
<circle cx="1026.1" cy="1079.9" r="7" fill="#000"/>
<circle cx="1047" cy="1066.1" r="7" fill="#000"/>
<circle cx="1067.9" cy="1051.3" r="7" fill="#000"/>
<circle cx="1088.8" cy="1036.5" r="7" fill="#000"/>
<circle cx="1109.7" cy="1022.8" r="7" fill="#000"/>
<circle cx="1130.5" cy="1012.6" r="7" fill="#000"/>
<circle cx="1151.4" cy="999" r="7" fill="#000"/>
<circle cx="1172.3" cy="986.3" r="7" fill="#000"/>
<circle cx="1193.2" cy="972.3" r="7" fill="#000"/>
<circle cx="1214.1" cy="961.5" r="7" fill="#000"/>
<circle cx="1235" cy="948.8" r="7" fill="#000"/>
<circle cx="1255.9" cy="936.4" r="7" fill="#000"/>
<circle cx="1276.8" cy="924" r="7" fill="#000"/>
<circle cx="1297.7" cy="912.1" r="7" fill="#000"/>
<circle cx="1318.6" cy="901" r="7" fill="#000"/>
<circle cx="1339.4" cy="890.1" r="7" fill="#000"/>
<circle cx="1360.3" cy="876.8" r="7" fill="#000"/>
<circle cx="1381.2" cy="867.4" r="7" fill="#000"/>
<circle cx="1402.1" cy="859" r="7" fill="#000"/>
<circle cx="1423" cy="846.9" r="7" fill="#000"/>
<circle cx="1443.9" cy="834.2" r="7" fill="#000"/>
<circle cx="1464.8" cy="827" r="7" fill="#000"/>
<circle cx="1485.7" cy="819.9" r="7" fill="#000"/>
<circle cx="1506.6" cy="810.5" r="7" fill="#000"/>
<circle cx="1527.5" cy="802" r="7" fill="#000"/>
<circle cx="1548.3" cy="791.8" r="7" fill="#000"/>
<circle cx="1569.2" cy="783.2" r="7" fill="#000"/>
<circle cx="1590.1" cy="775.5" r="7" fill="#000"/>
<circle cx="1611" cy="765.8" r="7" fill="#000"/>
<circle cx="1631.9" cy="759.4" r="7" fill="#000"/>
<circle cx="1652.8" cy="752.6" r="7" fill="#000"/>
<text x="1395.7" y="637.1" font-size="33.6" font-weight="bold" text-anchor="middle">E-GS-BSA</text>
<text x="1338" y="1191.5" font-size="27.8" font-weight="bold" text-anchor="middle">Time (min)</text>
<text x="915.5" y="879.8" font-size="30.1" text-anchor="middle" transform="rotate(-90 915.5 879.8)" stroke="#000" stroke-width="0.8">Fluorescence at 545 nm</text>
<text x="873.6" y="591.3" font-size="44.5" font-weight="bold" text-anchor="start">D.</text>
<line x1="1777" y1="638.2" x2="1815.5" y2="638.2" stroke="#000" stroke-width="3.2" stroke-linecap="butt"/>
<circle cx="1796.2" cy="638.2" r="7.4" fill="#000"/>
<text x="1836.3" y="648.7" font-size="29.4" text-anchor="start">Wild Type</text>
<line x1="1777" y1="685.3" x2="1815.5" y2="685.3" stroke="#000" stroke-width="3.2" stroke-linecap="butt"/>
<rect x="1789.2" y="678.3" width="14" height="14" fill="#0f86a0" stroke="#0c6a80" stroke-width="1"/>
<text x="1836.3" y="695.8" font-size="29.4" text-anchor="start">C8</text>
<line x1="1777" y1="732.2" x2="1815.5" y2="732.2" stroke="#000" stroke-width="3.2" stroke-linecap="butt"/>
<polygon points="1796.2,724.4 1803.6,739.4 1788.8,739.4" fill="#ffff00" stroke="#555500" stroke-width="1" stroke-linejoin="miter"/>
<text x="1836.3" y="742.7" font-size="29.4" text-anchor="start">C23</text>
<line x1="1777" y1="779" x2="1815.5" y2="779" stroke="#000" stroke-width="3.2" stroke-linecap="butt"/>
<polygon points="1796.2,786.1 1803.2,772.2 1789.2,772.2" fill="#ff4b4b" stroke="#b03030" stroke-width="0.8" stroke-linejoin="miter"/>
<text x="1836.3" y="789.5" font-size="29.4" text-anchor="start">C26</text>
<line x1="1777" y1="826.1" x2="1815.5" y2="826.1" stroke="#000" stroke-width="3.2" stroke-linecap="butt"/>
<polygon points="1796.2,818.5 1803.6,826.1 1796.2,833.7 1788.8,826.1" fill="#0000ff"/>
<text x="1836.3" y="836.6" font-size="29.4" text-anchor="start">C79</text>
<line x1="1777" y1="872.9" x2="1815.5" y2="872.9" stroke="#000" stroke-width="3.2" stroke-linecap="butt"/>
<rect x="1789.1" y="865.8" width="14.2" height="14.2" fill="#d8126f" stroke="#000" stroke-width="3.7"/>
<text x="1836.3" y="883.4" font-size="29.4" text-anchor="start">C83</text>
<line x1="1773.8" y1="923.2" x2="1812.3" y2="923.2" stroke="#000" stroke-width="3.2" stroke-linecap="butt"/>
<polygon points="1793,916.2 1799.8,929.4 1786.2,929.4" fill="#00d400" stroke="#000" stroke-width="2.9" stroke-linejoin="miter"/>
<text x="1833.1" y="933.7" font-size="29.4" text-anchor="start">C26 C8</text>
<line x1="1773.8" y1="969.4" x2="1812.3" y2="969.4" stroke="#000" stroke-width="3.2" stroke-linecap="butt"/>
<circle cx="1793" cy="969.4" r="6.6" fill="#7b0ea3" stroke="#000" stroke-width="1.2"/>
<text x="1833.1" y="979.9" font-size="29.4" text-anchor="start">C26 C79</text>
<line x1="1773.8" y1="1015.6" x2="1812.3" y2="1015.6" stroke="#000" stroke-width="3.2" stroke-linecap="butt"/>
<polygon points="1793,1023 1800.3,1008.4 1785.7,1008.4" fill="#a7a7af" stroke="#8a8a92" stroke-width="0.8" stroke-linejoin="miter"/>
<text x="1833.1" y="1026.1" font-size="29.4" text-anchor="start">C26 C83</text>
<line x1="1773.8" y1="1061.8" x2="1812.3" y2="1061.8" stroke="#000" stroke-width="3.2" stroke-linecap="butt"/>
<circle cx="1793" cy="1061.8" r="7" fill="#ff6a00" stroke="#000" stroke-width="3"/>
<text x="1833.1" y="1072.3" font-size="29.4" text-anchor="start">C8 C26 C79</text>
<line x1="1773.8" y1="1108.6" x2="1812.3" y2="1108.6" stroke="#000" stroke-width="3.2" stroke-linecap="butt"/>
<polygon points="1793,1101.8 1790.8,1104.9 1787.1,1105.2 1788.7,1108.6 1787.1,1112 1790.8,1112.3 1793,1115.4 1795.2,1112.3 1798.9,1112 1797.3,1108.6 1798.9,1105.2 1795.2,1104.9" fill="#000"/>
<text x="1833.1" y="1119.1" font-size="29.4" text-anchor="start">C8 C26 C83</text>
<line x1="1773.8" y1="1154.8" x2="1812.3" y2="1154.8" stroke="#000" stroke-width="3.2" stroke-linecap="butt"/>
<polygon points="1793,1148.1 1791.3,1152.5 1786.6,1152.7 1790.3,1155.7 1789.1,1160.2 1793,1157.7 1796.9,1160.2 1795.7,1155.7 1799.4,1152.7 1794.7,1152.5" fill="#000"/>
<text x="1833.1" y="1165.3" font-size="29.4" text-anchor="start">Quad</text>
<rect x="178.8" y="1713.3" width="38.2" height="52.6" fill="#d4d4d4" stroke="#000" stroke-width="5"/>
<rect x="244.6" y="1711.3" width="38.2" height="54.6" fill="#d4d4d4" stroke="#000" stroke-width="5"/>
<rect x="376.2" y="1556.4" width="38.2" height="209.5" fill="#d4d4d4" stroke="#000" stroke-width="5"/>
<rect x="442" y="1717.7" width="38.2" height="48.2" fill="#d4d4d4" stroke="#000" stroke-width="5"/>
<rect x="507.8" y="1700.6" width="38.2" height="65.3" fill="#d4d4d4" stroke="#000" stroke-width="5"/>
<rect x="573.6" y="1532.8" width="38.2" height="233.1" fill="#d4d4d4" stroke="#000" stroke-width="5"/>
<rect x="639.4" y="1487.1" width="38.2" height="278.8" fill="#d4d4d4" stroke="#000" stroke-width="5"/>
<rect x="705.2" y="1495.1" width="38.2" height="270.8" fill="#d4d4d4" stroke="#000" stroke-width="5"/>
<rect x="771" y="1474.9" width="38.2" height="291" fill="#d4d4d4" stroke="#000" stroke-width="5"/>
<rect x="836.8" y="1528.6" width="38.2" height="237.3" fill="#d4d4d4" stroke="#000" stroke-width="5"/>
<rect x="902.6" y="1549.4" width="38.2" height="216.5" fill="#d4d4d4" stroke="#000" stroke-width="5"/>
<line x1="153.7" y1="1378.3" x2="153.7" y2="1768.9" stroke="#000" stroke-width="6" stroke-linecap="butt"/>
<line x1="150.7" y1="1765.9" x2="967.7" y2="1765.9" stroke="#000" stroke-width="6" stroke-linecap="butt"/>
<line x1="136.7" y1="1765.9" x2="153.7" y2="1765.9" stroke="#000" stroke-width="6" stroke-linecap="butt"/>
<text x="132.2" y="1776" font-size="28.5" font-weight="bold" text-anchor="end">0</text>
<line x1="136.7" y1="1669.8" x2="153.7" y2="1669.8" stroke="#000" stroke-width="6" stroke-linecap="butt"/>
<text x="132.2" y="1679.8" font-size="28.5" font-weight="bold" text-anchor="end">100</text>
<line x1="136.7" y1="1573.6" x2="153.7" y2="1573.6" stroke="#000" stroke-width="6" stroke-linecap="butt"/>
<text x="132.2" y="1583.7" font-size="28.5" font-weight="bold" text-anchor="end">200</text>
<line x1="136.7" y1="1477.5" x2="153.7" y2="1477.5" stroke="#000" stroke-width="6" stroke-linecap="butt"/>
<text x="132.2" y="1487.5" font-size="28.5" font-weight="bold" text-anchor="end">300</text>
<line x1="136.7" y1="1381.3" x2="153.7" y2="1381.3" stroke="#000" stroke-width="6" stroke-linecap="butt"/>
<text x="132.2" y="1391.4" font-size="28.5" font-weight="bold" text-anchor="end">400</text>
<line x1="197.2" y1="1765.9" x2="197.2" y2="1782.4" stroke="#000" stroke-width="6" stroke-linecap="butt"/>
<text x="207.4" y="1809.1" font-size="29.7" font-weight="bold" text-anchor="end" transform="rotate(-45 207.4 1809.1)">WT</text>
<line x1="263" y1="1765.9" x2="263" y2="1782.4" stroke="#000" stroke-width="6" stroke-linecap="butt"/>
<text x="273.2" y="1809.1" font-size="29.7" font-weight="bold" text-anchor="end" transform="rotate(-45 273.2 1809.1)">C8</text>
<line x1="328.8" y1="1765.9" x2="328.8" y2="1782.4" stroke="#000" stroke-width="6" stroke-linecap="butt"/>
<text x="339" y="1809.1" font-size="29.7" font-weight="bold" text-anchor="end" transform="rotate(-45 339 1809.1)">C23</text>
<line x1="394.6" y1="1765.9" x2="394.6" y2="1782.4" stroke="#000" stroke-width="6" stroke-linecap="butt"/>
<text x="404.8" y="1809.1" font-size="29.7" font-weight="bold" text-anchor="end" transform="rotate(-45 404.8 1809.1)">C26</text>
<line x1="460.4" y1="1765.9" x2="460.4" y2="1782.4" stroke="#000" stroke-width="6" stroke-linecap="butt"/>
<text x="470.6" y="1809.1" font-size="29.7" font-weight="bold" text-anchor="end" transform="rotate(-45 470.6 1809.1)">C79</text>
<line x1="526.2" y1="1765.9" x2="526.2" y2="1782.4" stroke="#000" stroke-width="6" stroke-linecap="butt"/>
<text x="536.4" y="1809.1" font-size="29.7" font-weight="bold" text-anchor="end" transform="rotate(-45 536.4 1809.1)">C83</text>
<line x1="592" y1="1765.9" x2="592" y2="1782.4" stroke="#000" stroke-width="6" stroke-linecap="butt"/>
<text x="602.2" y="1809.1" font-size="29.7" font-weight="bold" text-anchor="end" transform="rotate(-45 602.2 1809.1)">C26 C8</text>
<line x1="657.8" y1="1765.9" x2="657.8" y2="1782.4" stroke="#000" stroke-width="6" stroke-linecap="butt"/>
<text x="668" y="1809.1" font-size="29.7" font-weight="bold" text-anchor="end" transform="rotate(-45 668 1809.1)">C26 C79</text>
<line x1="723.6" y1="1765.9" x2="723.6" y2="1782.4" stroke="#000" stroke-width="6" stroke-linecap="butt"/>
<text x="733.8" y="1809.1" font-size="29.7" font-weight="bold" text-anchor="end" transform="rotate(-45 733.8 1809.1)">C26 C83</text>
<line x1="789.4" y1="1765.9" x2="789.4" y2="1782.4" stroke="#000" stroke-width="6" stroke-linecap="butt"/>
<text x="799.6" y="1809.1" font-size="29.7" font-weight="bold" text-anchor="end" transform="rotate(-45 799.6 1809.1)">C8 C26 C79</text>
<line x1="855.2" y1="1765.9" x2="855.2" y2="1782.4" stroke="#000" stroke-width="6" stroke-linecap="butt"/>
<text x="865.4" y="1809.1" font-size="29.7" font-weight="bold" text-anchor="end" transform="rotate(-45 865.4 1809.1)">C8 C26 C83</text>
<line x1="921" y1="1765.9" x2="921" y2="1782.4" stroke="#000" stroke-width="6" stroke-linecap="butt"/>
<text x="931.2" y="1809.1" font-size="29.7" font-weight="bold" text-anchor="end" transform="rotate(-45 931.2 1809.1)">Quad</text>
<line x1="197.5" y1="1696.8" x2="197.5" y2="1724" stroke="#000" stroke-width="1.9" stroke-linecap="butt"/>
<line x1="186.8" y1="1696.8" x2="208.3" y2="1696.8" stroke="#000" stroke-width="1.9" stroke-linecap="butt"/>
<line x1="186.8" y1="1724" x2="208.3" y2="1724" stroke="#000" stroke-width="1.9" stroke-linecap="butt"/>
<line x1="263.4" y1="1684" x2="263.4" y2="1733" stroke="#000" stroke-width="1.9" stroke-linecap="butt"/>
<line x1="252.6" y1="1684" x2="274.1" y2="1684" stroke="#000" stroke-width="1.9" stroke-linecap="butt"/>
<line x1="252.6" y1="1733" x2="274.1" y2="1733" stroke="#000" stroke-width="1.9" stroke-linecap="butt"/>
<line x1="394.9" y1="1538.4" x2="394.9" y2="1568" stroke="#000" stroke-width="1.9" stroke-linecap="butt"/>
<line x1="384.2" y1="1538.4" x2="405.7" y2="1538.4" stroke="#000" stroke-width="1.9" stroke-linecap="butt"/>
<line x1="384.2" y1="1568" x2="405.7" y2="1568" stroke="#000" stroke-width="1.9" stroke-linecap="butt"/>
<line x1="460.8" y1="1700.6" x2="460.8" y2="1729.7" stroke="#000" stroke-width="1.9" stroke-linecap="butt"/>
<line x1="450" y1="1700.6" x2="471.5" y2="1700.6" stroke="#000" stroke-width="1.9" stroke-linecap="butt"/>
<line x1="450" y1="1729.7" x2="471.5" y2="1729.7" stroke="#000" stroke-width="1.9" stroke-linecap="butt"/>
<line x1="526.6" y1="1668.4" x2="526.6" y2="1726.5" stroke="#000" stroke-width="1.9" stroke-linecap="butt"/>
<line x1="515.8" y1="1668.4" x2="537.3" y2="1668.4" stroke="#000" stroke-width="1.9" stroke-linecap="butt"/>
<line x1="515.8" y1="1726.5" x2="537.3" y2="1726.5" stroke="#000" stroke-width="1.9" stroke-linecap="butt"/>
<line x1="592.4" y1="1491" x2="592.4" y2="1569.9" stroke="#000" stroke-width="1.9" stroke-linecap="butt"/>
<line x1="581.6" y1="1491" x2="603.1" y2="1491" stroke="#000" stroke-width="1.9" stroke-linecap="butt"/>
<line x1="581.6" y1="1569.9" x2="603.1" y2="1569.9" stroke="#000" stroke-width="1.9" stroke-linecap="butt"/>
<line x1="658.1" y1="1430.9" x2="658.1" y2="1537.3" stroke="#000" stroke-width="1.9" stroke-linecap="butt"/>
<line x1="647.4" y1="1430.9" x2="668.9" y2="1430.9" stroke="#000" stroke-width="1.9" stroke-linecap="butt"/>
<line x1="647.4" y1="1537.3" x2="668.9" y2="1537.3" stroke="#000" stroke-width="1.9" stroke-linecap="butt"/>
<line x1="723.9" y1="1453.6" x2="723.9" y2="1530.9" stroke="#000" stroke-width="1.9" stroke-linecap="butt"/>
<line x1="713.2" y1="1453.6" x2="734.7" y2="1453.6" stroke="#000" stroke-width="1.9" stroke-linecap="butt"/>
<line x1="713.2" y1="1530.9" x2="734.7" y2="1530.9" stroke="#000" stroke-width="1.9" stroke-linecap="butt"/>
<line x1="789.7" y1="1442.4" x2="789.7" y2="1501.5" stroke="#000" stroke-width="1.9" stroke-linecap="butt"/>
<line x1="779" y1="1442.4" x2="800.5" y2="1442.4" stroke="#000" stroke-width="1.9" stroke-linecap="butt"/>
<line x1="779" y1="1501.5" x2="800.5" y2="1501.5" stroke="#000" stroke-width="1.9" stroke-linecap="butt"/>
<line x1="855.6" y1="1492.6" x2="855.6" y2="1560.3" stroke="#000" stroke-width="1.9" stroke-linecap="butt"/>
<line x1="844.8" y1="1492.6" x2="866.3" y2="1492.6" stroke="#000" stroke-width="1.9" stroke-linecap="butt"/>
<line x1="844.8" y1="1560.3" x2="866.3" y2="1560.3" stroke="#000" stroke-width="1.9" stroke-linecap="butt"/>
<line x1="921.4" y1="1457.4" x2="921.4" y2="1636.4" stroke="#000" stroke-width="1.9" stroke-linecap="butt"/>
<line x1="910.6" y1="1457.4" x2="932.1" y2="1457.4" stroke="#000" stroke-width="1.9" stroke-linecap="butt"/>
<line x1="910.6" y1="1636.4" x2="932.1" y2="1636.4" stroke="#000" stroke-width="1.9" stroke-linecap="butt"/>
<polygon points="183.7,1692.2 191.6,1706.2 175.8,1706.2" fill="#000"/>
<polygon points="212.2,1699.9 220.1,1713.9 204.3,1713.9" fill="#000"/>
<polygon points="197.7,1720.3 205.6,1734.3 189.8,1734.3" fill="#000"/>
<polygon points="263.3,1675.7 271.2,1689.7 255.4,1689.7" fill="#000"/>
<polygon points="263.3,1707.6 271.2,1721.6 255.4,1721.6" fill="#000"/>
<polygon points="263.3,1724.1 271.2,1738.1 255.4,1738.1" fill="#000"/>
<polygon points="315.3,1757.2 323.2,1771.2 307.4,1771.2" fill="#000"/>
<polygon points="329,1755.6 336.9,1769.6 321.1,1769.6" fill="#000"/>
<polygon points="342.8,1757.2 350.7,1771.2 334.9,1771.2" fill="#000"/>
<polygon points="380.6,1534.1 388.5,1548.1 372.7,1548.1" fill="#000"/>
<polygon points="409.4,1541.7 417.3,1555.7 401.5,1555.7" fill="#000"/>
<polygon points="394.9,1564.7 402.8,1578.7 387,1578.7" fill="#000"/>
<polygon points="460.5,1692.2 468.4,1706.2 452.6,1706.2" fill="#000"/>
<polygon points="474.5,1708.8 482.4,1722.8 466.6,1722.8" fill="#000"/>
<polygon points="446.4,1722.9 454.3,1736.9 438.5,1736.9" fill="#000"/>
<polygon points="526.7,1656.9 534.6,1670.9 518.8,1670.9" fill="#000"/>
<polygon points="512.3,1710.3 520.2,1724.3 504.4,1724.3" fill="#000"/>
<polygon points="540.1,1704.9 548,1718.9 532.2,1718.9" fill="#000"/>
<polygon points="592.2,1480.2 600.1,1494.2 584.3,1494.2" fill="#000"/>
<polygon points="592.2,1532.9 600.1,1546.9 584.3,1546.9" fill="#000"/>
<polygon points="592.2,1556.9 600.1,1570.9 584.3,1570.9" fill="#000"/>
<polygon points="658.4,1418.5 666.3,1432.5 650.5,1432.5" fill="#000"/>
<polygon points="658.4,1489.8 666.3,1503.8 650.5,1503.8" fill="#000"/>
<polygon points="658.4,1522.7 666.3,1536.7 650.5,1536.7" fill="#000"/>
<polygon points="709.5,1457.8 717.4,1471.8 701.6,1471.8" fill="#000"/>
<polygon points="738.6,1469.6 746.5,1483.6 730.7,1483.6" fill="#000"/>
<polygon points="723.9,1529.7 731.8,1543.7 716,1543.7" fill="#000"/>
<polygon points="775.3,1445 783.2,1459 767.4,1459" fill="#000"/>
<polygon points="804.1,1451.4 812,1465.4 796.2,1465.4" fill="#000"/>
<polygon points="789.7,1499.4 797.6,1513.4 781.8,1513.4" fill="#000"/>
<polygon points="855.2,1480.2 863.1,1494.2 847.3,1494.2" fill="#000"/>
<polygon points="855.2,1528.1 863.1,1542.1 847.3,1542.1" fill="#000"/>
<polygon points="855.2,1547.3 863.1,1561.3 847.3,1561.3" fill="#000"/>
<polygon points="921.4,1458.8 929.3,1472.8 913.5,1472.8" fill="#000"/>
<polygon points="921.4,1527.2 929.3,1541.2 913.5,1541.2" fill="#000"/>
<polygon points="921.4,1636.8 929.3,1650.8 913.5,1650.8" fill="#000"/>
<text x="396.2" y="1533.7" font-size="32.3" text-anchor="middle">***</text>
<text x="591.6" y="1483" font-size="32.3" text-anchor="middle">***</text>
<text x="657.7" y="1422.9" font-size="32.3" text-anchor="middle">****</text>
<text x="723.9" y="1457.1" font-size="32.3" text-anchor="middle">****</text>
<text x="789.4" y="1445.9" font-size="32.3" text-anchor="middle">****</text>
<text x="854.9" y="1490" font-size="32.3" text-anchor="middle">****</text>
<text x="921.1" y="1460.6" font-size="32.3" text-anchor="middle">***</text>
<text x="558.6" y="1332.1" font-size="36.5" font-weight="bold" text-anchor="middle">diE-GSSG</text>
<text x="77.2" y="1266.5" font-size="44.5" font-weight="bold" text-anchor="start">E.</text>
<text x="26.5" y="1573.4" font-size="31.4" font-weight="bold" text-anchor="middle" transform="rotate(-90 26.5 1573.4)" xml:space="preserve" style="white-space:pre">Mean  Activity</text>
<text x="65" y="1573.2" font-size="31.7" font-weight="bold" text-anchor="middle" transform="rotate(-90 65 1573.2)">(Flu/min/ng protein)</text>
<rect x="1208" y="1735" width="38.2" height="30.9" fill="#d4d4d4" stroke="#000" stroke-width="5"/>
<rect x="1273.7" y="1734.2" width="38.2" height="31.7" fill="#d4d4d4" stroke="#000" stroke-width="5"/>
<rect x="1339.4" y="1763.5" width="38.2" height="2.4" fill="#d4d4d4" stroke="#000" stroke-width="5"/>
<rect x="1405.2" y="1548.8" width="38.2" height="217.1" fill="#d4d4d4" stroke="#000" stroke-width="5"/>
<rect x="1470.9" y="1697.4" width="38.2" height="68.5" fill="#d4d4d4" stroke="#000" stroke-width="5"/>
<rect x="1536.6" y="1728.4" width="38.2" height="37.5" fill="#d4d4d4" stroke="#000" stroke-width="5"/>
<rect x="1602.3" y="1626.1" width="38.2" height="139.8" fill="#d4d4d4" stroke="#000" stroke-width="5"/>
<rect x="1668" y="1577.5" width="38.2" height="188.4" fill="#d4d4d4" stroke="#000" stroke-width="5"/>
<rect x="1733.8" y="1578.8" width="38.2" height="187.1" fill="#d4d4d4" stroke="#000" stroke-width="5"/>
<rect x="1799.5" y="1588.4" width="38.2" height="177.5" fill="#d4d4d4" stroke="#000" stroke-width="5"/>
<rect x="1865.2" y="1614.9" width="38.2" height="151" fill="#d4d4d4" stroke="#000" stroke-width="5"/>
<rect x="1930.9" y="1552" width="38.2" height="213.9" fill="#d4d4d4" stroke="#000" stroke-width="5"/>
<line x1="1182.5" y1="1380.5" x2="1182.5" y2="1768.9" stroke="#000" stroke-width="6" stroke-linecap="butt"/>
<line x1="1179.5" y1="1765.9" x2="1995" y2="1765.9" stroke="#000" stroke-width="6" stroke-linecap="butt"/>
<line x1="1165.5" y1="1765.9" x2="1182.5" y2="1765.9" stroke="#000" stroke-width="6" stroke-linecap="butt"/>
<text x="1161" y="1776" font-size="28.5" font-weight="bold" text-anchor="end">0</text>
<line x1="1165.5" y1="1670.3" x2="1182.5" y2="1670.3" stroke="#000" stroke-width="6" stroke-linecap="butt"/>
<text x="1161" y="1680.4" font-size="28.5" font-weight="bold" text-anchor="end">200</text>
<line x1="1165.5" y1="1574.7" x2="1182.5" y2="1574.7" stroke="#000" stroke-width="6" stroke-linecap="butt"/>
<text x="1161" y="1584.8" font-size="28.5" font-weight="bold" text-anchor="end">400</text>
<line x1="1165.5" y1="1479.1" x2="1182.5" y2="1479.1" stroke="#000" stroke-width="6" stroke-linecap="butt"/>
<text x="1161" y="1489.2" font-size="28.5" font-weight="bold" text-anchor="end">600</text>
<line x1="1165.5" y1="1383.5" x2="1182.5" y2="1383.5" stroke="#000" stroke-width="6" stroke-linecap="butt"/>
<text x="1161" y="1393.6" font-size="28.5" font-weight="bold" text-anchor="end">800</text>
<line x1="1226.6" y1="1765.9" x2="1226.6" y2="1782.4" stroke="#000" stroke-width="6" stroke-linecap="butt"/>
<text x="1236.8" y="1809.1" font-size="29.7" font-weight="bold" text-anchor="end" transform="rotate(-45 1236.8 1809.1)">WT</text>
<line x1="1292.3" y1="1765.9" x2="1292.3" y2="1782.4" stroke="#000" stroke-width="6" stroke-linecap="butt"/>
<text x="1302.5" y="1809.1" font-size="29.7" font-weight="bold" text-anchor="end" transform="rotate(-45 1302.5 1809.1)">C8</text>
<line x1="1358" y1="1765.9" x2="1358" y2="1782.4" stroke="#000" stroke-width="6" stroke-linecap="butt"/>
<text x="1368.2" y="1809.1" font-size="29.7" font-weight="bold" text-anchor="end" transform="rotate(-45 1368.2 1809.1)">C23</text>
<line x1="1423.8" y1="1765.9" x2="1423.8" y2="1782.4" stroke="#000" stroke-width="6" stroke-linecap="butt"/>
<text x="1434" y="1809.1" font-size="29.7" font-weight="bold" text-anchor="end" transform="rotate(-45 1434 1809.1)">C26</text>
<line x1="1489.5" y1="1765.9" x2="1489.5" y2="1782.4" stroke="#000" stroke-width="6" stroke-linecap="butt"/>
<text x="1499.7" y="1809.1" font-size="29.7" font-weight="bold" text-anchor="end" transform="rotate(-45 1499.7 1809.1)">C79</text>
<line x1="1555.2" y1="1765.9" x2="1555.2" y2="1782.4" stroke="#000" stroke-width="6" stroke-linecap="butt"/>
<text x="1565.4" y="1809.1" font-size="29.7" font-weight="bold" text-anchor="end" transform="rotate(-45 1565.4 1809.1)">C83</text>
<line x1="1620.9" y1="1765.9" x2="1620.9" y2="1782.4" stroke="#000" stroke-width="6" stroke-linecap="butt"/>
<text x="1631.1" y="1809.1" font-size="29.7" font-weight="bold" text-anchor="end" transform="rotate(-45 1631.1 1809.1)">C26 C8</text>
<line x1="1686.6" y1="1765.9" x2="1686.6" y2="1782.4" stroke="#000" stroke-width="6" stroke-linecap="butt"/>
<text x="1696.8" y="1809.1" font-size="29.7" font-weight="bold" text-anchor="end" transform="rotate(-45 1696.8 1809.1)">C26 C79</text>
<line x1="1752.4" y1="1765.9" x2="1752.4" y2="1782.4" stroke="#000" stroke-width="6" stroke-linecap="butt"/>
<text x="1762.6" y="1809.1" font-size="29.7" font-weight="bold" text-anchor="end" transform="rotate(-45 1762.6 1809.1)">C26 C83</text>
<line x1="1818.1" y1="1765.9" x2="1818.1" y2="1782.4" stroke="#000" stroke-width="6" stroke-linecap="butt"/>
<text x="1828.3" y="1809.1" font-size="29.7" font-weight="bold" text-anchor="end" transform="rotate(-45 1828.3 1809.1)">C8 C26 C79</text>
<line x1="1883.8" y1="1765.9" x2="1883.8" y2="1782.4" stroke="#000" stroke-width="6" stroke-linecap="butt"/>
<text x="1894" y="1809.1" font-size="29.7" font-weight="bold" text-anchor="end" transform="rotate(-45 1894 1809.1)">C8 C26 C83</text>
<line x1="1949.5" y1="1765.9" x2="1949.5" y2="1782.4" stroke="#000" stroke-width="6" stroke-linecap="butt"/>
<text x="1959.7" y="1809.1" font-size="29.7" font-weight="bold" text-anchor="end" transform="rotate(-45 1959.7 1809.1)">Quad</text>
<line x1="1226.8" y1="1727.9" x2="1226.8" y2="1736.8" stroke="#000" stroke-width="1.9" stroke-linecap="butt"/>
<line x1="1216.1" y1="1727.9" x2="1237.6" y2="1727.9" stroke="#000" stroke-width="1.9" stroke-linecap="butt"/>
<line x1="1216.1" y1="1736.8" x2="1237.6" y2="1736.8" stroke="#000" stroke-width="1.9" stroke-linecap="butt"/>
<line x1="1292.6" y1="1727" x2="1292.6" y2="1736" stroke="#000" stroke-width="1.9" stroke-linecap="butt"/>
<line x1="1281.8" y1="1727" x2="1303.3" y2="1727" stroke="#000" stroke-width="1.9" stroke-linecap="butt"/>
<line x1="1281.8" y1="1736" x2="1303.3" y2="1736" stroke="#000" stroke-width="1.9" stroke-linecap="butt"/>
<line x1="1424" y1="1481.9" x2="1424" y2="1610" stroke="#000" stroke-width="1.9" stroke-linecap="butt"/>
<line x1="1413.3" y1="1481.9" x2="1434.8" y2="1481.9" stroke="#000" stroke-width="1.9" stroke-linecap="butt"/>
<line x1="1413.3" y1="1610" x2="1434.8" y2="1610" stroke="#000" stroke-width="1.9" stroke-linecap="butt"/>
<line x1="1489.7" y1="1646.8" x2="1489.7" y2="1740.7" stroke="#000" stroke-width="1.9" stroke-linecap="butt"/>
<line x1="1479" y1="1646.8" x2="1500.5" y2="1646.8" stroke="#000" stroke-width="1.9" stroke-linecap="butt"/>
<line x1="1479" y1="1740.7" x2="1500.5" y2="1740.7" stroke="#000" stroke-width="1.9" stroke-linecap="butt"/>
<line x1="1555.4" y1="1723.3" x2="1555.4" y2="1732.3" stroke="#000" stroke-width="1.9" stroke-linecap="butt"/>
<line x1="1544.7" y1="1723.3" x2="1566.2" y2="1723.3" stroke="#000" stroke-width="1.9" stroke-linecap="butt"/>
<line x1="1544.7" y1="1732.3" x2="1566.2" y2="1732.3" stroke="#000" stroke-width="1.9" stroke-linecap="butt"/>
<line x1="1621.2" y1="1594.8" x2="1621.2" y2="1651.7" stroke="#000" stroke-width="1.9" stroke-linecap="butt"/>
<line x1="1610.4" y1="1594.8" x2="1631.9" y2="1594.8" stroke="#000" stroke-width="1.9" stroke-linecap="butt"/>
<line x1="1610.4" y1="1651.7" x2="1631.9" y2="1651.7" stroke="#000" stroke-width="1.9" stroke-linecap="butt"/>
<line x1="1686.9" y1="1525.5" x2="1686.9" y2="1624.3" stroke="#000" stroke-width="1.9" stroke-linecap="butt"/>
<line x1="1676.1" y1="1525.5" x2="1697.6" y2="1525.5" stroke="#000" stroke-width="1.9" stroke-linecap="butt"/>
<line x1="1676.1" y1="1624.3" x2="1697.6" y2="1624.3" stroke="#000" stroke-width="1.9" stroke-linecap="butt"/>
<line x1="1752.6" y1="1542.8" x2="1752.6" y2="1609.2" stroke="#000" stroke-width="1.9" stroke-linecap="butt"/>
<line x1="1741.9" y1="1542.8" x2="1763.4" y2="1542.8" stroke="#000" stroke-width="1.9" stroke-linecap="butt"/>
<line x1="1741.9" y1="1609.2" x2="1763.4" y2="1609.2" stroke="#000" stroke-width="1.9" stroke-linecap="butt"/>
<line x1="1818.3" y1="1535.7" x2="1818.3" y2="1635.4" stroke="#000" stroke-width="1.9" stroke-linecap="butt"/>
<line x1="1807.6" y1="1535.7" x2="1829.1" y2="1535.7" stroke="#000" stroke-width="1.9" stroke-linecap="butt"/>
<line x1="1807.6" y1="1635.4" x2="1829.1" y2="1635.4" stroke="#000" stroke-width="1.9" stroke-linecap="butt"/>
<line x1="1884" y1="1582.1" x2="1884" y2="1642.1" stroke="#000" stroke-width="1.9" stroke-linecap="butt"/>
<line x1="1873.3" y1="1582.1" x2="1894.8" y2="1582.1" stroke="#000" stroke-width="1.9" stroke-linecap="butt"/>
<line x1="1873.3" y1="1642.1" x2="1894.8" y2="1642.1" stroke="#000" stroke-width="1.9" stroke-linecap="butt"/>
<line x1="1949.8" y1="1496.7" x2="1949.8" y2="1602.5" stroke="#000" stroke-width="1.9" stroke-linecap="butt"/>
<line x1="1939" y1="1496.7" x2="1960.5" y2="1496.7" stroke="#000" stroke-width="1.9" stroke-linecap="butt"/>
<line x1="1939" y1="1602.5" x2="1960.5" y2="1602.5" stroke="#000" stroke-width="1.9" stroke-linecap="butt"/>
<polygon points="1213,1724.1 1220.9,1738.1 1205.1,1738.1" fill="#000"/>
<polygon points="1221.4,1717.8 1229.3,1731.8 1213.5,1731.8" fill="#000"/>
<polygon points="1230.9,1725.4 1238.8,1739.4 1223,1739.4" fill="#000"/>
<polygon points="1239.8,1722.9 1247.7,1736.9 1231.9,1736.9" fill="#000"/>
<polygon points="1279.3,1728 1287.2,1742 1271.4,1742" fill="#000"/>
<polygon points="1288.3,1719 1296.2,1733 1280.4,1733" fill="#000"/>
<polygon points="1297.2,1724.1 1305.1,1738.1 1289.3,1738.1" fill="#000"/>
<polygon points="1306.1,1721.6 1314,1735.6 1298.2,1735.6" fill="#000"/>
<polygon points="1344.4,1757 1352.3,1771 1336.5,1771" fill="#000"/>
<polygon points="1353.3,1749.6 1361.2,1763.6 1345.4,1763.6" fill="#000"/>
<polygon points="1362.2,1755.9 1370.1,1769.9 1354.3,1769.9" fill="#000"/>
<polygon points="1371.9,1755.1 1379.8,1769.1 1364,1769.1" fill="#000"/>
<polygon points="1424.2,1477.6 1432.1,1491.6 1416.3,1491.6" fill="#000"/>
<polygon points="1424.2,1494.7 1432.1,1508.7 1416.3,1508.7" fill="#000"/>
<polygon points="1424.2,1575.1 1432.1,1589.1 1416.3,1589.1" fill="#000"/>
<polygon points="1424.2,1613.3 1432.1,1627.3 1416.3,1627.3" fill="#000"/>
<polygon points="1489.6,1630.4 1497.5,1644.4 1481.7,1644.4" fill="#000"/>
<polygon points="1489.6,1671 1497.5,1685 1481.7,1685" fill="#000"/>
<polygon points="1489.6,1716.7 1497.5,1730.7 1481.7,1730.7" fill="#000"/>
<polygon points="1489.6,1734.9 1497.5,1748.9 1481.7,1748.9" fill="#000"/>
<polygon points="1541.1,1727.9 1549,1741.9 1533.2,1741.9" fill="#000"/>
<polygon points="1550,1713.5 1557.9,1727.5 1542.1,1727.5" fill="#000"/>
<polygon points="1560.3,1719.9 1568.2,1733.9 1552.4,1733.9" fill="#000"/>
<polygon points="1569.2,1715.1 1577.1,1729.1 1561.3,1729.1" fill="#000"/>
<polygon points="1606.6,1619.8 1614.5,1633.8 1598.7,1633.8" fill="#000"/>
<polygon points="1621.6,1577 1629.5,1591 1613.7,1591" fill="#000"/>
<polygon points="1635.4,1624 1643.3,1638 1627.5,1638" fill="#000"/>
<polygon points="1621.6,1646.4 1629.5,1660.4 1613.7,1660.4" fill="#000"/>
<polygon points="1687.1,1502.6 1695,1516.6 1679.2,1516.6" fill="#000"/>
<polygon points="1687.1,1564.9 1695,1578.9 1679.2,1578.9" fill="#000"/>
<polygon points="1687.1,1587.9 1695,1601.9 1679.2,1601.9" fill="#000"/>
<polygon points="1687.1,1620.8 1695,1634.8 1679.2,1634.8" fill="#000"/>
<polygon points="1752.7,1529.7 1760.6,1543.7 1744.8,1543.7" fill="#000"/>
<polygon points="1752.7,1556.9 1760.6,1570.9 1744.8,1570.9" fill="#000"/>
<polygon points="1752.7,1586.6 1760.6,1600.6 1744.8,1600.6" fill="#000"/>
<polygon points="1752.7,1606.4 1760.6,1620.4 1744.8,1620.4" fill="#000"/>
<polygon points="1818.2,1521.7 1826.1,1535.7 1810.3,1535.7" fill="#000"/>
<polygon points="1818.2,1561.7 1826.1,1575.7 1810.3,1575.7" fill="#000"/>
<polygon points="1818.2,1591.4 1826.1,1605.4 1810.3,1605.4" fill="#000"/>
<polygon points="1818.2,1640.9 1826.1,1654.9 1810.3,1654.9" fill="#000"/>
<polygon points="1869.6,1600 1877.5,1614 1861.7,1614" fill="#000"/>
<polygon points="1884,1566.5 1891.9,1580.5 1876.1,1580.5" fill="#000"/>
<polygon points="1898.1,1613.5 1906,1627.5 1890.2,1627.5" fill="#000"/>
<polygon points="1884,1640 1891.9,1654 1876.1,1654" fill="#000"/>
<polygon points="1949.8,1481.8 1957.7,1495.8 1941.9,1495.8" fill="#000"/>
<polygon points="1949.8,1521.7 1957.7,1535.7 1941.9,1535.7" fill="#000"/>
<polygon points="1949.8,1564.2 1957.7,1578.2 1941.9,1578.2" fill="#000"/>
<polygon points="1949.8,1604.8 1957.7,1618.8 1941.9,1618.8" fill="#000"/>
<text x="1422.7" y="1477.3" font-size="32.3" text-anchor="middle">****</text>
<text x="1620.3" y="1574.7" font-size="32.3" text-anchor="middle">**</text>
<text x="1686.5" y="1500.6" font-size="32.3" text-anchor="middle">****</text>
<text x="1752" y="1536.3" font-size="32.3" text-anchor="middle">****</text>
<text x="1818.2" y="1522.6" font-size="32.3" text-anchor="middle">****</text>
<text x="1883.4" y="1566.1" font-size="32.3" text-anchor="middle">***</text>
<text x="1948.6" y="1485.8" font-size="32.3" text-anchor="middle">****</text>
<text x="1588.6" y="1332.1" font-size="36.5" font-weight="bold" text-anchor="middle">E-GS-BSA</text>
<text x="1017.2" y="1266.5" font-size="44.5" font-weight="bold" text-anchor="start">F.</text>
<text x="1054" y="1573.4" font-size="31.4" font-weight="bold" text-anchor="middle" transform="rotate(-90 1054 1573.4)" xml:space="preserve" style="white-space:pre">Mean  Activity</text>
<text x="1092.4" y="1573.2" font-size="31.7" font-weight="bold" text-anchor="middle" transform="rotate(-90 1092.4 1573.2)">(Flu/min/ng protein)</text>
</svg>
</body></html>
